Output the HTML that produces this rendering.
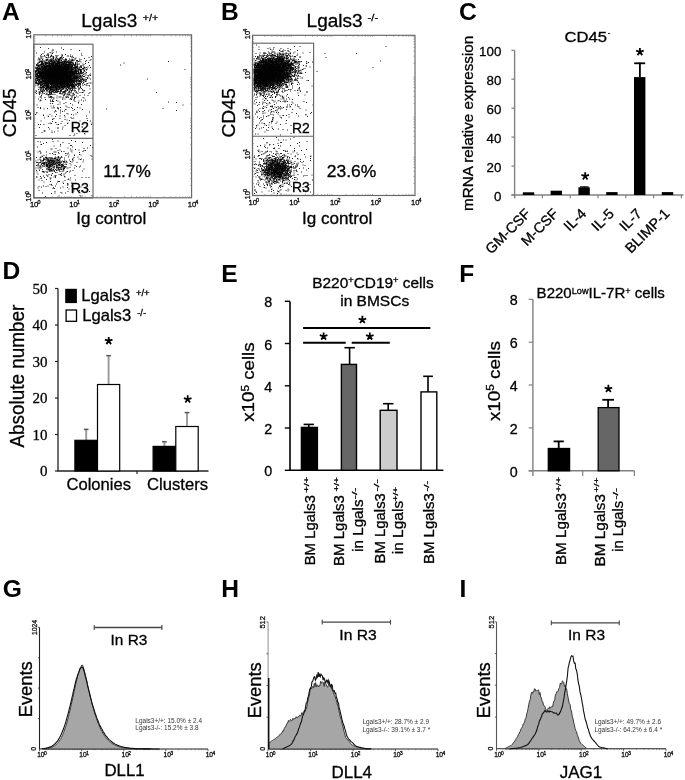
<!DOCTYPE html>
<html><head><meta charset="utf-8"><style>
html,body{margin:0;padding:0;background:#fff;}
body{width:685px;height:780px;overflow:hidden;}
svg{display:block;font-family:"Liberation Sans", sans-serif;filter:grayscale(1);}
svg .r{font-family:"Liberation Serif", serif;}
text{stroke:#000;stroke-width:.3px;}
</style></head><body>
<svg width="685" height="780" viewBox="0 0 685 780">
<text x="1.9" y="19.9" font-size="24.6" font-weight="bold" style="stroke:none">A</text>
<text x="220.9" y="19.9" font-size="24.6" font-weight="bold" style="stroke:none">B</text>
<text x="458.9" y="20.3" font-size="24.6" font-weight="bold" style="stroke:none">C</text>
<text x="2.4" y="279.1" font-size="24.6" font-weight="bold" style="stroke:none">D</text>
<text x="221.2" y="282.0" font-size="24.6" font-weight="bold" style="stroke:none">E</text>
<text x="459.3" y="282.0" font-size="24.6" font-weight="bold" style="stroke:none">F</text>
<text x="2.7" y="596.5" font-size="24.6" font-weight="bold" style="stroke:none">G</text>
<text x="221.2" y="597.0" font-size="24.6" font-weight="bold" style="stroke:none">H</text>
<text x="459.4" y="596.6" font-size="24.6" font-weight="bold" style="stroke:none">I</text>
<path d="M34.5 71h1M34.5 86h1M35 68h1M35 71h1M35 71.5h1M35 72h1M35 72.5h1M35 74h1M35 75h1M35 76h1M35 77h1M35 79h1M35 79.5h1M35 81h1M35 82.5h1M35 83h1M35 92.5h1M35 114.5h1M35.5 67h1M35.5 67.5h1M35.5 68.5h1M35.5 70.5h1M35.5 72h1M35.5 73.5h1M35.5 74.5h1M35.5 75h1M35.5 75.5h1M35.5 76h1M35.5 76.5h1M35.5 78.5h1M35.5 80h1M35.5 80.5h1M35.5 81h1M35.5 81.5h1M35.5 82.5h1M35.5 83.5h1M35.5 85h1M35.5 90.5h1M35.5 135.5h1M35.5 161h1M35.5 168h1M36 53h1M36 64.5h1M36 65.5h1M36 68.5h1M36 70.5h1M36 71.5h1M36 72h1M36 74h1M36 74.5h1M36 76.5h1M36 77h1M36 78.5h1M36 80h1M36 82h1M36 82.5h1M36 83.5h1M36 91.5h1M36 93.5h1M36 113h1M36 157.5h1M36 162.5h1M36 165.5h1M36 170.5h1M36 177h1M36.5 64.5h1M36.5 68h1M36.5 68.5h1M36.5 69h1M36.5 69.5h1M36.5 70h1M36.5 73.5h1M36.5 74.5h1M36.5 75h1M36.5 76.5h1M36.5 77.5h1M36.5 78h1M36.5 78.5h1M36.5 82h1M36.5 83.5h1M36.5 105h1M36.5 112.5h1M36.5 172h1M36.5 177h1M37 64h1M37 65.5h1M37 67.5h1M37 69h1M37 69.5h1M37 70.5h1M37 71h1M37 73h1M37 73.5h1M37 74.5h1M37 75h1M37 75.5h1M37 76h1M37 77h1M37 77.5h1M37 78h1M37 78.5h1M37 79h1M37 80h1M37 80.5h1M37 83h1M37 84h1M37 147h1M37 162.5h1M37 165h1M37.5 60h1M37.5 63h1M37.5 63.5h1M37.5 64h1M37.5 66h1M37.5 66.5h1M37.5 68h1M37.5 68.5h1M37.5 70h1M37.5 71h1M37.5 72h1M37.5 72.5h1M37.5 73h1M37.5 75.5h1M37.5 76h1M37.5 77h1M37.5 77.5h1M37.5 79h1M37.5 79.5h1M37.5 80.5h1M37.5 83.5h1M37.5 85h1M37.5 86h1M37.5 107.5h1M37.5 141.5h1M37.5 152h1M37.5 160h1M37.5 166h1M37.5 168h1M37.5 174h1M37.5 188h1M38 58h1M38 65h1M38 65.5h1M38 66h1M38 68.5h1M38 69.5h1M38 70h1M38 70.5h1M38 71.5h1M38 72h1M38 72.5h1M38 73.5h1M38 75.5h1M38 76h1M38 76.5h1M38 77h1M38 77.5h1M38 79h1M38 79.5h1M38 80h1M38 81.5h1M38 82h1M38 83.5h1M38 84h1M38 84.5h1M38 89.5h1M38 99h1M38 124.5h1M38 164h1M38 165h1M38.5 59h1M38.5 62h1M38.5 62.5h1M38.5 65.5h1M38.5 66.5h1M38.5 67h1M38.5 67.5h1M38.5 68.5h1M38.5 69h1M38.5 70h1M38.5 71.5h1M38.5 72h1M38.5 73h1M38.5 73.5h1M38.5 74.5h1M38.5 76h1M38.5 76.5h1M38.5 77h1M38.5 78h1M38.5 79.5h1M38.5 80.5h1M38.5 82h1M38.5 82.5h1M38.5 87.5h1M38.5 92h1M38.5 93h1M38.5 162.5h1M38.5 163h1M38.5 168h1M38.5 180h1M38.5 186.5h1M38.5 190.5h1M39 59h1M39 60h1M39 62h1M39 62.5h1M39 65h1M39 67h1M39 68h1M39 68.5h1M39 69h1M39 71h1M39 71.5h1M39 72h1M39 72.5h1M39 73h1M39 73.5h1M39 74h1M39 74.5h1M39 75h1M39 76h1M39 76.5h1M39 77h1M39 78h1M39 79.5h1M39 80h1M39 80.5h1M39 81h1M39 82h1M39 83h1M39 83.5h1M39 92h1M39 93h1M39 94.5h1M39 127.5h1M39 167h1M39 170h1M39 170.5h1M39.5 59.5h1M39.5 61.5h1M39.5 65h1M39.5 65.5h1M39.5 67h1M39.5 68.5h1M39.5 69h1M39.5 69.5h1M39.5 70h1M39.5 71h1M39.5 71.5h1M39.5 72h1M39.5 72.5h1M39.5 74h1M39.5 74.5h1M39.5 75h1M39.5 75.5h1M39.5 76h1M39.5 76.5h1M39.5 77h1M39.5 77.5h1M39.5 78.5h1M39.5 79.5h1M39.5 80h1M39.5 81h1M39.5 83h1M39.5 83.5h1M39.5 84h1M39.5 84.5h1M39.5 87h1M39.5 89h1M39.5 92h1M39.5 93.5h1M39.5 97h1M39.5 101h1M39.5 151h1M39.5 151.5h1M39.5 158h1M39.5 159.5h1M39.5 162.5h1M39.5 165.5h1M40 47.5h1M40 56h1M40 58h1M40 61h1M40 61.5h1M40 64.5h1M40 68h1M40 69h1M40 69.5h1M40 71.5h1M40 72h1M40 72.5h1M40 73.5h1M40 74h1M40 74.5h1M40 75h1M40 75.5h1M40 76h1M40 76.5h1M40 77h1M40 78h1M40 79h1M40 81h1M40 81.5h1M40 82.5h1M40 83h1M40 84.5h1M40 85.5h1M40 86h1M40 87.5h1M40 89h1M40 90.5h1M40 92h1M40 97h1M40 100h1M40 107.5h1M40 108.5h1M40 124.5h1M40 142h1M40 153h1M40 157.5h1M40 161h1M40 162.5h1M40 166.5h1M40 168h1M40 176.5h1M40.5 56h1M40.5 63h1M40.5 64.5h1M40.5 65.5h1M40.5 66h1M40.5 66.5h1M40.5 68h1M40.5 68.5h1M40.5 69.5h1M40.5 70h1M40.5 70.5h1M40.5 71h1M40.5 72h1M40.5 72.5h1M40.5 73.5h1M40.5 74h1M40.5 74.5h1M40.5 75h1M40.5 75.5h1M40.5 76h1M40.5 76.5h1M40.5 77h1M40.5 78.5h1M40.5 79.5h1M40.5 82h1M40.5 82.5h1M40.5 83h1M40.5 83.5h1M40.5 84.5h1M40.5 86.5h1M40.5 87.5h1M40.5 88h1M40.5 89.5h1M40.5 100.5h1M40.5 121h1M40.5 144.5h1M40.5 153h1M40.5 157h1M40.5 160h1M40.5 160.5h1M40.5 165h1M40.5 168h1M40.5 178.5h1M41 54.5h1M41 58h1M41 61h1M41 61.5h1M41 62.5h1M41 63.5h1M41 64.5h1M41 66h1M41 67h1M41 67.5h1M41 69h1M41 70.5h1M41 72h1M41 72.5h1M41 73h1M41 73.5h1M41 74h1M41 75h1M41 75.5h1M41 76.5h1M41 77h1M41 77.5h1M41 78h1M41 78.5h1M41 81.5h1M41 82h1M41 82.5h1M41 83h1M41 85.5h1M41 87.5h1M41 88.5h1M41 91h1M41 91.5h1M41 95.5h1M41 96h1M41 98h1M41 144.5h1M41 162h1M41 164h1M41 164.5h1M41 178h1M41 187h1M41.5 56.5h1M41.5 58h1M41.5 61h1M41.5 63h1M41.5 63.5h1M41.5 64h1M41.5 64.5h1M41.5 66h1M41.5 66.5h1M41.5 68.5h1M41.5 69h1M41.5 69.5h1M41.5 70.5h1M41.5 71h1M41.5 71.5h1M41.5 72h1M41.5 72.5h1M41.5 73h1M41.5 73.5h1M41.5 74h1M41.5 74.5h1M41.5 75h1M41.5 75.5h1M41.5 76h1M41.5 76.5h1M41.5 77h1M41.5 77.5h1M41.5 78.5h1M41.5 79h1M41.5 79.5h1M41.5 80h1M41.5 80.5h1M41.5 81h1M41.5 82.5h1M41.5 83h1M41.5 84h1M41.5 84.5h1M41.5 85h1M41.5 86h1M41.5 90h1M41.5 91.5h1M41.5 94h1M41.5 132.5h1M41.5 156h1M41.5 163.5h1M41.5 167h1M41.5 180.5h1M42 59.5h1M42 61.5h1M42 62.5h1M42 63.5h1M42 64.5h1M42 66h1M42 66.5h1M42 67h1M42 67.5h1M42 68.5h1M42 69.5h1M42 70h1M42 70.5h1M42 71h1M42 72h1M42 72.5h1M42 73h1M42 73.5h1M42 74h1M42 74.5h1M42 75h1M42 75.5h1M42 76.5h1M42 77h1M42 77.5h1M42 78h1M42 78.5h1M42 79h1M42 79.5h1M42 80h1M42 80.5h1M42 81h1M42 81.5h1M42 82h1M42 83h1M42 84h1M42 84.5h1M42 86h1M42 87h1M42 87.5h1M42 91h1M42 91.5h1M42 92.5h1M42 156.5h1M42 160.5h1M42 162h1M42 163.5h1M42 166h1M42 169.5h1M42 171.5h1M42 193h1M42.5 53.5h1M42.5 59h1M42.5 60.5h1M42.5 62h1M42.5 65h1M42.5 66h1M42.5 67h1M42.5 67.5h1M42.5 68h1M42.5 69h1M42.5 69.5h1M42.5 70h1M42.5 71.5h1M42.5 72h1M42.5 72.5h1M42.5 73.5h1M42.5 74h1M42.5 75h1M42.5 76h1M42.5 76.5h1M42.5 77h1M42.5 77.5h1M42.5 78h1M42.5 78.5h1M42.5 79.5h1M42.5 80h1M42.5 81.5h1M42.5 83h1M42.5 83.5h1M42.5 84.5h1M42.5 86.5h1M42.5 87h1M42.5 88h1M42.5 89h1M42.5 89.5h1M42.5 90.5h1M42.5 91.5h1M42.5 92h1M42.5 93.5h1M42.5 163h1M42.5 163.5h1M42.5 165.5h1M42.5 172h1M43 63.5h1M43 64.5h1M43 65.5h1M43 67.5h1M43 68.5h1M43 69h1M43 69.5h1M43 70h1M43 71.5h1M43 72h1M43 72.5h1M43 73h1M43 73.5h1M43 74.5h1M43 75h1M43 75.5h1M43 76h1M43 76.5h1M43 77.5h1M43 78h1M43 78.5h1M43 79h1M43 80.5h1M43 81h1M43 81.5h1M43 82h1M43 83h1M43 83.5h1M43 85.5h1M43 86.5h1M43 87.5h1M43 89h1M43 89.5h1M43 115h1M43 115.5h1M43 143.5h1M43 158h1M43 159h1M43 159.5h1M43 160.5h1M43 162h1M43 163h1M43 163.5h1M43 164h1M43 171.5h1M43 176h1M43 186h1M43.5 56.5h1M43.5 61.5h1M43.5 63h1M43.5 65h1M43.5 66h1M43.5 66.5h1M43.5 67h1M43.5 68h1M43.5 68.5h1M43.5 69h1M43.5 69.5h1M43.5 70h1M43.5 70.5h1M43.5 71h1M43.5 72h1M43.5 72.5h1M43.5 73h1M43.5 73.5h1M43.5 74h1M43.5 74.5h1M43.5 75h1M43.5 75.5h1M43.5 76h1M43.5 76.5h1M43.5 77.5h1M43.5 78h1M43.5 78.5h1M43.5 79h1M43.5 80h1M43.5 81h1M43.5 81.5h1M43.5 82h1M43.5 83h1M43.5 83.5h1M43.5 84h1M43.5 85h1M43.5 86h1M43.5 88h1M43.5 89h1M43.5 90.5h1M43.5 109h1M43.5 124.5h1M43.5 131h1M43.5 155.5h1M43.5 159h1M43.5 160h1M43.5 163.5h1M43.5 164h1M43.5 166h1M43.5 166.5h1M43.5 171.5h1M43.5 172.5h1M43.5 182h1M44 52h1M44 55.5h1M44 62h1M44 63h1M44 65h1M44 65.5h1M44 66.5h1M44 67h1M44 67.5h1M44 68h1M44 69h1M44 69.5h1M44 70.5h1M44 71h1M44 71.5h1M44 72h1M44 72.5h1M44 73h1M44 73.5h1M44 74h1M44 75h1M44 75.5h1M44 76h1M44 76.5h1M44 77h1M44 77.5h1M44 78h1M44 78.5h1M44 79h1M44 79.5h1M44 80.5h1M44 81h1M44 81.5h1M44 83h1M44 83.5h1M44 84h1M44 84.5h1M44 85.5h1M44 86h1M44 87.5h1M44 90.5h1M44 91h1M44 93.5h1M44 118h1M44 131h1M44 159.5h1M44 162.5h1M44 163.5h1M44 164.5h1M44 165h1M44 177.5h1M44.5 60.5h1M44.5 64h1M44.5 66h1M44.5 66.5h1M44.5 67h1M44.5 67.5h1M44.5 68h1M44.5 68.5h1M44.5 69.5h1M44.5 70h1M44.5 70.5h1M44.5 71h1M44.5 71.5h1M44.5 72h1M44.5 72.5h1M44.5 73h1M44.5 73.5h1M44.5 74h1M44.5 74.5h1M44.5 75h1M44.5 75.5h1M44.5 76h1M44.5 76.5h1M44.5 77h1M44.5 78h1M44.5 78.5h1M44.5 79h1M44.5 80h1M44.5 80.5h1M44.5 81h1M44.5 81.5h1M44.5 82h1M44.5 82.5h1M44.5 83h1M44.5 83.5h1M44.5 84h1M44.5 84.5h1M44.5 85h1M44.5 85.5h1M44.5 86h1M44.5 97.5h1M44.5 131h1M44.5 158h1M44.5 159h1M45 57h1M45 62h1M45 62.5h1M45 63.5h1M45 64h1M45 64.5h1M45 66h1M45 66.5h1M45 67h1M45 67.5h1M45 68h1M45 68.5h1M45 69h1M45 69.5h1M45 70h1M45 70.5h1M45 71h1M45 71.5h1M45 72h1M45 72.5h1M45 73h1M45 73.5h1M45 74h1M45 74.5h1M45 75h1M45 75.5h1M45 76h1M45 76.5h1M45 77h1M45 77.5h1M45 78h1M45 78.5h1M45 79h1M45 79.5h1M45 80h1M45 80.5h1M45 81h1M45 81.5h1M45 82.5h1M45 83h1M45 83.5h1M45 84h1M45 85.5h1M45 86h1M45 88h1M45 88.5h1M45 89h1M45 89.5h1M45 99.5h1M45 157.5h1M45 162h1M45 163h1M45 165h1M45 196.5h1M45.5 59.5h1M45.5 62h1M45.5 63.5h1M45.5 64h1M45.5 64.5h1M45.5 65.5h1M45.5 66h1M45.5 66.5h1M45.5 67.5h1M45.5 68h1M45.5 69h1M45.5 69.5h1M45.5 70h1M45.5 70.5h1M45.5 71h1M45.5 71.5h1M45.5 72h1M45.5 72.5h1M45.5 73h1M45.5 73.5h1M45.5 74h1M45.5 74.5h1M45.5 75h1M45.5 75.5h1M45.5 76h1M45.5 76.5h1M45.5 77h1M45.5 77.5h1M45.5 78h1M45.5 78.5h1M45.5 79h1M45.5 79.5h1M45.5 80h1M45.5 80.5h1M45.5 81.5h1M45.5 82h1M45.5 82.5h1M45.5 83h1M45.5 83.5h1M45.5 85.5h1M45.5 86h1M45.5 86.5h1M45.5 88h1M45.5 88.5h1M45.5 89h1M45.5 92h1M45.5 94.5h1M45.5 157h1M45.5 157.5h1M45.5 159.5h1M45.5 160h1M45.5 163h1M45.5 167h1M45.5 171.5h1M45.5 186.5h1M46 57.5h1M46 60h1M46 60.5h1M46 62.5h1M46 63.5h1M46 65h1M46 66h1M46 66.5h1M46 67h1M46 67.5h1M46 68h1M46 68.5h1M46 69h1M46 69.5h1M46 70h1M46 70.5h1M46 71h1M46 71.5h1M46 72h1M46 72.5h1M46 73h1M46 73.5h1M46 74h1M46 74.5h1M46 75h1M46 75.5h1M46 76h1M46 76.5h1M46 77h1M46 77.5h1M46 78h1M46 78.5h1M46 79h1M46 79.5h1M46 80h1M46 81h1M46 82h1M46 82.5h1M46 83h1M46 83.5h1M46 84.5h1M46 85.5h1M46 86h1M46 86.5h1M46 87.5h1M46 88.5h1M46 89.5h1M46 90h1M46 91h1M46 94h1M46 142.5h1M46 152h1M46 155h1M46 157.5h1M46 158.5h1M46 162.5h1M46 163h1M46 164h1M46 165h1M46 165.5h1M46 166.5h1M46 169h1M46 175h1M46 179.5h1M46.5 55h1M46.5 55.5h1M46.5 59h1M46.5 60h1M46.5 61h1M46.5 62.5h1M46.5 65.5h1M46.5 66h1M46.5 67h1M46.5 68h1M46.5 68.5h1M46.5 69h1M46.5 69.5h1M46.5 70h1M46.5 70.5h1M46.5 71h1M46.5 71.5h1M46.5 72h1M46.5 73h1M46.5 73.5h1M46.5 74h1M46.5 74.5h1M46.5 75h1M46.5 75.5h1M46.5 76h1M46.5 76.5h1M46.5 77.5h1M46.5 78h1M46.5 78.5h1M46.5 79h1M46.5 79.5h1M46.5 80h1M46.5 80.5h1M46.5 81h1M46.5 81.5h1M46.5 82h1M46.5 82.5h1M46.5 83.5h1M46.5 84.5h1M46.5 85h1M46.5 85.5h1M46.5 87.5h1M46.5 88h1M46.5 90h1M46.5 93.5h1M46.5 158.5h1M46.5 160.5h1M46.5 162h1M46.5 162.5h1M46.5 164h1M46.5 164.5h1M46.5 165h1M46.5 165.5h1M46.5 166.5h1M46.5 169h1M46.5 172.5h1M47 54h1M47 59.5h1M47 63.5h1M47 64h1M47 65.5h1M47 66h1M47 66.5h1M47 67h1M47 68.5h1M47 69h1M47 69.5h1M47 70h1M47 70.5h1M47 71h1M47 71.5h1M47 72h1M47 72.5h1M47 73h1M47 73.5h1M47 74h1M47 74.5h1M47 75h1M47 75.5h1M47 76h1M47 76.5h1M47 77h1M47 77.5h1M47 78h1M47 78.5h1M47 79h1M47 80h1M47 80.5h1M47 81h1M47 81.5h1M47 82.5h1M47 83h1M47 83.5h1M47 84h1M47 84.5h1M47 85.5h1M47 86.5h1M47 87h1M47 87.5h1M47 88h1M47 90h1M47 91h1M47 108.5h1M47 158h1M47 159.5h1M47 161h1M47 164.5h1M47 165h1M47 165.5h1M47 166.5h1M47 172h1M47 176h1M47.5 54.5h1M47.5 57.5h1M47.5 59h1M47.5 60.5h1M47.5 62.5h1M47.5 63h1M47.5 63.5h1M47.5 65h1M47.5 65.5h1M47.5 66h1M47.5 67.5h1M47.5 68h1M47.5 68.5h1M47.5 69h1M47.5 69.5h1M47.5 70h1M47.5 70.5h1M47.5 71h1M47.5 71.5h1M47.5 72h1M47.5 72.5h1M47.5 73h1M47.5 73.5h1M47.5 74h1M47.5 74.5h1M47.5 75h1M47.5 75.5h1M47.5 76h1M47.5 76.5h1M47.5 77h1M47.5 77.5h1M47.5 78h1M47.5 78.5h1M47.5 79.5h1M47.5 80h1M47.5 80.5h1M47.5 81h1M47.5 81.5h1M47.5 82h1M47.5 82.5h1M47.5 83h1M47.5 83.5h1M47.5 84h1M47.5 84.5h1M47.5 85h1M47.5 85.5h1M47.5 86h1M47.5 86.5h1M47.5 87h1M47.5 88h1M47.5 88.5h1M47.5 89h1M47.5 90h1M47.5 92h1M47.5 94.5h1M47.5 95h1M47.5 116h1M47.5 158.5h1M47.5 160.5h1M47.5 161.5h1M47.5 163h1M47.5 164h1M47.5 166.5h1M47.5 167.5h1M47.5 168.5h1M47.5 169h1M47.5 170h1M47.5 176h1M47.5 186h1M48 48.5h1M48 54h1M48 55.5h1M48 56h1M48 57h1M48 62h1M48 65h1M48 65.5h1M48 66.5h1M48 67h1M48 69h1M48 69.5h1M48 70h1M48 70.5h1M48 71h1M48 71.5h1M48 72h1M48 72.5h1M48 73h1M48 73.5h1M48 74h1M48 74.5h1M48 75h1M48 75.5h1M48 76h1M48 76.5h1M48 77h1M48 77.5h1M48 78h1M48 78.5h1M48 79h1M48 79.5h1M48 80h1M48 80.5h1M48 81.5h1M48 82h1M48 83h1M48 83.5h1M48 84h1M48 84.5h1M48 85h1M48 86h1M48 86.5h1M48 87h1M48 87.5h1M48 88h1M48 89.5h1M48 94.5h1M48 96h1M48 116.5h1M48 127.5h1M48 159.5h1M48 160h1M48 161h1M48 163h1M48 163.5h1M48 164h1M48 165h1M48 167.5h1M48 169.5h1M48.5 60h1M48.5 61.5h1M48.5 62h1M48.5 62.5h1M48.5 63h1M48.5 63.5h1M48.5 64.5h1M48.5 65h1M48.5 65.5h1M48.5 66h1M48.5 66.5h1M48.5 67h1M48.5 67.5h1M48.5 68h1M48.5 68.5h1M48.5 69h1M48.5 69.5h1M48.5 70h1M48.5 70.5h1M48.5 71h1M48.5 71.5h1M48.5 72h1M48.5 72.5h1M48.5 73h1M48.5 73.5h1M48.5 74h1M48.5 74.5h1M48.5 75h1M48.5 75.5h1M48.5 76h1M48.5 76.5h1M48.5 77h1M48.5 77.5h1M48.5 78h1M48.5 78.5h1M48.5 79h1M48.5 79.5h1M48.5 80h1M48.5 81h1M48.5 81.5h1M48.5 82h1M48.5 82.5h1M48.5 83.5h1M48.5 84h1M48.5 84.5h1M48.5 85.5h1M48.5 86h1M48.5 87.5h1M48.5 88h1M48.5 91.5h1M48.5 97.5h1M48.5 123.5h1M48.5 157.5h1M48.5 159h1M48.5 160.5h1M48.5 161h1M48.5 161.5h1M48.5 162.5h1M48.5 163.5h1M48.5 165h1M48.5 166h1M48.5 167h1M48.5 167.5h1M48.5 171h1M48.5 174.5h1M49 61h1M49 62.5h1M49 63.5h1M49 64h1M49 64.5h1M49 65h1M49 66h1M49 66.5h1M49 67h1M49 67.5h1M49 68h1M49 68.5h1M49 69h1M49 69.5h1M49 70h1M49 71h1M49 71.5h1M49 72h1M49 72.5h1M49 73h1M49 73.5h1M49 74h1M49 74.5h1M49 75h1M49 75.5h1M49 76h1M49 76.5h1M49 77h1M49 77.5h1M49 78h1M49 78.5h1M49 79.5h1M49 80h1M49 80.5h1M49 81h1M49 81.5h1M49 82h1M49 82.5h1M49 83h1M49 87h1M49 88.5h1M49 90.5h1M49 91.5h1M49 92h1M49 92.5h1M49 93.5h1M49 94.5h1M49 97h1M49 129h1M49 158h1M49 161h1M49 161.5h1M49 162.5h1M49 164h1M49 165.5h1M49 166.5h1M49 167.5h1M49 168h1M49 169.5h1M49 171h1M49.5 52.5h1M49.5 57.5h1M49.5 60h1M49.5 60.5h1M49.5 63h1M49.5 63.5h1M49.5 64h1M49.5 65h1M49.5 65.5h1M49.5 66h1M49.5 66.5h1M49.5 67h1M49.5 67.5h1M49.5 68h1M49.5 68.5h1M49.5 69h1M49.5 69.5h1M49.5 70h1M49.5 70.5h1M49.5 71h1M49.5 71.5h1M49.5 72h1M49.5 72.5h1M49.5 73h1M49.5 73.5h1M49.5 74h1M49.5 74.5h1M49.5 75h1M49.5 75.5h1M49.5 76h1M49.5 76.5h1M49.5 77h1M49.5 77.5h1M49.5 78h1M49.5 78.5h1M49.5 79h1M49.5 79.5h1M49.5 80.5h1M49.5 81h1M49.5 81.5h1M49.5 82h1M49.5 83h1M49.5 84h1M49.5 86h1M49.5 87h1M49.5 87.5h1M49.5 88h1M49.5 88.5h1M49.5 89h1M49.5 89.5h1M49.5 90h1M49.5 92.5h1M49.5 95h1M49.5 114.5h1M49.5 153.5h1M49.5 160h1M49.5 160.5h1M49.5 163.5h1M49.5 164h1M49.5 165h1M49.5 165.5h1M49.5 166h1M49.5 167h1M49.5 168.5h1M49.5 170.5h1M49.5 171h1M49.5 178h1M49.5 184.5h1M50 56.5h1M50 60h1M50 61.5h1M50 63.5h1M50 65h1M50 65.5h1M50 66h1M50 66.5h1M50 67h1M50 67.5h1M50 68h1M50 68.5h1M50 69h1M50 69.5h1M50 70h1M50 70.5h1M50 71h1M50 71.5h1M50 72.5h1M50 73h1M50 73.5h1M50 74h1M50 74.5h1M50 75h1M50 75.5h1M50 76h1M50 76.5h1M50 77h1M50 77.5h1M50 78h1M50 78.5h1M50 79h1M50 79.5h1M50 80h1M50 80.5h1M50 81h1M50 81.5h1M50 82h1M50 82.5h1M50 83h1M50 83.5h1M50 84h1M50 84.5h1M50 86.5h1M50 87h1M50 87.5h1M50 88.5h1M50 89h1M50 89.5h1M50 90h1M50 90.5h1M50 93h1M50 94h1M50 96.5h1M50 97.5h1M50 100h1M50 101h1M50 103.5h1M50 123h1M50 158h1M50 160h1M50 160.5h1M50 161h1M50 162.5h1M50 164h1M50 164.5h1M50 165h1M50 165.5h1M50 166h1M50 169.5h1M50 170h1M50 179h1M50 181.5h1M50.5 53h1M50.5 56h1M50.5 59h1M50.5 59.5h1M50.5 60.5h1M50.5 61h1M50.5 61.5h1M50.5 63h1M50.5 64h1M50.5 65h1M50.5 65.5h1M50.5 66.5h1M50.5 67h1M50.5 67.5h1M50.5 68h1M50.5 68.5h1M50.5 69h1M50.5 69.5h1M50.5 70.5h1M50.5 71h1M50.5 72h1M50.5 72.5h1M50.5 73h1M50.5 73.5h1M50.5 74h1M50.5 74.5h1M50.5 75h1M50.5 75.5h1M50.5 76h1M50.5 76.5h1M50.5 77h1M50.5 77.5h1M50.5 78h1M50.5 78.5h1M50.5 79h1M50.5 79.5h1M50.5 80.5h1M50.5 81h1M50.5 81.5h1M50.5 82h1M50.5 82.5h1M50.5 83h1M50.5 83.5h1M50.5 84h1M50.5 84.5h1M50.5 85h1M50.5 86h1M50.5 86.5h1M50.5 87h1M50.5 88h1M50.5 89h1M50.5 89.5h1M50.5 91h1M50.5 91.5h1M50.5 92.5h1M50.5 94.5h1M50.5 101.5h1M50.5 106h1M50.5 149h1M50.5 158h1M50.5 158.5h1M50.5 159.5h1M50.5 160.5h1M50.5 161.5h1M50.5 164.5h1M50.5 166.5h1M50.5 167h1M50.5 169.5h1M50.5 171.5h1M50.5 178h1M51 55h1M51 55.5h1M51 59h1M51 60.5h1M51 61.5h1M51 62h1M51 63h1M51 63.5h1M51 64h1M51 64.5h1M51 65h1M51 67h1M51 67.5h1M51 68h1M51 68.5h1M51 69h1M51 69.5h1M51 70h1M51 70.5h1M51 71h1M51 71.5h1M51 72h1M51 72.5h1M51 73h1M51 73.5h1M51 74h1M51 74.5h1M51 75h1M51 75.5h1M51 76h1M51 76.5h1M51 77h1M51 77.5h1M51 78h1M51 78.5h1M51 79h1M51 79.5h1M51 80h1M51 80.5h1M51 81.5h1M51 82h1M51 82.5h1M51 83h1M51 83.5h1M51 84h1M51 84.5h1M51 85h1M51 85.5h1M51 86h1M51 86.5h1M51 87h1M51 87.5h1M51 88h1M51 89h1M51 89.5h1M51 91h1M51 92.5h1M51 93h1M51 93.5h1M51 96.5h1M51 98h1M51 123.5h1M51 158h1M51 160h1M51 160.5h1M51 162h1M51 162.5h1M51 164h1M51 164.5h1M51 165h1M51 166h1M51 168.5h1M51 170.5h1M51 175h1M51 175.5h1M51 184.5h1M51 193.5h1M51.5 51h1M51.5 56h1M51.5 56.5h1M51.5 60h1M51.5 61h1M51.5 64h1M51.5 64.5h1M51.5 65h1M51.5 65.5h1M51.5 66h1M51.5 66.5h1M51.5 67h1M51.5 67.5h1M51.5 68h1M51.5 68.5h1M51.5 69h1M51.5 69.5h1M51.5 70h1M51.5 70.5h1M51.5 71h1M51.5 71.5h1M51.5 72h1M51.5 72.5h1M51.5 73h1M51.5 73.5h1M51.5 74h1M51.5 74.5h1M51.5 75h1M51.5 75.5h1M51.5 76h1M51.5 76.5h1M51.5 77h1M51.5 77.5h1M51.5 78h1M51.5 78.5h1M51.5 79h1M51.5 79.5h1M51.5 80h1M51.5 80.5h1M51.5 81h1M51.5 81.5h1M51.5 82h1M51.5 82.5h1M51.5 83.5h1M51.5 84.5h1M51.5 85h1M51.5 86h1M51.5 86.5h1M51.5 87h1M51.5 89h1M51.5 89.5h1M51.5 90h1M51.5 91.5h1M51.5 92h1M51.5 94.5h1M51.5 97h1M51.5 97.5h1M51.5 108h1M51.5 116h1M51.5 131h1M51.5 132.5h1M51.5 149h1M51.5 161.5h1M51.5 163h1M51.5 164h1M51.5 164.5h1M51.5 169h1M51.5 170h1M51.5 171h1M51.5 185.5h1M52 53.5h1M52 58h1M52 61h1M52 61.5h1M52 62.5h1M52 63h1M52 64h1M52 64.5h1M52 65.5h1M52 66h1M52 67h1M52 68h1M52 68.5h1M52 69h1M52 69.5h1M52 70h1M52 70.5h1M52 71h1M52 71.5h1M52 72h1M52 72.5h1M52 73h1M52 73.5h1M52 74h1M52 74.5h1M52 75h1M52 75.5h1M52 76h1M52 76.5h1M52 77h1M52 77.5h1M52 78h1M52 78.5h1M52 79h1M52 79.5h1M52 80h1M52 80.5h1M52 81h1M52 81.5h1M52 82.5h1M52 83h1M52 83.5h1M52 84.5h1M52 86h1M52 87.5h1M52 89h1M52 89.5h1M52 90h1M52 91.5h1M52 100.5h1M52 101.5h1M52 103.5h1M52 119.5h1M52 121.5h1M52 139.5h1M52 153.5h1M52 158h1M52 158.5h1M52 159h1M52 160.5h1M52 161.5h1M52 162h1M52 163.5h1M52 165.5h1M52 166h1M52 173.5h1M52.5 49.5h1M52.5 50.5h1M52.5 52.5h1M52.5 59h1M52.5 59.5h1M52.5 62.5h1M52.5 63h1M52.5 63.5h1M52.5 64h1M52.5 65h1M52.5 65.5h1M52.5 66h1M52.5 66.5h1M52.5 67h1M52.5 67.5h1M52.5 68h1M52.5 68.5h1M52.5 69h1M52.5 69.5h1M52.5 70h1M52.5 70.5h1M52.5 71h1M52.5 71.5h1M52.5 72h1M52.5 72.5h1M52.5 73h1M52.5 73.5h1M52.5 74h1M52.5 74.5h1M52.5 75h1M52.5 75.5h1M52.5 76h1M52.5 76.5h1M52.5 77h1M52.5 77.5h1M52.5 78h1M52.5 78.5h1M52.5 79h1M52.5 79.5h1M52.5 80h1M52.5 80.5h1M52.5 81h1M52.5 81.5h1M52.5 82h1M52.5 82.5h1M52.5 83h1M52.5 83.5h1M52.5 84h1M52.5 84.5h1M52.5 85h1M52.5 85.5h1M52.5 86h1M52.5 86.5h1M52.5 88h1M52.5 88.5h1M52.5 89.5h1M52.5 90.5h1M52.5 91h1M52.5 91.5h1M52.5 92h1M52.5 94.5h1M52.5 99.5h1M52.5 119h1M52.5 141.5h1M52.5 160h1M52.5 160.5h1M52.5 161h1M52.5 163h1M52.5 163.5h1M52.5 164h1M52.5 164.5h1M52.5 166h1M52.5 167.5h1M52.5 170.5h1M52.5 171h1M52.5 188.5h1M53 56.5h1M53 57.5h1M53 58.5h1M53 60.5h1M53 61h1M53 62.5h1M53 63h1M53 64h1M53 64.5h1M53 65h1M53 65.5h1M53 66h1M53 66.5h1M53 67h1M53 67.5h1M53 68h1M53 68.5h1M53 69h1M53 69.5h1M53 70h1M53 70.5h1M53 71h1M53 71.5h1M53 72h1M53 72.5h1M53 73h1M53 73.5h1M53 74h1M53 74.5h1M53 75h1M53 75.5h1M53 76h1M53 76.5h1M53 77h1M53 77.5h1M53 78h1M53 78.5h1M53 79h1M53 79.5h1M53 80h1M53 80.5h1M53 81h1M53 81.5h1M53 82h1M53 82.5h1M53 83.5h1M53 84h1M53 85h1M53 85.5h1M53 86.5h1M53 87h1M53 87.5h1M53 89h1M53 90h1M53 98h1M53 101.5h1M53 106h1M53 159h1M53 161h1M53 162h1M53 162.5h1M53 163.5h1M53 164h1M53 167h1M53 169h1M53 169.5h1M53 187.5h1M53.5 58h1M53.5 60h1M53.5 61.5h1M53.5 62h1M53.5 63h1M53.5 63.5h1M53.5 64h1M53.5 64.5h1M53.5 65h1M53.5 66h1M53.5 66.5h1M53.5 67h1M53.5 67.5h1M53.5 68h1M53.5 68.5h1M53.5 69h1M53.5 69.5h1M53.5 70h1M53.5 70.5h1M53.5 71h1M53.5 71.5h1M53.5 72h1M53.5 72.5h1M53.5 73h1M53.5 73.5h1M53.5 74h1M53.5 74.5h1M53.5 75h1M53.5 75.5h1M53.5 76h1M53.5 76.5h1M53.5 77h1M53.5 77.5h1M53.5 78h1M53.5 78.5h1M53.5 79h1M53.5 79.5h1M53.5 80h1M53.5 80.5h1M53.5 81h1M53.5 81.5h1M53.5 82h1M53.5 82.5h1M53.5 83h1M53.5 83.5h1M53.5 84h1M53.5 84.5h1M53.5 85h1M53.5 85.5h1M53.5 87h1M53.5 87.5h1M53.5 88h1M53.5 90.5h1M53.5 91h1M53.5 92.5h1M53.5 93h1M53.5 98h1M53.5 107.5h1M53.5 108h1M53.5 118.5h1M53.5 146h1M53.5 152h1M53.5 154.5h1M53.5 160h1M53.5 161h1M53.5 161.5h1M53.5 162h1M53.5 162.5h1M53.5 163.5h1M53.5 164.5h1M53.5 165h1M53.5 167.5h1M53.5 177h1M54 61.5h1M54 62h1M54 62.5h1M54 65h1M54 65.5h1M54 66.5h1M54 67h1M54 67.5h1M54 68h1M54 68.5h1M54 69h1M54 69.5h1M54 70h1M54 70.5h1M54 71h1M54 71.5h1M54 72h1M54 72.5h1M54 73h1M54 73.5h1M54 74h1M54 74.5h1M54 75h1M54 75.5h1M54 76h1M54 76.5h1M54 77h1M54 77.5h1M54 78h1M54 78.5h1M54 79h1M54 80h1M54 80.5h1M54 81h1M54 81.5h1M54 82h1M54 82.5h1M54 83h1M54 83.5h1M54 85h1M54 85.5h1M54 86.5h1M54 88h1M54 89h1M54 90h1M54 90.5h1M54 112h1M54 132h1M54 158h1M54 158.5h1M54 160h1M54 161.5h1M54 163h1M54 164.5h1M54 166.5h1M54 168h1M54 170.5h1M54 171.5h1M54 188.5h1M54.5 60.5h1M54.5 61h1M54.5 61.5h1M54.5 63.5h1M54.5 64h1M54.5 65.5h1M54.5 66.5h1M54.5 67h1M54.5 67.5h1M54.5 68h1M54.5 68.5h1M54.5 69h1M54.5 69.5h1M54.5 70h1M54.5 70.5h1M54.5 71h1M54.5 71.5h1M54.5 72h1M54.5 72.5h1M54.5 73h1M54.5 73.5h1M54.5 74h1M54.5 74.5h1M54.5 75h1M54.5 75.5h1M54.5 76h1M54.5 76.5h1M54.5 77h1M54.5 77.5h1M54.5 78h1M54.5 78.5h1M54.5 79.5h1M54.5 80h1M54.5 80.5h1M54.5 81h1M54.5 81.5h1M54.5 82h1M54.5 82.5h1M54.5 83h1M54.5 83.5h1M54.5 84.5h1M54.5 85.5h1M54.5 86h1M54.5 86.5h1M54.5 87.5h1M54.5 88h1M54.5 89.5h1M54.5 90h1M54.5 92h1M54.5 92.5h1M54.5 94.5h1M54.5 152h1M54.5 158.5h1M54.5 161h1M54.5 162h1M54.5 164.5h1M54.5 175.5h1M54.5 191.5h1M54.5 193h1M55 59h1M55 59.5h1M55 62.5h1M55 63.5h1M55 64h1M55 64.5h1M55 65h1M55 65.5h1M55 66h1M55 66.5h1M55 67h1M55 67.5h1M55 68h1M55 68.5h1M55 69h1M55 69.5h1M55 70h1M55 70.5h1M55 71h1M55 71.5h1M55 72h1M55 72.5h1M55 73h1M55 73.5h1M55 74h1M55 74.5h1M55 75h1M55 75.5h1M55 76h1M55 76.5h1M55 77h1M55 77.5h1M55 78h1M55 78.5h1M55 79h1M55 79.5h1M55 80h1M55 80.5h1M55 81h1M55 81.5h1M55 82h1M55 82.5h1M55 83h1M55 83.5h1M55 84h1M55 84.5h1M55 85h1M55 85.5h1M55 86h1M55 86.5h1M55 87h1M55 87.5h1M55 88h1M55 90h1M55 91.5h1M55 92h1M55 110.5h1M55 116.5h1M55 122.5h1M55 154.5h1M55 157h1M55 158.5h1M55 160h1M55 162h1M55 163.5h1M55 169.5h1M55 172.5h1M55 176.5h1M55 177.5h1M55 186h1M55.5 55.5h1M55.5 56h1M55.5 58h1M55.5 60h1M55.5 61h1M55.5 62h1M55.5 63h1M55.5 64h1M55.5 64.5h1M55.5 65h1M55.5 65.5h1M55.5 66h1M55.5 66.5h1M55.5 67h1M55.5 67.5h1M55.5 68h1M55.5 68.5h1M55.5 69h1M55.5 69.5h1M55.5 70h1M55.5 70.5h1M55.5 71h1M55.5 71.5h1M55.5 72h1M55.5 72.5h1M55.5 73h1M55.5 73.5h1M55.5 74h1M55.5 74.5h1M55.5 75h1M55.5 75.5h1M55.5 76h1M55.5 76.5h1M55.5 77h1M55.5 77.5h1M55.5 78h1M55.5 78.5h1M55.5 79h1M55.5 79.5h1M55.5 80h1M55.5 80.5h1M55.5 81h1M55.5 81.5h1M55.5 82.5h1M55.5 83h1M55.5 84h1M55.5 84.5h1M55.5 85h1M55.5 85.5h1M55.5 86h1M55.5 86.5h1M55.5 87h1M55.5 88h1M55.5 88.5h1M55.5 89h1M55.5 89.5h1M55.5 91h1M55.5 91.5h1M55.5 111.5h1M55.5 122.5h1M55.5 148.5h1M55.5 152h1M55.5 157.5h1M55.5 158.5h1M55.5 160h1M55.5 163h1M55.5 163.5h1M55.5 164.5h1M55.5 166h1M55.5 175.5h1M56 52h1M56 57.5h1M56 60h1M56 60.5h1M56 61h1M56 63.5h1M56 64h1M56 64.5h1M56 65h1M56 65.5h1M56 66h1M56 66.5h1M56 67h1M56 68h1M56 68.5h1M56 69h1M56 69.5h1M56 70h1M56 70.5h1M56 71h1M56 71.5h1M56 72h1M56 72.5h1M56 73h1M56 73.5h1M56 74h1M56 74.5h1M56 75h1M56 75.5h1M56 76h1M56 76.5h1M56 77h1M56 77.5h1M56 78h1M56 78.5h1M56 79h1M56 79.5h1M56 80h1M56 80.5h1M56 81h1M56 81.5h1M56 82h1M56 82.5h1M56 83h1M56 83.5h1M56 84h1M56 84.5h1M56 85h1M56 86h1M56 87h1M56 87.5h1M56 88h1M56 88.5h1M56 89.5h1M56 90h1M56 90.5h1M56 91h1M56 92.5h1M56 100.5h1M56 114.5h1M56 160h1M56 162h1M56 162.5h1M56 165h1M56 165.5h1M56 167h1M56 167.5h1M56 168h1M56 170h1M56 170.5h1M56 184h1M56.5 56.5h1M56.5 58.5h1M56.5 61h1M56.5 62.5h1M56.5 63.5h1M56.5 64h1M56.5 64.5h1M56.5 65.5h1M56.5 66h1M56.5 66.5h1M56.5 67h1M56.5 67.5h1M56.5 68.5h1M56.5 69h1M56.5 69.5h1M56.5 70h1M56.5 70.5h1M56.5 71h1M56.5 71.5h1M56.5 72h1M56.5 72.5h1M56.5 73h1M56.5 73.5h1M56.5 74h1M56.5 74.5h1M56.5 75h1M56.5 75.5h1M56.5 76h1M56.5 76.5h1M56.5 77h1M56.5 77.5h1M56.5 78h1M56.5 78.5h1M56.5 79h1M56.5 79.5h1M56.5 80h1M56.5 80.5h1M56.5 81h1M56.5 81.5h1M56.5 82h1M56.5 82.5h1M56.5 83h1M56.5 83.5h1M56.5 84h1M56.5 84.5h1M56.5 85h1M56.5 86h1M56.5 87h1M56.5 88h1M56.5 88.5h1M56.5 90.5h1M56.5 96h1M56.5 98h1M56.5 124.5h1M56.5 159.5h1M56.5 160h1M56.5 161h1M56.5 162h1M56.5 163h1M56.5 165.5h1M56.5 166.5h1M56.5 167h1M56.5 167.5h1M56.5 170.5h1M56.5 172.5h1M57 59h1M57 61.5h1M57 62h1M57 63h1M57 63.5h1M57 64h1M57 64.5h1M57 65h1M57 65.5h1M57 66h1M57 66.5h1M57 67h1M57 67.5h1M57 68h1M57 68.5h1M57 69h1M57 69.5h1M57 70h1M57 70.5h1M57 71h1M57 71.5h1M57 72h1M57 72.5h1M57 73h1M57 73.5h1M57 74h1M57 74.5h1M57 75h1M57 75.5h1M57 76h1M57 76.5h1M57 77h1M57 77.5h1M57 78h1M57 78.5h1M57 79h1M57 79.5h1M57 80h1M57 80.5h1M57 81h1M57 81.5h1M57 82h1M57 82.5h1M57 83h1M57 83.5h1M57 84h1M57 84.5h1M57 85h1M57 85.5h1M57 86h1M57 86.5h1M57 87h1M57 88h1M57 89h1M57 89.5h1M57 91.5h1M57 92h1M57 108h1M57 159h1M57 159.5h1M57 160h1M57 161h1M57 163h1M57 168h1M57 182h1M57.5 55.5h1M57.5 59h1M57.5 60h1M57.5 61h1M57.5 61.5h1M57.5 62h1M57.5 62.5h1M57.5 63h1M57.5 64h1M57.5 64.5h1M57.5 65.5h1M57.5 66h1M57.5 66.5h1M57.5 67h1M57.5 67.5h1M57.5 68h1M57.5 68.5h1M57.5 69h1M57.5 69.5h1M57.5 70h1M57.5 70.5h1M57.5 71h1M57.5 71.5h1M57.5 72h1M57.5 72.5h1M57.5 73h1M57.5 73.5h1M57.5 74h1M57.5 74.5h1M57.5 75h1M57.5 75.5h1M57.5 76h1M57.5 76.5h1M57.5 77h1M57.5 77.5h1M57.5 78h1M57.5 78.5h1M57.5 79h1M57.5 79.5h1M57.5 80h1M57.5 80.5h1M57.5 81h1M57.5 81.5h1M57.5 82h1M57.5 82.5h1M57.5 84h1M57.5 85.5h1M57.5 86h1M57.5 86.5h1M57.5 87h1M57.5 89.5h1M57.5 90h1M57.5 91.5h1M57.5 92h1M57.5 101h1M57.5 104.5h1M57.5 107.5h1M57.5 108.5h1M57.5 127.5h1M57.5 128.5h1M57.5 131h1M57.5 141h1M57.5 150.5h1M57.5 157h1M57.5 157.5h1M57.5 159.5h1M57.5 160.5h1M57.5 162.5h1M57.5 163.5h1M57.5 164h1M57.5 165h1M57.5 165.5h1M57.5 167h1M57.5 169.5h1M58 59.5h1M58 60.5h1M58 61.5h1M58 62h1M58 62.5h1M58 63h1M58 63.5h1M58 64h1M58 65.5h1M58 66h1M58 66.5h1M58 67h1M58 67.5h1M58 68.5h1M58 69h1M58 69.5h1M58 70h1M58 70.5h1M58 71h1M58 71.5h1M58 72h1M58 72.5h1M58 73h1M58 73.5h1M58 74h1M58 74.5h1M58 75h1M58 75.5h1M58 76h1M58 76.5h1M58 77h1M58 77.5h1M58 78h1M58 78.5h1M58 79h1M58 79.5h1M58 80h1M58 80.5h1M58 81h1M58 81.5h1M58 82h1M58 82.5h1M58 83h1M58 83.5h1M58 84.5h1M58 85h1M58 86h1M58 86.5h1M58 87.5h1M58 88h1M58 89.5h1M58 91h1M58 91.5h1M58 109h1M58 124.5h1M58 152.5h1M58 156.5h1M58 157h1M58 158h1M58 160.5h1M58 162.5h1M58 164.5h1M58 167.5h1M58 168.5h1M58 170h1M58 181.5h1M58.5 59h1M58.5 59.5h1M58.5 60h1M58.5 61h1M58.5 61.5h1M58.5 63h1M58.5 63.5h1M58.5 64h1M58.5 65h1M58.5 65.5h1M58.5 66h1M58.5 66.5h1M58.5 67h1M58.5 67.5h1M58.5 68h1M58.5 68.5h1M58.5 69h1M58.5 69.5h1M58.5 70h1M58.5 70.5h1M58.5 71h1M58.5 71.5h1M58.5 72h1M58.5 72.5h1M58.5 73h1M58.5 73.5h1M58.5 74h1M58.5 74.5h1M58.5 75h1M58.5 75.5h1M58.5 76h1M58.5 76.5h1M58.5 77h1M58.5 77.5h1M58.5 78h1M58.5 78.5h1M58.5 79h1M58.5 79.5h1M58.5 80h1M58.5 80.5h1M58.5 81.5h1M58.5 82h1M58.5 83h1M58.5 83.5h1M58.5 84.5h1M58.5 86h1M58.5 86.5h1M58.5 87.5h1M58.5 88h1M58.5 88.5h1M58.5 89.5h1M58.5 97h1M58.5 153.5h1M58.5 157.5h1M58.5 159h1M58.5 160.5h1M58.5 161h1M58.5 161.5h1M58.5 162.5h1M58.5 163h1M58.5 164.5h1M58.5 166h1M58.5 169h1M58.5 174.5h1M58.5 196h1M59 58.5h1M59 59.5h1M59 60h1M59 61h1M59 62h1M59 62.5h1M59 63.5h1M59 64.5h1M59 65h1M59 65.5h1M59 66h1M59 66.5h1M59 67h1M59 67.5h1M59 68h1M59 68.5h1M59 69h1M59 69.5h1M59 70h1M59 70.5h1M59 71h1M59 71.5h1M59 72h1M59 72.5h1M59 73h1M59 73.5h1M59 74h1M59 74.5h1M59 75h1M59 75.5h1M59 76h1M59 76.5h1M59 77h1M59 77.5h1M59 78h1M59 78.5h1M59 79h1M59 79.5h1M59 80h1M59 80.5h1M59 81h1M59 81.5h1M59 82h1M59 82.5h1M59 83.5h1M59 84h1M59 85h1M59 86h1M59 86.5h1M59 87.5h1M59 88.5h1M59 89h1M59 93.5h1M59 159.5h1M59 162h1M59 163h1M59 164.5h1M59 165.5h1M59 167.5h1M59 169.5h1M59 170h1M59 171h1M59 181.5h1M59.5 58h1M59.5 58.5h1M59.5 60.5h1M59.5 62.5h1M59.5 63h1M59.5 64h1M59.5 65.5h1M59.5 66h1M59.5 66.5h1M59.5 67h1M59.5 67.5h1M59.5 68h1M59.5 68.5h1M59.5 69h1M59.5 69.5h1M59.5 70h1M59.5 70.5h1M59.5 71h1M59.5 71.5h1M59.5 72h1M59.5 72.5h1M59.5 73h1M59.5 73.5h1M59.5 74h1M59.5 74.5h1M59.5 75h1M59.5 75.5h1M59.5 76h1M59.5 76.5h1M59.5 77h1M59.5 77.5h1M59.5 78h1M59.5 78.5h1M59.5 79h1M59.5 79.5h1M59.5 80h1M59.5 80.5h1M59.5 81h1M59.5 81.5h1M59.5 82h1M59.5 82.5h1M59.5 83h1M59.5 83.5h1M59.5 84h1M59.5 84.5h1M59.5 85h1M59.5 85.5h1M59.5 86.5h1M59.5 87.5h1M59.5 88h1M59.5 88.5h1M59.5 89h1M59.5 91.5h1M59.5 92h1M59.5 93h1M59.5 97h1M59.5 102h1M59.5 104h1M59.5 116h1M59.5 118.5h1M59.5 150h1M59.5 158.5h1M59.5 160h1M59.5 161h1M59.5 163h1M59.5 164h1M59.5 165h1M59.5 167.5h1M59.5 171.5h1M60 57.5h1M60 58h1M60 59h1M60 62.5h1M60 63h1M60 65h1M60 66h1M60 66.5h1M60 67h1M60 67.5h1M60 68h1M60 68.5h1M60 69.5h1M60 70h1M60 70.5h1M60 71h1M60 71.5h1M60 72h1M60 72.5h1M60 73h1M60 73.5h1M60 74h1M60 74.5h1M60 75h1M60 75.5h1M60 76h1M60 76.5h1M60 77h1M60 77.5h1M60 78h1M60 78.5h1M60 79h1M60 79.5h1M60 80h1M60 80.5h1M60 81h1M60 81.5h1M60 82h1M60 82.5h1M60 83h1M60 83.5h1M60 84h1M60 84.5h1M60 85h1M60 85.5h1M60 86h1M60 87h1M60 90h1M60 90.5h1M60 91h1M60 92h1M60 93.5h1M60 107.5h1M60 110h1M60 111h1M60 113h1M60 144.5h1M60 146h1M60 158h1M60 163h1M60 169h1M60 174.5h1M60 188h1M60.5 60h1M60.5 61.5h1M60.5 62h1M60.5 62.5h1M60.5 64h1M60.5 64.5h1M60.5 65h1M60.5 65.5h1M60.5 66h1M60.5 66.5h1M60.5 67h1M60.5 67.5h1M60.5 68h1M60.5 68.5h1M60.5 69h1M60.5 70h1M60.5 70.5h1M60.5 71h1M60.5 71.5h1M60.5 72h1M60.5 72.5h1M60.5 73h1M60.5 73.5h1M60.5 74h1M60.5 74.5h1M60.5 75h1M60.5 75.5h1M60.5 76h1M60.5 76.5h1M60.5 77h1M60.5 77.5h1M60.5 78h1M60.5 78.5h1M60.5 79h1M60.5 79.5h1M60.5 80h1M60.5 80.5h1M60.5 81h1M60.5 81.5h1M60.5 82h1M60.5 82.5h1M60.5 83.5h1M60.5 84h1M60.5 84.5h1M60.5 85h1M60.5 85.5h1M60.5 87.5h1M60.5 88h1M60.5 88.5h1M60.5 90.5h1M60.5 91.5h1M60.5 94h1M60.5 97h1M60.5 123.5h1M60.5 157.5h1M60.5 161.5h1M60.5 162.5h1M60.5 165h1M60.5 165.5h1M60.5 166h1M60.5 167.5h1M60.5 168h1M60.5 169.5h1M60.5 175h1M60.5 192.5h1M61 48h1M61 56h1M61 57.5h1M61 60h1M61 60.5h1M61 62.5h1M61 63.5h1M61 64.5h1M61 65h1M61 65.5h1M61 66h1M61 66.5h1M61 67h1M61 68h1M61 68.5h1M61 69h1M61 69.5h1M61 70h1M61 70.5h1M61 71h1M61 71.5h1M61 72h1M61 72.5h1M61 73h1M61 73.5h1M61 74h1M61 74.5h1M61 75h1M61 75.5h1M61 76h1M61 76.5h1M61 77h1M61 77.5h1M61 78h1M61 78.5h1M61 79h1M61 79.5h1M61 80h1M61 80.5h1M61 81.5h1M61 82h1M61 82.5h1M61 83h1M61 83.5h1M61 84h1M61 85.5h1M61 86h1M61 86.5h1M61 87h1M61 87.5h1M61 89.5h1M61 90.5h1M61 91h1M61 151.5h1M61 156.5h1M61 162h1M61 165h1M61 166.5h1M61 167h1M61 169h1M61 173.5h1M61 175.5h1M61.5 54.5h1M61.5 56.5h1M61.5 58h1M61.5 58.5h1M61.5 62h1M61.5 62.5h1M61.5 64.5h1M61.5 65.5h1M61.5 66h1M61.5 66.5h1M61.5 67h1M61.5 67.5h1M61.5 68h1M61.5 68.5h1M61.5 69h1M61.5 69.5h1M61.5 70h1M61.5 70.5h1M61.5 71h1M61.5 71.5h1M61.5 72h1M61.5 72.5h1M61.5 73h1M61.5 73.5h1M61.5 74h1M61.5 74.5h1M61.5 75h1M61.5 75.5h1M61.5 76h1M61.5 76.5h1M61.5 77h1M61.5 77.5h1M61.5 78h1M61.5 78.5h1M61.5 79h1M61.5 79.5h1M61.5 80h1M61.5 80.5h1M61.5 81h1M61.5 81.5h1M61.5 82h1M61.5 82.5h1M61.5 83h1M61.5 83.5h1M61.5 84h1M61.5 84.5h1M61.5 85h1M61.5 85.5h1M61.5 86h1M61.5 86.5h1M61.5 87.5h1M61.5 88h1M61.5 93.5h1M61.5 121.5h1M61.5 157.5h1M61.5 164h1M61.5 164.5h1M61.5 165h1M61.5 166.5h1M61.5 169.5h1M61.5 171h1M61.5 193h1M62 55.5h1M62 59h1M62 61.5h1M62 62.5h1M62 63.5h1M62 64.5h1M62 65h1M62 66.5h1M62 67h1M62 67.5h1M62 68h1M62 68.5h1M62 69h1M62 69.5h1M62 70.5h1M62 71h1M62 71.5h1M62 72h1M62 72.5h1M62 73h1M62 73.5h1M62 74h1M62 74.5h1M62 75h1M62 75.5h1M62 76h1M62 76.5h1M62 77h1M62 77.5h1M62 78h1M62 78.5h1M62 79h1M62 79.5h1M62 80h1M62 80.5h1M62 81h1M62 81.5h1M62 82h1M62 82.5h1M62 83.5h1M62 84.5h1M62 85h1M62 86.5h1M62 87h1M62 88h1M62 89.5h1M62 92h1M62 94h1M62 99h1M62 111.5h1M62 129h1M62 161h1M62 164.5h1M62 165.5h1M62.5 63h1M62.5 64h1M62.5 65h1M62.5 66.5h1M62.5 67h1M62.5 67.5h1M62.5 68h1M62.5 68.5h1M62.5 69h1M62.5 69.5h1M62.5 70h1M62.5 70.5h1M62.5 71h1M62.5 71.5h1M62.5 72h1M62.5 72.5h1M62.5 73h1M62.5 73.5h1M62.5 74h1M62.5 74.5h1M62.5 75h1M62.5 75.5h1M62.5 76h1M62.5 76.5h1M62.5 77h1M62.5 77.5h1M62.5 78h1M62.5 78.5h1M62.5 79h1M62.5 79.5h1M62.5 80h1M62.5 80.5h1M62.5 83.5h1M62.5 84h1M62.5 84.5h1M62.5 85h1M62.5 85.5h1M62.5 86.5h1M62.5 87.5h1M62.5 88h1M62.5 88.5h1M62.5 92.5h1M62.5 97.5h1M62.5 99h1M62.5 127h1M62.5 142.5h1M62.5 166.5h1M62.5 167h1M62.5 168h1M62.5 171.5h1M62.5 182h1M62.5 187h1M63 49.5h1M63 57.5h1M63 61.5h1M63 63h1M63 63.5h1M63 64h1M63 64.5h1M63 65.5h1M63 66h1M63 67h1M63 67.5h1M63 68h1M63 69h1M63 69.5h1M63 70h1M63 70.5h1M63 71h1M63 71.5h1M63 72h1M63 72.5h1M63 73h1M63 73.5h1M63 74h1M63 74.5h1M63 75h1M63 75.5h1M63 76h1M63 76.5h1M63 77h1M63 77.5h1M63 78h1M63 78.5h1M63 79h1M63 79.5h1M63 80h1M63 80.5h1M63 81h1M63 81.5h1M63 82h1M63 82.5h1M63 83h1M63 83.5h1M63 84.5h1M63 85h1M63 86h1M63 86.5h1M63 87h1M63 88.5h1M63 89h1M63 91.5h1M63 92.5h1M63 96h1M63 161.5h1M63 163h1M63 165h1M63 165.5h1M63 167h1M63 168.5h1M63 169.5h1M63 170h1M63 183.5h1M63.5 59.5h1M63.5 60.5h1M63.5 62.5h1M63.5 63h1M63.5 63.5h1M63.5 64h1M63.5 64.5h1M63.5 65h1M63.5 65.5h1M63.5 66h1M63.5 66.5h1M63.5 67.5h1M63.5 68h1M63.5 68.5h1M63.5 69.5h1M63.5 70h1M63.5 70.5h1M63.5 71h1M63.5 71.5h1M63.5 72h1M63.5 72.5h1M63.5 73h1M63.5 73.5h1M63.5 74h1M63.5 74.5h1M63.5 75h1M63.5 75.5h1M63.5 76h1M63.5 76.5h1M63.5 77h1M63.5 77.5h1M63.5 78h1M63.5 78.5h1M63.5 79h1M63.5 79.5h1M63.5 80h1M63.5 80.5h1M63.5 81h1M63.5 81.5h1M63.5 82h1M63.5 82.5h1M63.5 83h1M63.5 83.5h1M63.5 84.5h1M63.5 86h1M63.5 87h1M63.5 87.5h1M63.5 89h1M63.5 91.5h1M63.5 94h1M63.5 95h1M63.5 95.5h1M63.5 103.5h1M63.5 151.5h1M63.5 162h1M63.5 168.5h1M63.5 170h1M63.5 174h1M63.5 175h1M64 61h1M64 61.5h1M64 62h1M64 62.5h1M64 63h1M64 64h1M64 65h1M64 65.5h1M64 66h1M64 66.5h1M64 67.5h1M64 68h1M64 68.5h1M64 69h1M64 69.5h1M64 70h1M64 71h1M64 71.5h1M64 72h1M64 72.5h1M64 73h1M64 73.5h1M64 74h1M64 74.5h1M64 75h1M64 75.5h1M64 76h1M64 76.5h1M64 77h1M64 77.5h1M64 78.5h1M64 79h1M64 79.5h1M64 80h1M64 80.5h1M64 81h1M64 81.5h1M64 82.5h1M64 83h1M64 83.5h1M64 84.5h1M64 85h1M64 85.5h1M64 86h1M64 86.5h1M64 87h1M64 91.5h1M64 92.5h1M64 94h1M64 94.5h1M64 111h1M64 115.5h1M64 158h1M64 160h1M64 161.5h1M64 166.5h1M64 167h1M64 168h1M64 168.5h1M64 176.5h1M64.5 61h1M64.5 61.5h1M64.5 62h1M64.5 63.5h1M64.5 64h1M64.5 65h1M64.5 66h1M64.5 66.5h1M64.5 67h1M64.5 67.5h1M64.5 68.5h1M64.5 69h1M64.5 69.5h1M64.5 70h1M64.5 71h1M64.5 71.5h1M64.5 72h1M64.5 72.5h1M64.5 73h1M64.5 73.5h1M64.5 74h1M64.5 74.5h1M64.5 75h1M64.5 75.5h1M64.5 76h1M64.5 76.5h1M64.5 77h1M64.5 77.5h1M64.5 78h1M64.5 79h1M64.5 79.5h1M64.5 80h1M64.5 80.5h1M64.5 81h1M64.5 81.5h1M64.5 82h1M64.5 82.5h1M64.5 83h1M64.5 83.5h1M64.5 84h1M64.5 84.5h1M64.5 85h1M64.5 85.5h1M64.5 86.5h1M64.5 87h1M64.5 87.5h1M64.5 88h1M64.5 90.5h1M64.5 91.5h1M64.5 92h1M64.5 99h1M64.5 117h1M64.5 119.5h1M64.5 125.5h1M64.5 162.5h1M64.5 164.5h1M64.5 166.5h1M64.5 167.5h1M64.5 177h1M64.5 180.5h1M65 54.5h1M65 59h1M65 59.5h1M65 61h1M65 61.5h1M65 62h1M65 64.5h1M65 65h1M65 65.5h1M65 66h1M65 66.5h1M65 67h1M65 67.5h1M65 68h1M65 68.5h1M65 69h1M65 69.5h1M65 70h1M65 70.5h1M65 71h1M65 71.5h1M65 72h1M65 72.5h1M65 73h1M65 73.5h1M65 74h1M65 74.5h1M65 75h1M65 75.5h1M65 76h1M65 76.5h1M65 77h1M65 77.5h1M65 78h1M65 79h1M65 79.5h1M65 80h1M65 81h1M65 81.5h1M65 82h1M65 82.5h1M65 83h1M65 84h1M65 84.5h1M65 85h1M65 86.5h1M65 89h1M65 90.5h1M65 92h1M65 93h1M65 97h1M65 109.5h1M65 153.5h1M65 167h1M65 173h1M65 193h1M65.5 59h1M65.5 60h1M65.5 60.5h1M65.5 61.5h1M65.5 62h1M65.5 62.5h1M65.5 63h1M65.5 63.5h1M65.5 64h1M65.5 65h1M65.5 67h1M65.5 67.5h1M65.5 68h1M65.5 68.5h1M65.5 69.5h1M65.5 70h1M65.5 70.5h1M65.5 71h1M65.5 71.5h1M65.5 72h1M65.5 72.5h1M65.5 73h1M65.5 73.5h1M65.5 74h1M65.5 74.5h1M65.5 75h1M65.5 75.5h1M65.5 76h1M65.5 76.5h1M65.5 77h1M65.5 77.5h1M65.5 78h1M65.5 78.5h1M65.5 79h1M65.5 79.5h1M65.5 80h1M65.5 80.5h1M65.5 81h1M65.5 81.5h1M65.5 82h1M65.5 83h1M65.5 83.5h1M65.5 84h1M65.5 84.5h1M65.5 85h1M65.5 85.5h1M65.5 87h1M65.5 88h1M65.5 94h1M65.5 102.5h1M65.5 106h1M65.5 109.5h1M65.5 153.5h1M65.5 155.5h1M65.5 161h1M65.5 163h1M65.5 166.5h1M66 59.5h1M66 60h1M66 62.5h1M66 64h1M66 64.5h1M66 65h1M66 65.5h1M66 66.5h1M66 67.5h1M66 68.5h1M66 69h1M66 69.5h1M66 70h1M66 70.5h1M66 71h1M66 71.5h1M66 72h1M66 72.5h1M66 73h1M66 73.5h1M66 74h1M66 74.5h1M66 75h1M66 75.5h1M66 76h1M66 76.5h1M66 77h1M66 77.5h1M66 78h1M66 78.5h1M66 79h1M66 79.5h1M66 80h1M66 80.5h1M66 81h1M66 81.5h1M66 82h1M66 82.5h1M66 83h1M66 83.5h1M66 84.5h1M66 85.5h1M66 86h1M66 87h1M66 88.5h1M66 89h1M66 91h1M66 97.5h1M66 161.5h1M66 164.5h1M66 172h1M66.5 61.5h1M66.5 62.5h1M66.5 63h1M66.5 64h1M66.5 64.5h1M66.5 65.5h1M66.5 66.5h1M66.5 67h1M66.5 67.5h1M66.5 68h1M66.5 69h1M66.5 69.5h1M66.5 70h1M66.5 70.5h1M66.5 71h1M66.5 71.5h1M66.5 72h1M66.5 72.5h1M66.5 74h1M66.5 74.5h1M66.5 75h1M66.5 75.5h1M66.5 76h1M66.5 76.5h1M66.5 77h1M66.5 77.5h1M66.5 78h1M66.5 78.5h1M66.5 79h1M66.5 79.5h1M66.5 80h1M66.5 80.5h1M66.5 81h1M66.5 81.5h1M66.5 82h1M66.5 82.5h1M66.5 83.5h1M66.5 84h1M66.5 84.5h1M66.5 85h1M66.5 85.5h1M66.5 86h1M66.5 87h1M66.5 89.5h1M66.5 90.5h1M66.5 95h1M66.5 96.5h1M66.5 97h1M66.5 107h1M66.5 113.5h1M66.5 120h1M66.5 162.5h1M66.5 168h1M67 61.5h1M67 64.5h1M67 65h1M67 65.5h1M67 66.5h1M67 67h1M67 67.5h1M67 68.5h1M67 69h1M67 69.5h1M67 70h1M67 70.5h1M67 71.5h1M67 72h1M67 72.5h1M67 73h1M67 73.5h1M67 74h1M67 74.5h1M67 75h1M67 75.5h1M67 76h1M67 76.5h1M67 77h1M67 77.5h1M67 78h1M67 78.5h1M67 79h1M67 79.5h1M67 80h1M67 80.5h1M67 81h1M67 81.5h1M67 82h1M67 82.5h1M67 83h1M67 83.5h1M67 84h1M67 84.5h1M67 85h1M67 85.5h1M67 86h1M67 86.5h1M67 87h1M67 87.5h1M67 89.5h1M67 90.5h1M67 94h1M67 123.5h1M67 154h1M67 171.5h1M67 183.5h1M67 185h1M67 187.5h1M67.5 55.5h1M67.5 56.5h1M67.5 61h1M67.5 62h1M67.5 62.5h1M67.5 63h1M67.5 64.5h1M67.5 65h1M67.5 66h1M67.5 66.5h1M67.5 67h1M67.5 67.5h1M67.5 68h1M67.5 68.5h1M67.5 69h1M67.5 69.5h1M67.5 70h1M67.5 70.5h1M67.5 71h1M67.5 71.5h1M67.5 72h1M67.5 72.5h1M67.5 73h1M67.5 73.5h1M67.5 74h1M67.5 74.5h1M67.5 75h1M67.5 75.5h1M67.5 76h1M67.5 76.5h1M67.5 77h1M67.5 77.5h1M67.5 78h1M67.5 78.5h1M67.5 79h1M67.5 79.5h1M67.5 80h1M67.5 80.5h1M67.5 81.5h1M67.5 82h1M67.5 82.5h1M67.5 83h1M67.5 83.5h1M67.5 84h1M67.5 84.5h1M67.5 85h1M67.5 85.5h1M67.5 87.5h1M67.5 88h1M67.5 93h1M67.5 94.5h1M67.5 97.5h1M67.5 114h1M67.5 123h1M67.5 148h1M67.5 168h1M67.5 179.5h1M67.5 184h1M67.5 185h1M67.5 191.5h1M68 61h1M68 62.5h1M68 63h1M68 64h1M68 64.5h1M68 65.5h1M68 66h1M68 66.5h1M68 67h1M68 67.5h1M68 68h1M68 68.5h1M68 69h1M68 70h1M68 71h1M68 72h1M68 72.5h1M68 74h1M68 75h1M68 75.5h1M68 76h1M68 76.5h1M68 77h1M68 77.5h1M68 78h1M68 78.5h1M68 79h1M68 79.5h1M68 80h1M68 80.5h1M68 81.5h1M68 82.5h1M68 83h1M68 83.5h1M68 84h1M68 84.5h1M68 85.5h1M68 86.5h1M68 87h1M68 88h1M68 88.5h1M68 92h1M68 95h1M68 97h1M68 153h1M68 157h1M68 179h1M68.5 60.5h1M68.5 61.5h1M68.5 64h1M68.5 65.5h1M68.5 66.5h1M68.5 67h1M68.5 67.5h1M68.5 68h1M68.5 69h1M68.5 69.5h1M68.5 70h1M68.5 70.5h1M68.5 71.5h1M68.5 72h1M68.5 72.5h1M68.5 73h1M68.5 73.5h1M68.5 74h1M68.5 74.5h1M68.5 75h1M68.5 75.5h1M68.5 76h1M68.5 76.5h1M68.5 77h1M68.5 77.5h1M68.5 78h1M68.5 79.5h1M68.5 81h1M68.5 81.5h1M68.5 82h1M68.5 82.5h1M68.5 83.5h1M68.5 85h1M68.5 87h1M68.5 87.5h1M68.5 88.5h1M68.5 89h1M68.5 90h1M68.5 93h1M68.5 107.5h1M68.5 143.5h1M68.5 155h1M68.5 189h1M69 59h1M69 62h1M69 62.5h1M69 63.5h1M69 64h1M69 64.5h1M69 65h1M69 65.5h1M69 66h1M69 66.5h1M69 67h1M69 68.5h1M69 69.5h1M69 71h1M69 71.5h1M69 72h1M69 72.5h1M69 73h1M69 73.5h1M69 74h1M69 74.5h1M69 75h1M69 75.5h1M69 76h1M69 76.5h1M69 77h1M69 77.5h1M69 78h1M69 78.5h1M69 79h1M69 79.5h1M69 80.5h1M69 81.5h1M69 82h1M69 82.5h1M69 83h1M69 84h1M69 84.5h1M69 85.5h1M69 86h1M69 86.5h1M69 87h1M69 91h1M69 91.5h1M69 93h1M69 94.5h1M69 120.5h1M69 160h1M69 172h1M69.5 60h1M69.5 61.5h1M69.5 63h1M69.5 65h1M69.5 65.5h1M69.5 66.5h1M69.5 67h1M69.5 67.5h1M69.5 69.5h1M69.5 70h1M69.5 71h1M69.5 71.5h1M69.5 72.5h1M69.5 73h1M69.5 73.5h1M69.5 74h1M69.5 74.5h1M69.5 75h1M69.5 76h1M69.5 76.5h1M69.5 77h1M69.5 77.5h1M69.5 78h1M69.5 78.5h1M69.5 79h1M69.5 79.5h1M69.5 80h1M69.5 80.5h1M69.5 81h1M69.5 81.5h1M69.5 82h1M69.5 82.5h1M69.5 83h1M69.5 84.5h1M69.5 85h1M69.5 86.5h1M69.5 88h1M69.5 88.5h1M69.5 89.5h1M69.5 92.5h1M69.5 95h1M69.5 99.5h1M69.5 135.5h1M69.5 163.5h1M69.5 167.5h1M69.5 180h1M70 55h1M70 56.5h1M70 62.5h1M70 63.5h1M70 64.5h1M70 67h1M70 67.5h1M70 68.5h1M70 70h1M70 70.5h1M70 71.5h1M70 72h1M70 72.5h1M70 73.5h1M70 74h1M70 75h1M70 75.5h1M70 76h1M70 76.5h1M70 77h1M70 77.5h1M70 78h1M70 78.5h1M70 79h1M70 79.5h1M70 80h1M70 80.5h1M70 81h1M70 81.5h1M70 82.5h1M70 83h1M70 83.5h1M70 84h1M70 84.5h1M70 85h1M70 85.5h1M70 88h1M70 90h1M70 98.5h1M70 103.5h1M70 145.5h1M70 149h1M70 161.5h1M70 171h1M70 178h1M70.5 49.5h1M70.5 60h1M70.5 61h1M70.5 61.5h1M70.5 62.5h1M70.5 64.5h1M70.5 65h1M70.5 65.5h1M70.5 66h1M70.5 66.5h1M70.5 68h1M70.5 69.5h1M70.5 70h1M70.5 70.5h1M70.5 71h1M70.5 71.5h1M70.5 72h1M70.5 72.5h1M70.5 73h1M70.5 74h1M70.5 74.5h1M70.5 75h1M70.5 75.5h1M70.5 76h1M70.5 76.5h1M70.5 77h1M70.5 77.5h1M70.5 78h1M70.5 78.5h1M70.5 79h1M70.5 79.5h1M70.5 80h1M70.5 80.5h1M70.5 81h1M70.5 81.5h1M70.5 83h1M70.5 83.5h1M70.5 85h1M70.5 85.5h1M70.5 86h1M70.5 88.5h1M70.5 89h1M70.5 91h1M70.5 93h1M70.5 95.5h1M70.5 117.5h1M70.5 151h1M70.5 165h1M71 61h1M71 62.5h1M71 64.5h1M71 66h1M71 66.5h1M71 67h1M71 67.5h1M71 68h1M71 68.5h1M71 69.5h1M71 70h1M71 70.5h1M71 71h1M71 71.5h1M71 72h1M71 72.5h1M71 73h1M71 73.5h1M71 74h1M71 75h1M71 75.5h1M71 76h1M71 76.5h1M71 77h1M71 78.5h1M71 79.5h1M71 80h1M71 80.5h1M71 81h1M71 81.5h1M71 82h1M71 82.5h1M71 83h1M71 84h1M71 84.5h1M71 85h1M71 85.5h1M71 86h1M71 86.5h1M71 87h1M71 88h1M71 90.5h1M71 91h1M71 92h1M71 99h1M71 99.5h1M71 107.5h1M71 114.5h1M71 140.5h1M71 145.5h1M71 183h1M71 186h1M71.5 56.5h1M71.5 57.5h1M71.5 59h1M71.5 60h1M71.5 61h1M71.5 62.5h1M71.5 63h1M71.5 63.5h1M71.5 64h1M71.5 64.5h1M71.5 65.5h1M71.5 66h1M71.5 67.5h1M71.5 68.5h1M71.5 69.5h1M71.5 70h1M71.5 70.5h1M71.5 71h1M71.5 71.5h1M71.5 72.5h1M71.5 73h1M71.5 74h1M71.5 74.5h1M71.5 75h1M71.5 75.5h1M71.5 76.5h1M71.5 77.5h1M71.5 78h1M71.5 78.5h1M71.5 79h1M71.5 79.5h1M71.5 80.5h1M71.5 81.5h1M71.5 82h1M71.5 83h1M71.5 84.5h1M71.5 85h1M71.5 85.5h1M71.5 86h1M71.5 86.5h1M71.5 88.5h1M71.5 96.5h1M71.5 97h1M71.5 98h1M71.5 118.5h1M71.5 150h1M71.5 152h1M71.5 162h1M72 56h1M72 59.5h1M72 60.5h1M72 64h1M72 65.5h1M72 66h1M72 66.5h1M72 68h1M72 69h1M72 69.5h1M72 71h1M72 71.5h1M72 72h1M72 72.5h1M72 73h1M72 73.5h1M72 74h1M72 74.5h1M72 75h1M72 75.5h1M72 77h1M72 78.5h1M72 79.5h1M72 80h1M72 80.5h1M72 81h1M72 81.5h1M72 82h1M72 83.5h1M72 84h1M72 84.5h1M72 85h1M72 86.5h1M72 87h1M72 87.5h1M72 88h1M72 89.5h1M72 90h1M72 105h1M72 108.5h1M72 147h1M72 159.5h1M72 187h1M72.5 62h1M72.5 62.5h1M72.5 65h1M72.5 66h1M72.5 67.5h1M72.5 68h1M72.5 68.5h1M72.5 69.5h1M72.5 70h1M72.5 71h1M72.5 71.5h1M72.5 72h1M72.5 73h1M72.5 73.5h1M72.5 74h1M72.5 75h1M72.5 75.5h1M72.5 76.5h1M72.5 77h1M72.5 78h1M72.5 78.5h1M72.5 79h1M72.5 79.5h1M72.5 80h1M72.5 80.5h1M72.5 81h1M72.5 81.5h1M72.5 82h1M72.5 82.5h1M72.5 83.5h1M72.5 84h1M72.5 84.5h1M72.5 85h1M72.5 85.5h1M72.5 86.5h1M72.5 88.5h1M72.5 90.5h1M72.5 93.5h1M72.5 94h1M72.5 95h1M72.5 95.5h1M72.5 110.5h1M72.5 158.5h1M72.5 160h1M72.5 161h1M72.5 170.5h1M73 57.5h1M73 60h1M73 63.5h1M73 64.5h1M73 68h1M73 69.5h1M73 71h1M73 72.5h1M73 73.5h1M73 74h1M73 74.5h1M73 75h1M73 76h1M73 76.5h1M73 77h1M73 77.5h1M73 78h1M73 78.5h1M73 80h1M73 81h1M73 81.5h1M73 82.5h1M73 84.5h1M73 85.5h1M73 86.5h1M73 87h1M73 88h1M73 93h1M73 100h1M73 115h1M73 118h1M73.5 60.5h1M73.5 64.5h1M73.5 65h1M73.5 67.5h1M73.5 71h1M73.5 71.5h1M73.5 72h1M73.5 72.5h1M73.5 74h1M73.5 74.5h1M73.5 75h1M73.5 77.5h1M73.5 78h1M73.5 78.5h1M73.5 80h1M73.5 80.5h1M73.5 84h1M73.5 85.5h1M73.5 87h1M73.5 87.5h1M73.5 95h1M73.5 135.5h1M73.5 157.5h1M73.5 189.5h1M73.5 191h1M74 65h1M74 65.5h1M74 66h1M74 67.5h1M74 68h1M74 69h1M74 71h1M74 72h1M74 72.5h1M74 73.5h1M74 74h1M74 74.5h1M74 75h1M74 75.5h1M74 76h1M74 77h1M74 77.5h1M74 78h1M74 78.5h1M74 79.5h1M74 80.5h1M74 81h1M74 82h1M74 82.5h1M74 83h1M74 84h1M74 85.5h1M74 86.5h1M74 88h1M74 90h1M74 91h1M74 94.5h1M74 97h1M74 98h1M74 98.5h1M74 100h1M74 109.5h1M74 122.5h1M74 134h1M74 155h1M74 155.5h1M74 168h1M74.5 58.5h1M74.5 59.5h1M74.5 65.5h1M74.5 66h1M74.5 66.5h1M74.5 67.5h1M74.5 68h1M74.5 69h1M74.5 70h1M74.5 70.5h1M74.5 71h1M74.5 71.5h1M74.5 72.5h1M74.5 73h1M74.5 73.5h1M74.5 75.5h1M74.5 76h1M74.5 76.5h1M74.5 77.5h1M74.5 78.5h1M74.5 79h1M74.5 79.5h1M74.5 80.5h1M74.5 81h1M74.5 81.5h1M74.5 82h1M74.5 84h1M74.5 86.5h1M74.5 87.5h1M74.5 88.5h1M74.5 97.5h1M74.5 101.5h1M74.5 165.5h1M74.5 175.5h1M75 62.5h1M75 63.5h1M75 64h1M75 64.5h1M75 65h1M75 66h1M75 67.5h1M75 68.5h1M75 69.5h1M75 70h1M75 71h1M75 71.5h1M75 73h1M75 73.5h1M75 74h1M75 75h1M75 76h1M75 76.5h1M75 77h1M75 77.5h1M75 78h1M75 78.5h1M75 79h1M75 81.5h1M75 84.5h1M75 85h1M75 90.5h1M75 97.5h1M75 141.5h1M75 149.5h1M75 180h1M75.5 58h1M75.5 63.5h1M75.5 66.5h1M75.5 67h1M75.5 67.5h1M75.5 68.5h1M75.5 69h1M75.5 69.5h1M75.5 70h1M75.5 70.5h1M75.5 71h1M75.5 71.5h1M75.5 72.5h1M75.5 73h1M75.5 73.5h1M75.5 74h1M75.5 76h1M75.5 76.5h1M75.5 77h1M75.5 77.5h1M75.5 80.5h1M75.5 81h1M75.5 84h1M75.5 84.5h1M75.5 85.5h1M75.5 88.5h1M75.5 92h1M75.5 92.5h1M75.5 114h1M76 60.5h1M76 61h1M76 67h1M76 67.5h1M76 70.5h1M76 71.5h1M76 72.5h1M76 73h1M76 73.5h1M76 74h1M76 75h1M76 76h1M76 76.5h1M76 77.5h1M76 78h1M76 78.5h1M76 79.5h1M76 80.5h1M76 81h1M76 81.5h1M76 82h1M76 83h1M76 85.5h1M76 92h1M76 96h1M76 166.5h1M76 183.5h1M76.5 62h1M76.5 64.5h1M76.5 65.5h1M76.5 66.5h1M76.5 69h1M76.5 70.5h1M76.5 73h1M76.5 73.5h1M76.5 74h1M76.5 76.5h1M76.5 77.5h1M76.5 78.5h1M76.5 80h1M76.5 82.5h1M76.5 84h1M76.5 84.5h1M76.5 85h1M76.5 93h1M76.5 133.5h1M76.5 162.5h1M77 60.5h1M77 62h1M77 64h1M77 66h1M77 66.5h1M77 67.5h1M77 68.5h1M77 71.5h1M77 73.5h1M77 75h1M77 76h1M77 77h1M77 77.5h1M77 78h1M77 79h1M77 80.5h1M77 83.5h1M77 86.5h1M77 107.5h1M77 112.5h1M77.5 64h1M77.5 64.5h1M77.5 68.5h1M77.5 69h1M77.5 70h1M77.5 70.5h1M77.5 73h1M77.5 73.5h1M77.5 74.5h1M77.5 75.5h1M77.5 76h1M77.5 76.5h1M77.5 77h1M77.5 78.5h1M77.5 79.5h1M77.5 81h1M77.5 81.5h1M77.5 83.5h1M77.5 84h1M77.5 87h1M77.5 93.5h1M77.5 97h1M77.5 157h1M78 61.5h1M78 69.5h1M78 70h1M78 71h1M78 71.5h1M78 72h1M78 72.5h1M78 73.5h1M78 76h1M78 77.5h1M78 79h1M78 81h1M78 83h1M78 84h1M78 85.5h1M78 87h1M78 89h1M78 91h1M78 102.5h1M78 103h1M78.5 67h1M78.5 68h1M78.5 69h1M78.5 69.5h1M78.5 73h1M78.5 73.5h1M78.5 74.5h1M78.5 78h1M78.5 80h1M78.5 80.5h1M78.5 81h1M78.5 81.5h1M78.5 83h1M78.5 84.5h1M78.5 85h1M78.5 89h1M78.5 101h1M78.5 150h1M78.5 159h1M79 50.5h1M79 59h1M79 61h1M79 64h1M79 68h1M79 70h1M79 73h1M79 74h1M79 75h1M79 76h1M79 76.5h1M79 78h1M79 78.5h1M79 80.5h1M79 81h1M79 81.5h1M79 83h1M79 83.5h1M79 85h1M79 89h1M79 152.5h1M79 154.5h1M79 167h1M79 190.5h1M79.5 61h1M79.5 67h1M79.5 69h1M79.5 69.5h1M79.5 71h1M79.5 73h1M79.5 76.5h1M79.5 78h1M79.5 81h1M79.5 82h1M79.5 84.5h1M79.5 85h1M79.5 88h1M79.5 92.5h1M79.5 95.5h1M79.5 108h1M79.5 121h1M79.5 195.5h1M80 67h1M80 69.5h1M80 70h1M80 70.5h1M80 71h1M80 71.5h1M80 72.5h1M80 73h1M80 74h1M80 75.5h1M80 76h1M80 76.5h1M80 77h1M80 79.5h1M80 81h1M80 81.5h1M80 83h1M80 83.5h1M80 84h1M80 85h1M80 86.5h1M80 87h1M80 87.5h1M80 159.5h1M80 166h1M80 197h1M80.5 59.5h1M80.5 62h1M80.5 65.5h1M80.5 66h1M80.5 66.5h1M80.5 67h1M80.5 70.5h1M80.5 71h1M80.5 71.5h1M80.5 72.5h1M80.5 73.5h1M80.5 76h1M80.5 78h1M80.5 78.5h1M80.5 80.5h1M80.5 155h1M80.5 187h1M81 54h1M81 67h1M81 67.5h1M81 69.5h1M81 71h1M81 71.5h1M81 73h1M81 73.5h1M81 77h1M81 79.5h1M81 80.5h1M81 82h1M81 82.5h1M81 88.5h1M81 100h1M81 104.5h1M81 159h1M81 191h1M81.5 55.5h1M81.5 72.5h1M81.5 73.5h1M81.5 75h1M81.5 76.5h1M81.5 77.5h1M81.5 81.5h1M81.5 92.5h1M81.5 127h1M81.5 177.5h1M81.5 196h1M82 68.5h1M82 73h1M82 75.5h1M82 78.5h1M82 79.5h1M82 84h1M82 89.5h1M82 92.5h1M82 109.5h1M82 127h1M82 142.5h1M82 171h1M82.5 64h1M82.5 65.5h1M82.5 69.5h1M82.5 73h1M82.5 79.5h1M82.5 81h1M82.5 83.5h1M82.5 85.5h1M82.5 90.5h1M82.5 92.5h1M82.5 97.5h1M82.5 151.5h1M82.5 162h1M83 68h1M83 68.5h1M83 69h1M83 71h1M83 72.5h1M83 74.5h1M83 76.5h1M83 79h1M83 80h1M83 80.5h1M83 82.5h1M83 101h1M83 160h1M83.5 64.5h1M83.5 66.5h1M83.5 82h1M83.5 91h1M83.5 98h1M83.5 148.5h1M83.5 150.5h1M83.5 169h1M84 58.5h1M84 67.5h1M84 70.5h1M84 71h1M84 76.5h1M84 80h1M84 84.5h1M84 90.5h1M84 95h1M84 133.5h1M84.5 67.5h1M84.5 68.5h1M84.5 69.5h1M84.5 71.5h1M84.5 73.5h1M84.5 75h1M84.5 79h1M84.5 80h1M84.5 81h1M84.5 134h1M85 61.5h1M85 63.5h1M85 80h1M85 81.5h1M85 100h1M85 150.5h1M85.5 73h1M85.5 75h1M85.5 77.5h1M85.5 85h1M85.5 177.5h1M86 60.5h1M86 67.5h1M86 69.5h1M86 70h1M86 72.5h1M86 79.5h1M86 81h1M86 84h1M86 116h1M86.5 85.5h1M86.5 118.5h1M86.5 123.5h1M86.5 188.5h1M87 69h1M87 77.5h1M87 78.5h1M87 83.5h1M87 120.5h1M87 148h1M87.5 67h1M87.5 75.5h1M87.5 95.5h1M88 62.5h1M88 76h1M88.5 57.5h1M88.5 78h1M88.5 83h1M88.5 85.5h1M88.5 93.5h1M88.5 177.5h1M89 65.5h1M89 75h1M89 86h1M89 112h1M89 191.5h1M89.5 60.5h1M89.5 89h1M89.5 92.5h1M90 67.5h1M90 74h1M90 75.5h1M90 79h1M90 83h1M90 121h1M90 145.5h1M90.5 59.5h1M90.5 155.5h1M91 56.5h1M91 124.5h1M91.5 83h1M91.5 123h1M91.5 156.5h1M91.5 159h1M91.5 195.5h1M92 147.5h1M106 109h1M120 65h1M123.5 63h1M147 79h1M156 92.5h1M162.5 108.5h1M168 61.5h1M168 102h1M176 102.5h1M176 110.5h1M182.5 105h1M184.5 69.5h1" stroke="#000" stroke-width="1" fill="none" opacity=".85"/>
<rect x="33.8" y="34.8" width="157.8" height="163.0" fill="none" stroke="#666" stroke-width="1.15"/>
<rect x="33.8" y="44.2" width="59.2" height="153.60000000000002" fill="none" stroke="#666" stroke-width="1.15"/>
<line x1="33.8" y1="138.3" x2="93.0" y2="138.3" stroke="#666" stroke-width="1.15"/>
<text x="29.9" y="206.8" font-size="7.6" fill="#222">10</text>
<text x="37.4" y="204.4" font-size="5.4" fill="#222">0</text>
<text x="31.2" y="201.8" font-size="7.6" transform="rotate(-90 31.2 201.8)" fill="#222">10</text>
<text x="28.8" y="194.2" font-size="5.4" transform="rotate(-90 28.8 194.2)" fill="#222">0</text>
<text x="69.3" y="206.8" font-size="7.6" fill="#222">10</text>
<text x="76.8" y="204.4" font-size="5.4" fill="#222">1</text>
<text x="31.2" y="161.1" font-size="7.6" transform="rotate(-90 31.2 161.1)" fill="#222">10</text>
<text x="28.8" y="153.5" font-size="5.4" transform="rotate(-90 28.8 153.5)" fill="#222">1</text>
<text x="108.8" y="206.8" font-size="7.6" fill="#222">10</text>
<text x="116.3" y="204.4" font-size="5.4" fill="#222">2</text>
<text x="31.2" y="120.3" font-size="7.6" transform="rotate(-90 31.2 120.3)" fill="#222">10</text>
<text x="28.8" y="112.7" font-size="5.4" transform="rotate(-90 28.8 112.7)" fill="#222">2</text>
<text x="148.2" y="206.8" font-size="7.6" fill="#222">10</text>
<text x="155.8" y="204.4" font-size="5.4" fill="#222">3</text>
<text x="31.2" y="79.6" font-size="7.6" transform="rotate(-90 31.2 79.6)" fill="#222">10</text>
<text x="28.8" y="72.0" font-size="5.4" transform="rotate(-90 28.8 72.0)" fill="#222">3</text>
<text x="187.7" y="206.8" font-size="7.6" fill="#222">10</text>
<text x="195.2" y="204.4" font-size="5.4" fill="#222">4</text>
<text x="31.2" y="38.8" font-size="7.6" transform="rotate(-90 31.2 38.8)" fill="#222">10</text>
<text x="28.8" y="31.2" font-size="5.4" transform="rotate(-90 28.8 31.2)" fill="#222">4</text>
<line x1="45.7" y1="197.8" x2="45.7" y2="196.2" stroke="#777" stroke-width="0.6"/>
<line x1="45.7" y1="34.8" x2="45.7" y2="36.4" stroke="#777" stroke-width="0.6"/>
<line x1="33.8" y1="185.5" x2="35.4" y2="185.5" stroke="#777" stroke-width="0.6"/>
<line x1="191.6" y1="185.5" x2="190.0" y2="185.5" stroke="#777" stroke-width="0.6"/>
<line x1="52.6" y1="197.8" x2="52.6" y2="196.2" stroke="#777" stroke-width="0.6"/>
<line x1="52.6" y1="34.8" x2="52.6" y2="36.4" stroke="#777" stroke-width="0.6"/>
<line x1="33.8" y1="178.4" x2="35.4" y2="178.4" stroke="#777" stroke-width="0.6"/>
<line x1="191.6" y1="178.4" x2="190.0" y2="178.4" stroke="#777" stroke-width="0.6"/>
<line x1="57.6" y1="197.8" x2="57.6" y2="196.2" stroke="#777" stroke-width="0.6"/>
<line x1="57.6" y1="34.8" x2="57.6" y2="36.4" stroke="#777" stroke-width="0.6"/>
<line x1="33.8" y1="173.3" x2="35.4" y2="173.3" stroke="#777" stroke-width="0.6"/>
<line x1="191.6" y1="173.3" x2="190.0" y2="173.3" stroke="#777" stroke-width="0.6"/>
<line x1="61.4" y1="197.8" x2="61.4" y2="196.2" stroke="#777" stroke-width="0.6"/>
<line x1="61.4" y1="34.8" x2="61.4" y2="36.4" stroke="#777" stroke-width="0.6"/>
<line x1="33.8" y1="169.3" x2="35.4" y2="169.3" stroke="#777" stroke-width="0.6"/>
<line x1="191.6" y1="169.3" x2="190.0" y2="169.3" stroke="#777" stroke-width="0.6"/>
<line x1="64.5" y1="197.8" x2="64.5" y2="196.2" stroke="#777" stroke-width="0.6"/>
<line x1="64.5" y1="34.8" x2="64.5" y2="36.4" stroke="#777" stroke-width="0.6"/>
<line x1="33.8" y1="166.1" x2="35.4" y2="166.1" stroke="#777" stroke-width="0.6"/>
<line x1="191.6" y1="166.1" x2="190.0" y2="166.1" stroke="#777" stroke-width="0.6"/>
<line x1="67.1" y1="197.8" x2="67.1" y2="196.2" stroke="#777" stroke-width="0.6"/>
<line x1="67.1" y1="34.8" x2="67.1" y2="36.4" stroke="#777" stroke-width="0.6"/>
<line x1="33.8" y1="163.4" x2="35.4" y2="163.4" stroke="#777" stroke-width="0.6"/>
<line x1="191.6" y1="163.4" x2="190.0" y2="163.4" stroke="#777" stroke-width="0.6"/>
<line x1="69.4" y1="197.8" x2="69.4" y2="196.2" stroke="#777" stroke-width="0.6"/>
<line x1="69.4" y1="34.8" x2="69.4" y2="36.4" stroke="#777" stroke-width="0.6"/>
<line x1="33.8" y1="161.0" x2="35.4" y2="161.0" stroke="#777" stroke-width="0.6"/>
<line x1="191.6" y1="161.0" x2="190.0" y2="161.0" stroke="#777" stroke-width="0.6"/>
<line x1="71.4" y1="197.8" x2="71.4" y2="196.2" stroke="#777" stroke-width="0.6"/>
<line x1="71.4" y1="34.8" x2="71.4" y2="36.4" stroke="#777" stroke-width="0.6"/>
<line x1="33.8" y1="158.9" x2="35.4" y2="158.9" stroke="#777" stroke-width="0.6"/>
<line x1="191.6" y1="158.9" x2="190.0" y2="158.9" stroke="#777" stroke-width="0.6"/>
<line x1="85.1" y1="197.8" x2="85.1" y2="196.2" stroke="#777" stroke-width="0.6"/>
<line x1="85.1" y1="34.8" x2="85.1" y2="36.4" stroke="#777" stroke-width="0.6"/>
<line x1="33.8" y1="144.8" x2="35.4" y2="144.8" stroke="#777" stroke-width="0.6"/>
<line x1="191.6" y1="144.8" x2="190.0" y2="144.8" stroke="#777" stroke-width="0.6"/>
<line x1="92.1" y1="197.8" x2="92.1" y2="196.2" stroke="#777" stroke-width="0.6"/>
<line x1="92.1" y1="34.8" x2="92.1" y2="36.4" stroke="#777" stroke-width="0.6"/>
<line x1="33.8" y1="137.6" x2="35.4" y2="137.6" stroke="#777" stroke-width="0.6"/>
<line x1="191.6" y1="137.6" x2="190.0" y2="137.6" stroke="#777" stroke-width="0.6"/>
<line x1="97.0" y1="197.8" x2="97.0" y2="196.2" stroke="#777" stroke-width="0.6"/>
<line x1="97.0" y1="34.8" x2="97.0" y2="36.4" stroke="#777" stroke-width="0.6"/>
<line x1="33.8" y1="132.5" x2="35.4" y2="132.5" stroke="#777" stroke-width="0.6"/>
<line x1="191.6" y1="132.5" x2="190.0" y2="132.5" stroke="#777" stroke-width="0.6"/>
<line x1="100.8" y1="197.8" x2="100.8" y2="196.2" stroke="#777" stroke-width="0.6"/>
<line x1="100.8" y1="34.8" x2="100.8" y2="36.4" stroke="#777" stroke-width="0.6"/>
<line x1="33.8" y1="128.6" x2="35.4" y2="128.6" stroke="#777" stroke-width="0.6"/>
<line x1="191.6" y1="128.6" x2="190.0" y2="128.6" stroke="#777" stroke-width="0.6"/>
<line x1="103.9" y1="197.8" x2="103.9" y2="196.2" stroke="#777" stroke-width="0.6"/>
<line x1="103.9" y1="34.8" x2="103.9" y2="36.4" stroke="#777" stroke-width="0.6"/>
<line x1="33.8" y1="125.3" x2="35.4" y2="125.3" stroke="#777" stroke-width="0.6"/>
<line x1="191.6" y1="125.3" x2="190.0" y2="125.3" stroke="#777" stroke-width="0.6"/>
<line x1="106.6" y1="197.8" x2="106.6" y2="196.2" stroke="#777" stroke-width="0.6"/>
<line x1="106.6" y1="34.8" x2="106.6" y2="36.4" stroke="#777" stroke-width="0.6"/>
<line x1="33.8" y1="122.6" x2="35.4" y2="122.6" stroke="#777" stroke-width="0.6"/>
<line x1="191.6" y1="122.6" x2="190.0" y2="122.6" stroke="#777" stroke-width="0.6"/>
<line x1="108.9" y1="197.8" x2="108.9" y2="196.2" stroke="#777" stroke-width="0.6"/>
<line x1="108.9" y1="34.8" x2="108.9" y2="36.4" stroke="#777" stroke-width="0.6"/>
<line x1="33.8" y1="120.2" x2="35.4" y2="120.2" stroke="#777" stroke-width="0.6"/>
<line x1="191.6" y1="120.2" x2="190.0" y2="120.2" stroke="#777" stroke-width="0.6"/>
<line x1="110.9" y1="197.8" x2="110.9" y2="196.2" stroke="#777" stroke-width="0.6"/>
<line x1="110.9" y1="34.8" x2="110.9" y2="36.4" stroke="#777" stroke-width="0.6"/>
<line x1="33.8" y1="118.2" x2="35.4" y2="118.2" stroke="#777" stroke-width="0.6"/>
<line x1="191.6" y1="118.2" x2="190.0" y2="118.2" stroke="#777" stroke-width="0.6"/>
<line x1="124.6" y1="197.8" x2="124.6" y2="196.2" stroke="#777" stroke-width="0.6"/>
<line x1="124.6" y1="34.8" x2="124.6" y2="36.4" stroke="#777" stroke-width="0.6"/>
<line x1="33.8" y1="104.0" x2="35.4" y2="104.0" stroke="#777" stroke-width="0.6"/>
<line x1="191.6" y1="104.0" x2="190.0" y2="104.0" stroke="#777" stroke-width="0.6"/>
<line x1="131.5" y1="197.8" x2="131.5" y2="196.2" stroke="#777" stroke-width="0.6"/>
<line x1="131.5" y1="34.8" x2="131.5" y2="36.4" stroke="#777" stroke-width="0.6"/>
<line x1="33.8" y1="96.9" x2="35.4" y2="96.9" stroke="#777" stroke-width="0.6"/>
<line x1="191.6" y1="96.9" x2="190.0" y2="96.9" stroke="#777" stroke-width="0.6"/>
<line x1="136.5" y1="197.8" x2="136.5" y2="196.2" stroke="#777" stroke-width="0.6"/>
<line x1="136.5" y1="34.8" x2="136.5" y2="36.4" stroke="#777" stroke-width="0.6"/>
<line x1="33.8" y1="91.8" x2="35.4" y2="91.8" stroke="#777" stroke-width="0.6"/>
<line x1="191.6" y1="91.8" x2="190.0" y2="91.8" stroke="#777" stroke-width="0.6"/>
<line x1="140.3" y1="197.8" x2="140.3" y2="196.2" stroke="#777" stroke-width="0.6"/>
<line x1="140.3" y1="34.8" x2="140.3" y2="36.4" stroke="#777" stroke-width="0.6"/>
<line x1="33.8" y1="87.8" x2="35.4" y2="87.8" stroke="#777" stroke-width="0.6"/>
<line x1="191.6" y1="87.8" x2="190.0" y2="87.8" stroke="#777" stroke-width="0.6"/>
<line x1="143.4" y1="197.8" x2="143.4" y2="196.2" stroke="#777" stroke-width="0.6"/>
<line x1="143.4" y1="34.8" x2="143.4" y2="36.4" stroke="#777" stroke-width="0.6"/>
<line x1="33.8" y1="84.6" x2="35.4" y2="84.6" stroke="#777" stroke-width="0.6"/>
<line x1="191.6" y1="84.6" x2="190.0" y2="84.6" stroke="#777" stroke-width="0.6"/>
<line x1="146.0" y1="197.8" x2="146.0" y2="196.2" stroke="#777" stroke-width="0.6"/>
<line x1="146.0" y1="34.8" x2="146.0" y2="36.4" stroke="#777" stroke-width="0.6"/>
<line x1="33.8" y1="81.9" x2="35.4" y2="81.9" stroke="#777" stroke-width="0.6"/>
<line x1="191.6" y1="81.9" x2="190.0" y2="81.9" stroke="#777" stroke-width="0.6"/>
<line x1="148.3" y1="197.8" x2="148.3" y2="196.2" stroke="#777" stroke-width="0.6"/>
<line x1="148.3" y1="34.8" x2="148.3" y2="36.4" stroke="#777" stroke-width="0.6"/>
<line x1="33.8" y1="79.5" x2="35.4" y2="79.5" stroke="#777" stroke-width="0.6"/>
<line x1="191.6" y1="79.5" x2="190.0" y2="79.5" stroke="#777" stroke-width="0.6"/>
<line x1="150.3" y1="197.8" x2="150.3" y2="196.2" stroke="#777" stroke-width="0.6"/>
<line x1="150.3" y1="34.8" x2="150.3" y2="36.4" stroke="#777" stroke-width="0.6"/>
<line x1="33.8" y1="77.4" x2="35.4" y2="77.4" stroke="#777" stroke-width="0.6"/>
<line x1="191.6" y1="77.4" x2="190.0" y2="77.4" stroke="#777" stroke-width="0.6"/>
<line x1="164.0" y1="197.8" x2="164.0" y2="196.2" stroke="#777" stroke-width="0.6"/>
<line x1="164.0" y1="34.8" x2="164.0" y2="36.4" stroke="#777" stroke-width="0.6"/>
<line x1="33.8" y1="63.3" x2="35.4" y2="63.3" stroke="#777" stroke-width="0.6"/>
<line x1="191.6" y1="63.3" x2="190.0" y2="63.3" stroke="#777" stroke-width="0.6"/>
<line x1="171.0" y1="197.8" x2="171.0" y2="196.2" stroke="#777" stroke-width="0.6"/>
<line x1="171.0" y1="34.8" x2="171.0" y2="36.4" stroke="#777" stroke-width="0.6"/>
<line x1="33.8" y1="56.1" x2="35.4" y2="56.1" stroke="#777" stroke-width="0.6"/>
<line x1="191.6" y1="56.1" x2="190.0" y2="56.1" stroke="#777" stroke-width="0.6"/>
<line x1="175.9" y1="197.8" x2="175.9" y2="196.2" stroke="#777" stroke-width="0.6"/>
<line x1="175.9" y1="34.8" x2="175.9" y2="36.4" stroke="#777" stroke-width="0.6"/>
<line x1="33.8" y1="51.0" x2="35.4" y2="51.0" stroke="#777" stroke-width="0.6"/>
<line x1="191.6" y1="51.0" x2="190.0" y2="51.0" stroke="#777" stroke-width="0.6"/>
<line x1="179.7" y1="197.8" x2="179.7" y2="196.2" stroke="#777" stroke-width="0.6"/>
<line x1="179.7" y1="34.8" x2="179.7" y2="36.4" stroke="#777" stroke-width="0.6"/>
<line x1="33.8" y1="47.1" x2="35.4" y2="47.1" stroke="#777" stroke-width="0.6"/>
<line x1="191.6" y1="47.1" x2="190.0" y2="47.1" stroke="#777" stroke-width="0.6"/>
<line x1="182.8" y1="197.8" x2="182.8" y2="196.2" stroke="#777" stroke-width="0.6"/>
<line x1="182.8" y1="34.8" x2="182.8" y2="36.4" stroke="#777" stroke-width="0.6"/>
<line x1="33.8" y1="43.8" x2="35.4" y2="43.8" stroke="#777" stroke-width="0.6"/>
<line x1="191.6" y1="43.8" x2="190.0" y2="43.8" stroke="#777" stroke-width="0.6"/>
<line x1="185.5" y1="197.8" x2="185.5" y2="196.2" stroke="#777" stroke-width="0.6"/>
<line x1="185.5" y1="34.8" x2="185.5" y2="36.4" stroke="#777" stroke-width="0.6"/>
<line x1="33.8" y1="41.1" x2="35.4" y2="41.1" stroke="#777" stroke-width="0.6"/>
<line x1="191.6" y1="41.1" x2="190.0" y2="41.1" stroke="#777" stroke-width="0.6"/>
<line x1="187.8" y1="197.8" x2="187.8" y2="196.2" stroke="#777" stroke-width="0.6"/>
<line x1="187.8" y1="34.8" x2="187.8" y2="36.4" stroke="#777" stroke-width="0.6"/>
<line x1="33.8" y1="38.7" x2="35.4" y2="38.7" stroke="#777" stroke-width="0.6"/>
<line x1="191.6" y1="38.7" x2="190.0" y2="38.7" stroke="#777" stroke-width="0.6"/>
<line x1="189.8" y1="197.8" x2="189.8" y2="196.2" stroke="#777" stroke-width="0.6"/>
<line x1="189.8" y1="34.8" x2="189.8" y2="36.4" stroke="#777" stroke-width="0.6"/>
<line x1="33.8" y1="36.7" x2="35.4" y2="36.7" stroke="#777" stroke-width="0.6"/>
<line x1="191.6" y1="36.7" x2="190.0" y2="36.7" stroke="#777" stroke-width="0.6"/>
<path d="M253.5 58.5h1M253.5 60h1M253.5 64.5h1M253.5 65.5h1M253.5 69h1M253.5 69.5h1M253.5 70h1M253.5 70.5h1M253.5 71h1M253.5 71.5h1M253.5 72.5h1M253.5 73h1M253.5 73.5h1M253.5 75h1M253.5 77h1M253.5 78.5h1M253.5 79h1M253.5 79.5h1M253.5 80h1M253.5 80.5h1M253.5 81h1M253.5 82h1M253.5 83h1M253.5 83.5h1M253.5 84.5h1M253.5 85.5h1M253.5 87.5h1M253.5 88h1M253.5 90h1M254 63h1M254 64.5h1M254 65h1M254 66.5h1M254 67h1M254 67.5h1M254 69h1M254 69.5h1M254 70h1M254 71.5h1M254 72h1M254 72.5h1M254 73.5h1M254 74h1M254 74.5h1M254 75h1M254 75.5h1M254 76h1M254 76.5h1M254 77h1M254 77.5h1M254 78h1M254 78.5h1M254 79h1M254 79.5h1M254 80h1M254 80.5h1M254 81h1M254 81.5h1M254 82.5h1M254 83h1M254 83.5h1M254 84h1M254 84.5h1M254 85.5h1M254 86.5h1M254 88.5h1M254 89.5h1M254 90h1M254 94h1M254 95h1M254 101h1M254 156h1M254 157.5h1M254 164.5h1M254 168.5h1M254 174h1M254 187h1M254 193.5h1M254.5 62h1M254.5 65.5h1M254.5 67h1M254.5 68h1M254.5 69h1M254.5 69.5h1M254.5 70h1M254.5 70.5h1M254.5 71.5h1M254.5 72h1M254.5 72.5h1M254.5 73h1M254.5 74h1M254.5 75h1M254.5 75.5h1M254.5 76h1M254.5 76.5h1M254.5 77h1M254.5 77.5h1M254.5 78h1M254.5 78.5h1M254.5 79h1M254.5 79.5h1M254.5 80h1M254.5 80.5h1M254.5 81h1M254.5 82h1M254.5 83h1M254.5 84.5h1M254.5 85.5h1M254.5 86.5h1M254.5 87h1M254.5 87.5h1M254.5 88.5h1M254.5 91h1M254.5 104h1M254.5 161.5h1M254.5 168h1M254.5 189.5h1M254.5 190.5h1M255 56.5h1M255 60.5h1M255 63h1M255 63.5h1M255 64.5h1M255 65.5h1M255 66h1M255 67.5h1M255 68h1M255 69h1M255 69.5h1M255 70h1M255 70.5h1M255 71h1M255 71.5h1M255 72h1M255 72.5h1M255 73h1M255 73.5h1M255 74h1M255 74.5h1M255 75.5h1M255 76h1M255 77h1M255 77.5h1M255 78h1M255 78.5h1M255 79h1M255 79.5h1M255 80h1M255 80.5h1M255 81h1M255 81.5h1M255 82.5h1M255 83h1M255 83.5h1M255 84h1M255 87.5h1M255 91.5h1M255 114h1M255 128.5h1M255 134h1M255 164h1M255 173.5h1M255.5 53.5h1M255.5 62.5h1M255.5 64.5h1M255.5 66h1M255.5 67h1M255.5 68.5h1M255.5 69h1M255.5 69.5h1M255.5 70h1M255.5 70.5h1M255.5 71h1M255.5 71.5h1M255.5 72h1M255.5 74.5h1M255.5 75h1M255.5 75.5h1M255.5 76h1M255.5 76.5h1M255.5 77h1M255.5 77.5h1M255.5 78h1M255.5 78.5h1M255.5 79h1M255.5 79.5h1M255.5 80h1M255.5 80.5h1M255.5 81.5h1M255.5 82h1M255.5 82.5h1M255.5 83.5h1M255.5 84h1M255.5 85h1M255.5 86h1M255.5 87h1M255.5 89h1M255.5 90h1M255.5 90.5h1M255.5 91.5h1M255.5 97.5h1M255.5 99.5h1M255.5 159h1M255.5 171h1M255.5 177h1M255.5 191.5h1M256 45h1M256 58.5h1M256 60h1M256 63h1M256 65.5h1M256 66h1M256 66.5h1M256 67.5h1M256 69h1M256 69.5h1M256 70h1M256 70.5h1M256 71h1M256 71.5h1M256 72h1M256 72.5h1M256 73h1M256 74h1M256 74.5h1M256 75h1M256 75.5h1M256 76h1M256 76.5h1M256 77h1M256 77.5h1M256 78h1M256 78.5h1M256 79h1M256 79.5h1M256 80h1M256 80.5h1M256 81h1M256 81.5h1M256 82.5h1M256 83.5h1M256 85.5h1M256 86h1M256 87h1M256 88h1M256 89h1M256 92h1M256 94.5h1M256 95h1M256 102.5h1M256 112h1M256 125.5h1M256 127h1M256 164.5h1M256 170h1M256 184h1M256 192.5h1M256.5 58.5h1M256.5 63.5h1M256.5 65h1M256.5 65.5h1M256.5 66.5h1M256.5 67h1M256.5 67.5h1M256.5 68h1M256.5 69h1M256.5 70h1M256.5 71h1M256.5 71.5h1M256.5 72h1M256.5 72.5h1M256.5 73h1M256.5 74h1M256.5 74.5h1M256.5 75h1M256.5 75.5h1M256.5 76h1M256.5 76.5h1M256.5 77h1M256.5 77.5h1M256.5 78h1M256.5 78.5h1M256.5 79h1M256.5 79.5h1M256.5 81h1M256.5 81.5h1M256.5 82h1M256.5 82.5h1M256.5 83h1M256.5 83.5h1M256.5 84.5h1M256.5 86h1M256.5 90.5h1M256.5 91.5h1M256.5 92.5h1M256.5 93.5h1M256.5 111h1M256.5 112.5h1M256.5 172.5h1M257 56.5h1M257 57.5h1M257 59h1M257 63h1M257 63.5h1M257 64h1M257 64.5h1M257 65h1M257 66h1M257 67h1M257 68h1M257 69h1M257 69.5h1M257 70h1M257 70.5h1M257 71h1M257 71.5h1M257 72.5h1M257 73h1M257 73.5h1M257 74h1M257 74.5h1M257 75h1M257 75.5h1M257 76h1M257 76.5h1M257 77h1M257 77.5h1M257 78h1M257 78.5h1M257 79h1M257 79.5h1M257 80h1M257 80.5h1M257 82h1M257 82.5h1M257 83h1M257 83.5h1M257 84h1M257 84.5h1M257 85.5h1M257 86h1M257 86.5h1M257 87h1M257 89h1M257 91h1M257 91.5h1M257 97h1M257 105.5h1M257 117h1M257 146.5h1M257 170.5h1M257 175.5h1M257.5 61.5h1M257.5 63h1M257.5 63.5h1M257.5 64h1M257.5 64.5h1M257.5 65h1M257.5 65.5h1M257.5 66h1M257.5 66.5h1M257.5 67h1M257.5 67.5h1M257.5 68.5h1M257.5 69h1M257.5 69.5h1M257.5 70h1M257.5 70.5h1M257.5 71h1M257.5 71.5h1M257.5 72h1M257.5 72.5h1M257.5 73h1M257.5 73.5h1M257.5 74h1M257.5 74.5h1M257.5 75h1M257.5 75.5h1M257.5 76h1M257.5 76.5h1M257.5 77h1M257.5 77.5h1M257.5 78.5h1M257.5 79.5h1M257.5 80.5h1M257.5 81h1M257.5 82.5h1M257.5 83h1M257.5 83.5h1M257.5 85h1M257.5 85.5h1M257.5 87h1M257.5 91.5h1M257.5 125h1M257.5 134h1M257.5 150.5h1M257.5 156.5h1M257.5 168.5h1M257.5 172.5h1M257.5 180.5h1M257.5 182h1M258 58h1M258 63h1M258 63.5h1M258 64h1M258 64.5h1M258 65h1M258 65.5h1M258 66h1M258 66.5h1M258 67h1M258 67.5h1M258 68h1M258 69.5h1M258 70h1M258 70.5h1M258 71h1M258 71.5h1M258 72h1M258 72.5h1M258 73h1M258 73.5h1M258 74h1M258 74.5h1M258 75h1M258 75.5h1M258 76h1M258 76.5h1M258 77h1M258 77.5h1M258 78h1M258 78.5h1M258 79h1M258 80h1M258 80.5h1M258 81h1M258 81.5h1M258 82h1M258 82.5h1M258 83h1M258 83.5h1M258 84h1M258 84.5h1M258 85h1M258 86.5h1M258 87h1M258 87.5h1M258 88.5h1M258 89h1M258 90h1M258 90.5h1M258 110h1M258 151.5h1M258 155.5h1M258 165.5h1M258 184.5h1M258 185h1M258.5 47h1M258.5 49.5h1M258.5 56.5h1M258.5 57h1M258.5 57.5h1M258.5 59h1M258.5 59.5h1M258.5 61.5h1M258.5 63h1M258.5 63.5h1M258.5 64h1M258.5 64.5h1M258.5 65.5h1M258.5 66h1M258.5 67.5h1M258.5 68h1M258.5 68.5h1M258.5 69h1M258.5 69.5h1M258.5 70h1M258.5 70.5h1M258.5 71h1M258.5 71.5h1M258.5 72h1M258.5 72.5h1M258.5 73h1M258.5 73.5h1M258.5 74h1M258.5 74.5h1M258.5 75h1M258.5 75.5h1M258.5 76h1M258.5 76.5h1M258.5 77h1M258.5 78h1M258.5 78.5h1M258.5 79h1M258.5 80h1M258.5 80.5h1M258.5 81h1M258.5 81.5h1M258.5 82h1M258.5 82.5h1M258.5 83h1M258.5 83.5h1M258.5 84.5h1M258.5 85.5h1M258.5 86h1M258.5 86.5h1M258.5 88.5h1M258.5 90.5h1M258.5 93h1M258.5 104.5h1M258.5 150h1M258.5 164.5h1M258.5 169h1M258.5 176.5h1M258.5 177.5h1M258.5 183h1M259 55h1M259 61.5h1M259 62h1M259 62.5h1M259 64h1M259 64.5h1M259 65.5h1M259 66.5h1M259 67h1M259 67.5h1M259 68h1M259 68.5h1M259 69h1M259 69.5h1M259 70h1M259 70.5h1M259 71.5h1M259 72h1M259 72.5h1M259 73h1M259 73.5h1M259 74h1M259 74.5h1M259 75h1M259 75.5h1M259 76h1M259 76.5h1M259 77h1M259 77.5h1M259 78h1M259 78.5h1M259 79h1M259 79.5h1M259 80h1M259 80.5h1M259 81h1M259 81.5h1M259 82h1M259 82.5h1M259 83h1M259 83.5h1M259 84h1M259 84.5h1M259 85.5h1M259 86h1M259 86.5h1M259 87h1M259 88h1M259 90.5h1M259 93h1M259 102.5h1M259 111.5h1M259 118.5h1M259 123h1M259 129h1M259 155.5h1M259 158.5h1M259 162h1M259 164h1M259 170h1M259.5 53h1M259.5 55.5h1M259.5 58.5h1M259.5 60h1M259.5 62h1M259.5 62.5h1M259.5 64h1M259.5 64.5h1M259.5 65h1M259.5 65.5h1M259.5 66.5h1M259.5 67h1M259.5 67.5h1M259.5 68.5h1M259.5 69.5h1M259.5 70h1M259.5 70.5h1M259.5 71h1M259.5 71.5h1M259.5 72h1M259.5 72.5h1M259.5 73.5h1M259.5 74h1M259.5 74.5h1M259.5 75h1M259.5 75.5h1M259.5 76h1M259.5 76.5h1M259.5 77h1M259.5 77.5h1M259.5 78h1M259.5 78.5h1M259.5 79h1M259.5 79.5h1M259.5 80h1M259.5 80.5h1M259.5 81h1M259.5 81.5h1M259.5 82h1M259.5 82.5h1M259.5 83h1M259.5 83.5h1M259.5 84.5h1M259.5 85h1M259.5 85.5h1M259.5 86h1M259.5 86.5h1M259.5 89h1M259.5 94h1M259.5 96h1M259.5 108.5h1M259.5 152h1M259.5 166h1M259.5 177h1M259.5 178.5h1M259.5 179h1M259.5 186.5h1M260 60h1M260 61h1M260 62h1M260 62.5h1M260 63h1M260 64h1M260 65h1M260 65.5h1M260 66h1M260 66.5h1M260 67h1M260 67.5h1M260 68h1M260 68.5h1M260 69h1M260 69.5h1M260 70h1M260 70.5h1M260 71h1M260 71.5h1M260 72h1M260 72.5h1M260 73h1M260 73.5h1M260 74h1M260 74.5h1M260 75h1M260 75.5h1M260 76h1M260 76.5h1M260 77h1M260 77.5h1M260 78h1M260 78.5h1M260 79.5h1M260 80h1M260 80.5h1M260 81h1M260 81.5h1M260 82h1M260 82.5h1M260 83h1M260 83.5h1M260 84h1M260 84.5h1M260 85.5h1M260 86h1M260 86.5h1M260 87h1M260 87.5h1M260 88h1M260 89h1M260 90h1M260 90.5h1M260 93h1M260 95h1M260 121h1M260 145.5h1M260 158.5h1M260 164.5h1M260 166.5h1M260 171.5h1M260 180h1M260.5 55.5h1M260.5 57h1M260.5 60.5h1M260.5 61h1M260.5 62h1M260.5 62.5h1M260.5 63.5h1M260.5 64h1M260.5 65h1M260.5 65.5h1M260.5 66h1M260.5 66.5h1M260.5 67h1M260.5 67.5h1M260.5 68h1M260.5 68.5h1M260.5 69.5h1M260.5 70h1M260.5 70.5h1M260.5 71h1M260.5 71.5h1M260.5 72h1M260.5 72.5h1M260.5 73h1M260.5 73.5h1M260.5 74h1M260.5 74.5h1M260.5 75h1M260.5 75.5h1M260.5 76h1M260.5 76.5h1M260.5 77h1M260.5 77.5h1M260.5 78h1M260.5 78.5h1M260.5 79h1M260.5 79.5h1M260.5 80h1M260.5 80.5h1M260.5 81h1M260.5 82h1M260.5 82.5h1M260.5 84h1M260.5 84.5h1M260.5 85.5h1M260.5 86h1M260.5 86.5h1M260.5 87h1M260.5 87.5h1M260.5 88.5h1M260.5 89h1M260.5 89.5h1M260.5 90.5h1M260.5 92h1M260.5 93.5h1M260.5 94h1M260.5 94.5h1M260.5 95h1M260.5 117.5h1M260.5 165.5h1M260.5 166h1M260.5 179h1M261 57h1M261 58h1M261 61h1M261 61.5h1M261 62h1M261 63h1M261 64.5h1M261 65h1M261 66h1M261 66.5h1M261 67h1M261 67.5h1M261 68h1M261 68.5h1M261 69h1M261 69.5h1M261 70.5h1M261 71h1M261 71.5h1M261 72h1M261 72.5h1M261 73h1M261 73.5h1M261 74h1M261 74.5h1M261 75h1M261 75.5h1M261 76h1M261 76.5h1M261 77h1M261 77.5h1M261 78h1M261 78.5h1M261 79h1M261 79.5h1M261 80h1M261 80.5h1M261 81.5h1M261 82.5h1M261 83h1M261 83.5h1M261 84h1M261 84.5h1M261 85h1M261 86.5h1M261 87h1M261 89h1M261 89.5h1M261 91h1M261 120h1M261 128h1M261 154.5h1M261 159.5h1M261 168h1M261 168.5h1M261 171h1M261 174h1M261 175h1M261 179.5h1M261.5 58h1M261.5 60h1M261.5 60.5h1M261.5 61.5h1M261.5 62h1M261.5 62.5h1M261.5 63h1M261.5 63.5h1M261.5 64.5h1M261.5 65h1M261.5 65.5h1M261.5 66h1M261.5 66.5h1M261.5 67h1M261.5 67.5h1M261.5 68h1M261.5 68.5h1M261.5 69h1M261.5 69.5h1M261.5 70.5h1M261.5 71h1M261.5 71.5h1M261.5 72h1M261.5 72.5h1M261.5 73h1M261.5 73.5h1M261.5 74h1M261.5 74.5h1M261.5 75h1M261.5 75.5h1M261.5 76h1M261.5 77h1M261.5 77.5h1M261.5 78h1M261.5 78.5h1M261.5 79h1M261.5 79.5h1M261.5 80h1M261.5 80.5h1M261.5 81h1M261.5 81.5h1M261.5 82h1M261.5 82.5h1M261.5 83.5h1M261.5 84.5h1M261.5 85.5h1M261.5 88.5h1M261.5 89h1M261.5 90h1M261.5 91h1M261.5 123h1M261.5 151.5h1M261.5 158.5h1M261.5 169h1M261.5 169.5h1M261.5 172.5h1M261.5 174.5h1M261.5 179h1M261.5 192h1M262 58.5h1M262 59h1M262 59.5h1M262 60.5h1M262 61h1M262 62.5h1M262 65h1M262 65.5h1M262 66h1M262 66.5h1M262 67.5h1M262 68h1M262 68.5h1M262 69h1M262 69.5h1M262 70h1M262 70.5h1M262 71h1M262 71.5h1M262 72h1M262 72.5h1M262 73h1M262 73.5h1M262 74h1M262 74.5h1M262 75h1M262 75.5h1M262 76h1M262 76.5h1M262 77h1M262 77.5h1M262 78h1M262 78.5h1M262 79h1M262 79.5h1M262 80h1M262 80.5h1M262 81.5h1M262 82.5h1M262 83h1M262 83.5h1M262 84h1M262 85h1M262 86h1M262 87h1M262 87.5h1M262 88h1M262 88.5h1M262 89h1M262 90h1M262 95.5h1M262 104h1M262 108h1M262 119.5h1M262 165.5h1M262 166.5h1M262 170h1M262 170.5h1M262 174h1M262.5 55h1M262.5 55.5h1M262.5 56.5h1M262.5 57h1M262.5 60.5h1M262.5 61.5h1M262.5 62h1M262.5 62.5h1M262.5 63h1M262.5 64h1M262.5 64.5h1M262.5 65h1M262.5 65.5h1M262.5 66h1M262.5 66.5h1M262.5 67h1M262.5 67.5h1M262.5 68h1M262.5 68.5h1M262.5 69h1M262.5 69.5h1M262.5 70h1M262.5 70.5h1M262.5 71h1M262.5 71.5h1M262.5 72h1M262.5 72.5h1M262.5 73h1M262.5 73.5h1M262.5 74h1M262.5 74.5h1M262.5 75h1M262.5 75.5h1M262.5 76h1M262.5 76.5h1M262.5 77h1M262.5 78h1M262.5 78.5h1M262.5 79h1M262.5 79.5h1M262.5 80h1M262.5 80.5h1M262.5 81h1M262.5 81.5h1M262.5 82h1M262.5 82.5h1M262.5 83.5h1M262.5 84h1M262.5 84.5h1M262.5 85h1M262.5 86.5h1M262.5 87h1M262.5 87.5h1M262.5 88h1M262.5 88.5h1M262.5 89.5h1M262.5 90.5h1M262.5 92h1M262.5 93h1M262.5 99h1M262.5 102h1M262.5 103h1M262.5 108.5h1M262.5 111.5h1M262.5 112h1M262.5 113.5h1M262.5 154h1M262.5 170h1M262.5 170.5h1M262.5 171.5h1M262.5 176h1M262.5 179.5h1M263 56h1M263 56.5h1M263 58.5h1M263 59.5h1M263 60h1M263 61h1M263 61.5h1M263 62h1M263 62.5h1M263 63h1M263 64h1M263 64.5h1M263 65h1M263 65.5h1M263 66h1M263 66.5h1M263 67h1M263 67.5h1M263 68h1M263 68.5h1M263 69h1M263 69.5h1M263 70h1M263 70.5h1M263 71h1M263 71.5h1M263 72h1M263 72.5h1M263 73h1M263 73.5h1M263 74h1M263 74.5h1M263 75h1M263 75.5h1M263 76h1M263 76.5h1M263 77h1M263 77.5h1M263 78h1M263 78.5h1M263 79h1M263 79.5h1M263 80h1M263 80.5h1M263 81h1M263 81.5h1M263 82h1M263 82.5h1M263 83h1M263 83.5h1M263 84h1M263 84.5h1M263 85h1M263 85.5h1M263 87h1M263 89h1M263 90h1M263 91h1M263 92h1M263 94h1M263 95.5h1M263 96.5h1M263 106.5h1M263 108.5h1M263 116h1M263 118h1M263 127.5h1M263 138.5h1M263 159.5h1M263 160.5h1M263 161.5h1M263 163.5h1M263 167h1M263 169.5h1M263 170.5h1M263 173h1M263 174h1M263 184h1M263.5 52.5h1M263.5 53h1M263.5 53.5h1M263.5 58.5h1M263.5 59.5h1M263.5 60h1M263.5 60.5h1M263.5 61h1M263.5 62h1M263.5 63h1M263.5 63.5h1M263.5 64h1M263.5 65h1M263.5 65.5h1M263.5 66h1M263.5 66.5h1M263.5 67h1M263.5 67.5h1M263.5 68h1M263.5 68.5h1M263.5 69h1M263.5 69.5h1M263.5 70h1M263.5 70.5h1M263.5 71h1M263.5 72h1M263.5 72.5h1M263.5 73h1M263.5 73.5h1M263.5 74.5h1M263.5 75h1M263.5 75.5h1M263.5 76h1M263.5 76.5h1M263.5 77h1M263.5 77.5h1M263.5 78h1M263.5 78.5h1M263.5 79.5h1M263.5 80h1M263.5 80.5h1M263.5 81h1M263.5 81.5h1M263.5 82h1M263.5 82.5h1M263.5 83.5h1M263.5 84.5h1M263.5 85h1M263.5 85.5h1M263.5 86.5h1M263.5 87h1M263.5 87.5h1M263.5 88h1M263.5 88.5h1M263.5 89.5h1M263.5 123.5h1M263.5 153.5h1M263.5 164.5h1M263.5 172.5h1M263.5 187.5h1M264 54h1M264 55.5h1M264 61h1M264 61.5h1M264 62.5h1M264 63h1M264 64h1M264 64.5h1M264 65h1M264 65.5h1M264 66h1M264 66.5h1M264 67h1M264 67.5h1M264 68h1M264 68.5h1M264 69h1M264 69.5h1M264 70h1M264 70.5h1M264 71h1M264 71.5h1M264 72h1M264 72.5h1M264 73h1M264 73.5h1M264 74h1M264 74.5h1M264 75h1M264 75.5h1M264 76h1M264 76.5h1M264 77h1M264 77.5h1M264 78h1M264 78.5h1M264 79h1M264 79.5h1M264 80h1M264 80.5h1M264 81h1M264 81.5h1M264 82h1M264 82.5h1M264 83.5h1M264 84h1M264 85h1M264 85.5h1M264 86.5h1M264 88.5h1M264 89h1M264 91.5h1M264 93h1M264 94h1M264 97.5h1M264 100.5h1M264 110.5h1M264 123.5h1M264 146.5h1M264 163h1M264 163.5h1M264 167.5h1M264 168h1M264 171.5h1M264 172h1M264 172.5h1M264 174.5h1M264 176h1M264 185.5h1M264 187.5h1M264.5 57.5h1M264.5 58h1M264.5 59.5h1M264.5 61h1M264.5 61.5h1M264.5 63h1M264.5 64h1M264.5 64.5h1M264.5 65.5h1M264.5 66h1M264.5 66.5h1M264.5 67h1M264.5 67.5h1M264.5 68h1M264.5 68.5h1M264.5 69h1M264.5 69.5h1M264.5 70h1M264.5 70.5h1M264.5 71h1M264.5 71.5h1M264.5 72h1M264.5 72.5h1M264.5 73h1M264.5 73.5h1M264.5 74h1M264.5 74.5h1M264.5 75h1M264.5 75.5h1M264.5 76h1M264.5 76.5h1M264.5 77h1M264.5 78h1M264.5 78.5h1M264.5 79h1M264.5 79.5h1M264.5 80h1M264.5 81h1M264.5 81.5h1M264.5 82h1M264.5 82.5h1M264.5 83h1M264.5 83.5h1M264.5 84h1M264.5 84.5h1M264.5 85h1M264.5 86h1M264.5 87.5h1M264.5 90h1M264.5 92.5h1M264.5 95h1M264.5 102.5h1M264.5 107h1M264.5 113h1M264.5 125h1M264.5 132h1M264.5 145h1M264.5 153h1M264.5 158.5h1M264.5 160h1M264.5 161h1M264.5 162h1M264.5 166.5h1M264.5 168.5h1M264.5 169.5h1M264.5 170h1M264.5 170.5h1M264.5 171h1M264.5 171.5h1M264.5 174h1M264.5 177h1M264.5 180h1M265 53h1M265 58h1M265 59.5h1M265 60h1M265 60.5h1M265 61.5h1M265 62h1M265 62.5h1M265 63.5h1M265 64h1M265 64.5h1M265 65.5h1M265 66h1M265 66.5h1M265 67h1M265 67.5h1M265 68h1M265 68.5h1M265 69h1M265 69.5h1M265 70h1M265 70.5h1M265 71h1M265 71.5h1M265 72h1M265 72.5h1M265 73h1M265 73.5h1M265 74h1M265 74.5h1M265 75h1M265 75.5h1M265 76h1M265 76.5h1M265 77h1M265 77.5h1M265 78h1M265 78.5h1M265 79h1M265 79.5h1M265 80h1M265 80.5h1M265 81h1M265 81.5h1M265 82h1M265 82.5h1M265 83h1M265 83.5h1M265 84h1M265 84.5h1M265 85h1M265 85.5h1M265 86h1M265 86.5h1M265 87h1M265 88h1M265 89h1M265 89.5h1M265 90h1M265 90.5h1M265 96.5h1M265 98.5h1M265 147.5h1M265 163.5h1M265 169.5h1M265 170h1M265 171h1M265 172h1M265 172.5h1M265 174.5h1M265 175.5h1M265 179h1M265 182h1M265.5 53.5h1M265.5 55.5h1M265.5 58h1M265.5 60h1M265.5 60.5h1M265.5 61h1M265.5 61.5h1M265.5 62.5h1M265.5 63h1M265.5 63.5h1M265.5 64.5h1M265.5 65h1M265.5 65.5h1M265.5 66h1M265.5 66.5h1M265.5 67h1M265.5 67.5h1M265.5 68h1M265.5 68.5h1M265.5 69h1M265.5 69.5h1M265.5 70h1M265.5 70.5h1M265.5 71h1M265.5 71.5h1M265.5 72h1M265.5 72.5h1M265.5 73h1M265.5 73.5h1M265.5 74h1M265.5 74.5h1M265.5 75h1M265.5 75.5h1M265.5 76h1M265.5 76.5h1M265.5 77h1M265.5 77.5h1M265.5 78h1M265.5 78.5h1M265.5 79h1M265.5 80h1M265.5 80.5h1M265.5 81h1M265.5 81.5h1M265.5 82h1M265.5 82.5h1M265.5 83h1M265.5 83.5h1M265.5 84h1M265.5 84.5h1M265.5 85h1M265.5 88.5h1M265.5 89h1M265.5 91h1M265.5 91.5h1M265.5 98.5h1M265.5 99h1M265.5 151.5h1M265.5 152.5h1M265.5 157.5h1M265.5 158.5h1M265.5 164h1M265.5 164.5h1M265.5 166.5h1M265.5 169h1M265.5 170.5h1M265.5 173.5h1M265.5 174h1M265.5 188h1M266 56h1M266 57.5h1M266 59.5h1M266 60h1M266 61h1M266 61.5h1M266 62h1M266 63h1M266 63.5h1M266 64h1M266 64.5h1M266 65h1M266 65.5h1M266 66h1M266 67h1M266 67.5h1M266 68h1M266 68.5h1M266 69h1M266 70h1M266 70.5h1M266 71h1M266 71.5h1M266 72h1M266 72.5h1M266 73h1M266 73.5h1M266 74h1M266 74.5h1M266 75h1M266 75.5h1M266 76h1M266 76.5h1M266 77h1M266 77.5h1M266 78h1M266 78.5h1M266 79h1M266 79.5h1M266 80h1M266 80.5h1M266 81h1M266 81.5h1M266 82.5h1M266 83h1M266 83.5h1M266 84h1M266 84.5h1M266 85h1M266 85.5h1M266 86h1M266 86.5h1M266 87h1M266 90.5h1M266 94.5h1M266 103.5h1M266 107.5h1M266 116.5h1M266 125.5h1M266 130h1M266 160h1M266 160.5h1M266 162.5h1M266 163.5h1M266 165.5h1M266 167h1M266 167.5h1M266 168h1M266 169h1M266 169.5h1M266 170.5h1M266 172h1M266 172.5h1M266 173h1M266 174h1M266 176h1M266 177.5h1M266 178.5h1M266 182h1M266 183h1M266.5 56h1M266.5 57h1M266.5 59.5h1M266.5 60h1M266.5 62h1M266.5 62.5h1M266.5 63.5h1M266.5 64h1M266.5 64.5h1M266.5 65h1M266.5 65.5h1M266.5 66h1M266.5 66.5h1M266.5 67h1M266.5 67.5h1M266.5 68h1M266.5 68.5h1M266.5 69h1M266.5 69.5h1M266.5 70h1M266.5 70.5h1M266.5 71h1M266.5 71.5h1M266.5 72h1M266.5 72.5h1M266.5 73h1M266.5 73.5h1M266.5 74h1M266.5 74.5h1M266.5 75h1M266.5 75.5h1M266.5 76h1M266.5 76.5h1M266.5 77h1M266.5 77.5h1M266.5 78h1M266.5 78.5h1M266.5 79h1M266.5 79.5h1M266.5 80.5h1M266.5 81h1M266.5 81.5h1M266.5 82h1M266.5 82.5h1M266.5 83h1M266.5 83.5h1M266.5 84h1M266.5 84.5h1M266.5 85h1M266.5 85.5h1M266.5 86h1M266.5 88h1M266.5 94h1M266.5 105.5h1M266.5 142.5h1M266.5 143h1M266.5 155.5h1M266.5 156.5h1M266.5 161h1M266.5 161.5h1M266.5 162.5h1M266.5 163.5h1M266.5 165h1M266.5 166.5h1M266.5 168h1M266.5 168.5h1M266.5 170.5h1M266.5 174h1M266.5 174.5h1M266.5 177.5h1M266.5 179.5h1M266.5 184.5h1M267 54.5h1M267 55h1M267 56.5h1M267 58.5h1M267 61h1M267 62h1M267 62.5h1M267 63h1M267 64h1M267 64.5h1M267 65h1M267 65.5h1M267 66h1M267 67h1M267 67.5h1M267 68h1M267 68.5h1M267 69.5h1M267 70h1M267 70.5h1M267 71h1M267 71.5h1M267 72h1M267 72.5h1M267 73h1M267 73.5h1M267 74h1M267 74.5h1M267 75h1M267 75.5h1M267 76h1M267 76.5h1M267 77h1M267 77.5h1M267 78h1M267 78.5h1M267 79h1M267 79.5h1M267 80.5h1M267 81h1M267 81.5h1M267 82h1M267 82.5h1M267 83h1M267 83.5h1M267 84h1M267 85h1M267 85.5h1M267 86h1M267 86.5h1M267 88.5h1M267 89.5h1M267 90.5h1M267 96.5h1M267 100.5h1M267 148h1M267 151h1M267 151.5h1M267 159.5h1M267 161h1M267 166.5h1M267 167h1M267 169h1M267 170h1M267 170.5h1M267 172h1M267 172.5h1M267 173h1M267 173.5h1M267 174.5h1M267 175.5h1M267 177h1M267 178.5h1M267 184.5h1M267 185.5h1M267.5 48.5h1M267.5 56.5h1M267.5 58.5h1M267.5 59.5h1M267.5 60h1M267.5 60.5h1M267.5 61h1M267.5 62h1M267.5 63h1M267.5 63.5h1M267.5 64h1M267.5 64.5h1M267.5 65h1M267.5 65.5h1M267.5 66h1M267.5 66.5h1M267.5 67h1M267.5 67.5h1M267.5 68h1M267.5 68.5h1M267.5 69h1M267.5 69.5h1M267.5 70h1M267.5 70.5h1M267.5 71h1M267.5 71.5h1M267.5 72h1M267.5 72.5h1M267.5 73h1M267.5 73.5h1M267.5 74h1M267.5 74.5h1M267.5 75h1M267.5 75.5h1M267.5 76.5h1M267.5 77h1M267.5 77.5h1M267.5 78h1M267.5 78.5h1M267.5 79h1M267.5 79.5h1M267.5 80h1M267.5 80.5h1M267.5 81h1M267.5 81.5h1M267.5 82h1M267.5 82.5h1M267.5 83.5h1M267.5 84h1M267.5 84.5h1M267.5 85h1M267.5 85.5h1M267.5 86.5h1M267.5 87.5h1M267.5 88.5h1M267.5 92h1M267.5 104h1M267.5 116h1M267.5 130.5h1M267.5 155.5h1M267.5 158h1M267.5 159h1M267.5 160.5h1M267.5 163h1M267.5 164h1M267.5 164.5h1M267.5 166h1M267.5 167.5h1M267.5 169h1M267.5 169.5h1M267.5 171h1M267.5 171.5h1M267.5 172h1M267.5 172.5h1M267.5 173h1M267.5 174h1M267.5 175.5h1M267.5 176h1M267.5 178h1M267.5 180h1M267.5 181h1M267.5 182.5h1M267.5 183h1M268 52h1M268 55.5h1M268 58h1M268 59h1M268 59.5h1M268 60h1M268 60.5h1M268 61h1M268 61.5h1M268 62h1M268 62.5h1M268 63h1M268 63.5h1M268 64.5h1M268 65h1M268 65.5h1M268 66h1M268 66.5h1M268 67h1M268 67.5h1M268 68h1M268 68.5h1M268 69h1M268 69.5h1M268 70h1M268 71h1M268 71.5h1M268 72h1M268 72.5h1M268 73h1M268 73.5h1M268 74h1M268 74.5h1M268 75h1M268 75.5h1M268 76h1M268 76.5h1M268 77h1M268 77.5h1M268 78h1M268 78.5h1M268 79h1M268 79.5h1M268 80h1M268 80.5h1M268 81h1M268 81.5h1M268 82h1M268 83h1M268 84h1M268 84.5h1M268 85h1M268 86h1M268 88h1M268 91h1M268 94h1M268 111h1M268 127.5h1M268 158h1M268 161h1M268 164.5h1M268 165h1M268 165.5h1M268 166h1M268 167h1M268 168h1M268 168.5h1M268 169h1M268 169.5h1M268 170.5h1M268 171h1M268 172.5h1M268 173h1M268 173.5h1M268 175h1M268 175.5h1M268 181.5h1M268.5 53.5h1M268.5 58.5h1M268.5 59h1M268.5 59.5h1M268.5 60h1M268.5 60.5h1M268.5 61h1M268.5 61.5h1M268.5 63h1M268.5 63.5h1M268.5 64h1M268.5 64.5h1M268.5 65h1M268.5 65.5h1M268.5 66h1M268.5 66.5h1M268.5 67h1M268.5 67.5h1M268.5 68h1M268.5 68.5h1M268.5 69h1M268.5 69.5h1M268.5 70h1M268.5 70.5h1M268.5 71h1M268.5 71.5h1M268.5 72h1M268.5 72.5h1M268.5 73h1M268.5 73.5h1M268.5 74h1M268.5 74.5h1M268.5 75h1M268.5 75.5h1M268.5 76h1M268.5 76.5h1M268.5 77h1M268.5 77.5h1M268.5 78h1M268.5 78.5h1M268.5 79h1M268.5 79.5h1M268.5 80h1M268.5 80.5h1M268.5 81h1M268.5 81.5h1M268.5 82h1M268.5 82.5h1M268.5 83h1M268.5 83.5h1M268.5 84h1M268.5 84.5h1M268.5 86.5h1M268.5 88.5h1M268.5 89.5h1M268.5 91.5h1M268.5 95.5h1M268.5 115.5h1M268.5 125h1M268.5 155.5h1M268.5 158.5h1M268.5 160.5h1M268.5 161.5h1M268.5 162.5h1M268.5 164h1M268.5 165.5h1M268.5 166h1M268.5 167h1M268.5 168h1M268.5 168.5h1M268.5 169.5h1M268.5 171.5h1M268.5 173h1M268.5 173.5h1M268.5 174h1M268.5 175.5h1M268.5 177h1M268.5 178h1M268.5 180.5h1M268.5 191h1M269 53h1M269 55h1M269 58h1M269 58.5h1M269 60h1M269 60.5h1M269 61h1M269 61.5h1M269 62h1M269 63h1M269 63.5h1M269 64h1M269 65h1M269 65.5h1M269 66h1M269 66.5h1M269 67h1M269 67.5h1M269 68h1M269 68.5h1M269 69h1M269 69.5h1M269 70h1M269 70.5h1M269 71h1M269 71.5h1M269 72h1M269 72.5h1M269 73h1M269 73.5h1M269 74h1M269 74.5h1M269 75h1M269 75.5h1M269 76h1M269 76.5h1M269 77h1M269 77.5h1M269 78h1M269 78.5h1M269 79h1M269 79.5h1M269 80h1M269 80.5h1M269 81h1M269 81.5h1M269 82h1M269 82.5h1M269 83h1M269 83.5h1M269 85.5h1M269 86.5h1M269 87h1M269 87.5h1M269 88h1M269 89h1M269 94h1M269 102.5h1M269 122.5h1M269 145h1M269 154.5h1M269 157.5h1M269 158h1M269 160.5h1M269 164h1M269 165.5h1M269 166h1M269 167.5h1M269 168h1M269 168.5h1M269 169h1M269 169.5h1M269 170.5h1M269 171.5h1M269 173h1M269 174.5h1M269 175h1M269 179h1M269 180h1M269 181.5h1M269 183h1M269.5 48h1M269.5 55.5h1M269.5 58h1M269.5 59h1M269.5 59.5h1M269.5 60.5h1M269.5 61h1M269.5 61.5h1M269.5 62h1M269.5 62.5h1M269.5 63h1M269.5 63.5h1M269.5 64h1M269.5 64.5h1M269.5 65h1M269.5 65.5h1M269.5 66h1M269.5 66.5h1M269.5 67h1M269.5 67.5h1M269.5 68h1M269.5 68.5h1M269.5 69h1M269.5 69.5h1M269.5 70h1M269.5 70.5h1M269.5 71h1M269.5 71.5h1M269.5 72h1M269.5 72.5h1M269.5 73h1M269.5 73.5h1M269.5 74h1M269.5 74.5h1M269.5 75h1M269.5 75.5h1M269.5 76h1M269.5 76.5h1M269.5 77h1M269.5 77.5h1M269.5 78h1M269.5 78.5h1M269.5 79h1M269.5 79.5h1M269.5 80h1M269.5 80.5h1M269.5 81h1M269.5 81.5h1M269.5 82h1M269.5 83h1M269.5 83.5h1M269.5 84h1M269.5 84.5h1M269.5 85.5h1M269.5 88.5h1M269.5 90h1M269.5 91.5h1M269.5 97.5h1M269.5 103.5h1M269.5 110h1M269.5 144.5h1M269.5 151.5h1M269.5 159.5h1M269.5 160.5h1M269.5 162.5h1M269.5 163h1M269.5 164h1M269.5 164.5h1M269.5 166h1M269.5 168.5h1M269.5 169h1M269.5 170h1M269.5 171h1M269.5 172h1M269.5 172.5h1M269.5 174h1M269.5 174.5h1M269.5 175h1M269.5 176h1M269.5 178.5h1M269.5 184h1M269.5 185h1M269.5 185.5h1M270 49.5h1M270 55h1M270 56h1M270 58.5h1M270 59.5h1M270 60.5h1M270 61h1M270 61.5h1M270 62.5h1M270 63h1M270 64h1M270 64.5h1M270 65h1M270 65.5h1M270 66h1M270 66.5h1M270 67h1M270 67.5h1M270 68h1M270 68.5h1M270 69h1M270 69.5h1M270 70h1M270 70.5h1M270 71h1M270 71.5h1M270 72h1M270 72.5h1M270 73h1M270 73.5h1M270 74h1M270 74.5h1M270 75h1M270 75.5h1M270 76h1M270 76.5h1M270 77h1M270 77.5h1M270 78h1M270 78.5h1M270 79h1M270 79.5h1M270 80h1M270 80.5h1M270 81h1M270 81.5h1M270 82h1M270 82.5h1M270 83h1M270 83.5h1M270 84h1M270 84.5h1M270 85h1M270 85.5h1M270 86h1M270 86.5h1M270 87.5h1M270 97.5h1M270 106.5h1M270 114h1M270 157.5h1M270 161h1M270 162h1M270 163.5h1M270 164h1M270 164.5h1M270 165.5h1M270 166h1M270 167h1M270 167.5h1M270 168h1M270 169.5h1M270 170h1M270 172h1M270 174h1M270 179h1M270 179.5h1M270 187h1M270.5 53.5h1M270.5 56h1M270.5 58h1M270.5 59h1M270.5 60h1M270.5 60.5h1M270.5 61h1M270.5 62h1M270.5 62.5h1M270.5 63h1M270.5 64h1M270.5 64.5h1M270.5 65h1M270.5 65.5h1M270.5 66h1M270.5 66.5h1M270.5 67h1M270.5 67.5h1M270.5 68h1M270.5 68.5h1M270.5 69h1M270.5 69.5h1M270.5 70h1M270.5 70.5h1M270.5 71h1M270.5 71.5h1M270.5 72h1M270.5 72.5h1M270.5 73h1M270.5 73.5h1M270.5 74h1M270.5 74.5h1M270.5 75h1M270.5 75.5h1M270.5 76h1M270.5 76.5h1M270.5 77h1M270.5 77.5h1M270.5 78h1M270.5 78.5h1M270.5 79h1M270.5 79.5h1M270.5 80h1M270.5 80.5h1M270.5 81h1M270.5 81.5h1M270.5 82h1M270.5 83h1M270.5 83.5h1M270.5 84h1M270.5 84.5h1M270.5 85h1M270.5 85.5h1M270.5 91h1M270.5 92h1M270.5 96h1M270.5 106h1M270.5 112.5h1M270.5 158h1M270.5 160h1M270.5 163h1M270.5 164h1M270.5 166h1M270.5 166.5h1M270.5 167h1M270.5 167.5h1M270.5 168h1M270.5 169h1M270.5 170h1M270.5 172.5h1M270.5 173.5h1M270.5 174h1M270.5 175h1M270.5 177h1M270.5 177.5h1M270.5 178h1M270.5 180h1M270.5 180.5h1M271 53h1M271 55.5h1M271 57h1M271 58.5h1M271 60.5h1M271 61h1M271 61.5h1M271 62h1M271 62.5h1M271 63h1M271 64h1M271 64.5h1M271 65h1M271 65.5h1M271 66h1M271 66.5h1M271 67h1M271 67.5h1M271 68h1M271 68.5h1M271 69h1M271 69.5h1M271 70h1M271 70.5h1M271 71h1M271 71.5h1M271 72h1M271 72.5h1M271 73h1M271 73.5h1M271 74h1M271 74.5h1M271 75h1M271 75.5h1M271 76h1M271 76.5h1M271 77h1M271 77.5h1M271 78h1M271 78.5h1M271 79h1M271 79.5h1M271 80h1M271 80.5h1M271 81h1M271 81.5h1M271 82h1M271 83h1M271 83.5h1M271 84h1M271 84.5h1M271 85h1M271 85.5h1M271 87.5h1M271 88h1M271 89.5h1M271 91.5h1M271 95.5h1M271 109.5h1M271 111.5h1M271 121.5h1M271 123h1M271 152h1M271 159.5h1M271 160.5h1M271 162h1M271 163h1M271 163.5h1M271 164.5h1M271 165.5h1M271 166h1M271 166.5h1M271 167.5h1M271 168h1M271 169h1M271 169.5h1M271 170.5h1M271 171.5h1M271 172h1M271 172.5h1M271 173h1M271 173.5h1M271 174.5h1M271 175.5h1M271 176.5h1M271 182h1M271 183.5h1M271 186.5h1M271 189.5h1M271 191.5h1M271.5 50h1M271.5 52h1M271.5 54.5h1M271.5 56.5h1M271.5 58h1M271.5 59h1M271.5 59.5h1M271.5 60.5h1M271.5 61h1M271.5 61.5h1M271.5 62h1M271.5 62.5h1M271.5 63h1M271.5 63.5h1M271.5 64h1M271.5 64.5h1M271.5 65h1M271.5 66h1M271.5 66.5h1M271.5 67.5h1M271.5 68h1M271.5 68.5h1M271.5 69h1M271.5 69.5h1M271.5 70h1M271.5 70.5h1M271.5 71h1M271.5 71.5h1M271.5 72h1M271.5 72.5h1M271.5 73h1M271.5 73.5h1M271.5 74h1M271.5 74.5h1M271.5 75h1M271.5 75.5h1M271.5 76h1M271.5 76.5h1M271.5 77h1M271.5 77.5h1M271.5 78h1M271.5 79h1M271.5 79.5h1M271.5 80h1M271.5 80.5h1M271.5 81h1M271.5 81.5h1M271.5 83h1M271.5 83.5h1M271.5 84h1M271.5 84.5h1M271.5 85h1M271.5 87.5h1M271.5 89h1M271.5 89.5h1M271.5 92.5h1M271.5 97h1M271.5 100h1M271.5 106.5h1M271.5 107h1M271.5 114.5h1M271.5 121h1M271.5 127h1M271.5 155.5h1M271.5 159h1M271.5 161h1M271.5 162h1M271.5 164h1M271.5 164.5h1M271.5 165h1M271.5 166h1M271.5 167.5h1M271.5 168h1M271.5 168.5h1M271.5 169h1M271.5 170h1M271.5 170.5h1M271.5 171h1M271.5 172h1M271.5 173.5h1M271.5 176h1M271.5 177h1M271.5 178h1M271.5 184.5h1M271.5 189h1M272 52h1M272 54.5h1M272 55h1M272 56h1M272 59h1M272 59.5h1M272 60.5h1M272 61h1M272 61.5h1M272 62h1M272 62.5h1M272 63h1M272 63.5h1M272 64h1M272 64.5h1M272 65h1M272 65.5h1M272 66h1M272 66.5h1M272 67h1M272 67.5h1M272 68h1M272 68.5h1M272 69h1M272 69.5h1M272 70h1M272 70.5h1M272 71h1M272 71.5h1M272 72h1M272 72.5h1M272 73h1M272 73.5h1M272 74h1M272 74.5h1M272 75h1M272 75.5h1M272 76h1M272 76.5h1M272 77h1M272 77.5h1M272 78h1M272 78.5h1M272 79h1M272 79.5h1M272 80h1M272 80.5h1M272 81h1M272 81.5h1M272 82.5h1M272 83h1M272 84h1M272 84.5h1M272 85h1M272 86h1M272 86.5h1M272 87h1M272 87.5h1M272 88.5h1M272 90h1M272 92h1M272 94.5h1M272 97.5h1M272 106h1M272 107h1M272 118h1M272 119.5h1M272 121.5h1M272 128.5h1M272 156.5h1M272 159.5h1M272 160.5h1M272 161h1M272 161.5h1M272 162.5h1M272 163.5h1M272 164h1M272 166h1M272 166.5h1M272 167h1M272 167.5h1M272 168.5h1M272 169.5h1M272 172.5h1M272 173h1M272 173.5h1M272 174h1M272 175h1M272 176h1M272 177h1M272 177.5h1M272 178h1M272 183h1M272.5 54.5h1M272.5 55.5h1M272.5 57.5h1M272.5 58h1M272.5 58.5h1M272.5 59h1M272.5 60h1M272.5 60.5h1M272.5 61h1M272.5 61.5h1M272.5 62h1M272.5 62.5h1M272.5 63h1M272.5 63.5h1M272.5 64h1M272.5 64.5h1M272.5 65h1M272.5 65.5h1M272.5 66h1M272.5 66.5h1M272.5 67h1M272.5 67.5h1M272.5 68h1M272.5 68.5h1M272.5 69h1M272.5 69.5h1M272.5 70h1M272.5 70.5h1M272.5 71h1M272.5 71.5h1M272.5 72h1M272.5 72.5h1M272.5 73h1M272.5 73.5h1M272.5 74h1M272.5 74.5h1M272.5 75h1M272.5 75.5h1M272.5 76h1M272.5 76.5h1M272.5 77h1M272.5 77.5h1M272.5 78h1M272.5 78.5h1M272.5 79h1M272.5 79.5h1M272.5 80h1M272.5 81h1M272.5 81.5h1M272.5 82h1M272.5 82.5h1M272.5 83h1M272.5 84h1M272.5 84.5h1M272.5 85.5h1M272.5 86h1M272.5 87h1M272.5 100.5h1M272.5 111.5h1M272.5 117.5h1M272.5 120h1M272.5 161.5h1M272.5 162.5h1M272.5 163.5h1M272.5 164h1M272.5 164.5h1M272.5 165h1M272.5 165.5h1M272.5 167h1M272.5 167.5h1M272.5 168h1M272.5 168.5h1M272.5 170h1M272.5 170.5h1M272.5 171h1M272.5 171.5h1M272.5 172h1M272.5 172.5h1M272.5 174h1M272.5 180h1M272.5 181h1M272.5 181.5h1M273 49h1M273 56h1M273 57.5h1M273 58h1M273 58.5h1M273 59h1M273 61h1M273 62h1M273 62.5h1M273 63h1M273 63.5h1M273 64.5h1M273 65h1M273 66h1M273 66.5h1M273 67h1M273 67.5h1M273 68h1M273 68.5h1M273 69h1M273 69.5h1M273 70h1M273 70.5h1M273 71h1M273 71.5h1M273 72h1M273 72.5h1M273 73h1M273 73.5h1M273 74h1M273 74.5h1M273 75h1M273 75.5h1M273 76h1M273 76.5h1M273 77h1M273 77.5h1M273 78h1M273 78.5h1M273 79h1M273 79.5h1M273 80.5h1M273 81h1M273 81.5h1M273 82h1M273 83.5h1M273 84.5h1M273 85.5h1M273 86h1M273 86.5h1M273 88h1M273 88.5h1M273 91h1M273 91.5h1M273 108.5h1M273 115h1M273 118h1M273 129.5h1M273 144.5h1M273 148.5h1M273 153.5h1M273 156.5h1M273 159h1M273 160.5h1M273 161h1M273 162.5h1M273 163h1M273 164h1M273 169.5h1M273 170h1M273 170.5h1M273 171h1M273 171.5h1M273 172h1M273 173.5h1M273 174h1M273 175h1M273 175.5h1M273 176.5h1M273 178.5h1M273 179h1M273 180h1M273 182.5h1M273 190.5h1M273.5 47.5h1M273.5 51.5h1M273.5 52.5h1M273.5 55h1M273.5 56h1M273.5 57.5h1M273.5 58.5h1M273.5 59.5h1M273.5 61h1M273.5 62.5h1M273.5 63h1M273.5 63.5h1M273.5 64h1M273.5 64.5h1M273.5 65h1M273.5 65.5h1M273.5 66h1M273.5 66.5h1M273.5 67h1M273.5 67.5h1M273.5 68h1M273.5 68.5h1M273.5 69h1M273.5 69.5h1M273.5 70h1M273.5 70.5h1M273.5 71h1M273.5 71.5h1M273.5 72h1M273.5 72.5h1M273.5 73h1M273.5 73.5h1M273.5 74h1M273.5 74.5h1M273.5 75h1M273.5 75.5h1M273.5 76h1M273.5 76.5h1M273.5 77h1M273.5 77.5h1M273.5 78h1M273.5 78.5h1M273.5 79h1M273.5 79.5h1M273.5 80h1M273.5 80.5h1M273.5 81h1M273.5 81.5h1M273.5 82h1M273.5 83h1M273.5 83.5h1M273.5 84h1M273.5 85.5h1M273.5 87.5h1M273.5 88h1M273.5 88.5h1M273.5 89h1M273.5 91h1M273.5 92h1M273.5 102h1M273.5 112h1M273.5 160.5h1M273.5 162h1M273.5 162.5h1M273.5 163h1M273.5 165h1M273.5 165.5h1M273.5 166h1M273.5 167h1M273.5 168h1M273.5 168.5h1M273.5 169h1M273.5 169.5h1M273.5 170.5h1M273.5 171.5h1M273.5 172h1M273.5 172.5h1M273.5 173h1M273.5 173.5h1M273.5 174h1M273.5 174.5h1M273.5 175h1M273.5 175.5h1M273.5 176h1M273.5 178.5h1M273.5 179h1M273.5 180h1M273.5 182.5h1M273.5 193h1M274 55.5h1M274 58h1M274 59.5h1M274 60h1M274 61.5h1M274 62.5h1M274 63h1M274 64h1M274 64.5h1M274 65h1M274 65.5h1M274 66h1M274 66.5h1M274 67h1M274 67.5h1M274 68h1M274 68.5h1M274 69h1M274 69.5h1M274 70h1M274 70.5h1M274 71h1M274 71.5h1M274 72h1M274 72.5h1M274 73h1M274 73.5h1M274 74h1M274 74.5h1M274 75h1M274 75.5h1M274 76h1M274 76.5h1M274 77h1M274 77.5h1M274 78h1M274 78.5h1M274 79h1M274 79.5h1M274 80h1M274 80.5h1M274 81h1M274 81.5h1M274 82h1M274 83h1M274 85h1M274 87.5h1M274 88.5h1M274 92.5h1M274 93.5h1M274 104.5h1M274 148h1M274 148.5h1M274 156.5h1M274 158.5h1M274 160h1M274 161h1M274 161.5h1M274 162h1M274 163h1M274 164h1M274 165h1M274 166h1M274 166.5h1M274 168h1M274 168.5h1M274 169h1M274 170h1M274 170.5h1M274 171h1M274 171.5h1M274 172h1M274 172.5h1M274 173h1M274 173.5h1M274 174h1M274 174.5h1M274 175.5h1M274 176h1M274 177.5h1M274 179h1M274 181h1M274 181.5h1M274 183.5h1M274.5 53h1M274.5 53.5h1M274.5 55h1M274.5 56.5h1M274.5 58.5h1M274.5 60h1M274.5 60.5h1M274.5 61h1M274.5 61.5h1M274.5 62h1M274.5 64h1M274.5 65h1M274.5 65.5h1M274.5 66h1M274.5 66.5h1M274.5 67h1M274.5 67.5h1M274.5 68h1M274.5 68.5h1M274.5 69h1M274.5 69.5h1M274.5 70h1M274.5 70.5h1M274.5 71h1M274.5 71.5h1M274.5 72h1M274.5 72.5h1M274.5 73h1M274.5 73.5h1M274.5 74h1M274.5 74.5h1M274.5 75h1M274.5 75.5h1M274.5 76h1M274.5 76.5h1M274.5 77h1M274.5 77.5h1M274.5 78h1M274.5 78.5h1M274.5 79h1M274.5 79.5h1M274.5 80h1M274.5 81h1M274.5 81.5h1M274.5 82h1M274.5 82.5h1M274.5 83h1M274.5 83.5h1M274.5 84.5h1M274.5 85h1M274.5 86h1M274.5 87h1M274.5 87.5h1M274.5 88h1M274.5 92.5h1M274.5 101h1M274.5 107h1M274.5 161h1M274.5 161.5h1M274.5 163.5h1M274.5 164h1M274.5 164.5h1M274.5 165h1M274.5 165.5h1M274.5 166h1M274.5 166.5h1M274.5 167h1M274.5 168h1M274.5 168.5h1M274.5 169.5h1M274.5 170h1M274.5 171h1M274.5 171.5h1M274.5 172h1M274.5 172.5h1M274.5 173h1M274.5 173.5h1M274.5 175h1M274.5 175.5h1M274.5 176.5h1M274.5 177.5h1M274.5 178.5h1M274.5 179h1M274.5 181.5h1M275 55.5h1M275 56h1M275 59h1M275 59.5h1M275 60h1M275 61h1M275 61.5h1M275 62h1M275 62.5h1M275 63.5h1M275 64h1M275 64.5h1M275 65h1M275 65.5h1M275 66.5h1M275 67h1M275 67.5h1M275 68h1M275 68.5h1M275 69h1M275 69.5h1M275 70h1M275 70.5h1M275 71h1M275 71.5h1M275 72h1M275 72.5h1M275 73h1M275 73.5h1M275 74h1M275 74.5h1M275 75h1M275 75.5h1M275 76h1M275 76.5h1M275 77h1M275 77.5h1M275 78h1M275 79h1M275 80h1M275 80.5h1M275 81h1M275 81.5h1M275 84h1M275 86.5h1M275 89h1M275 90h1M275 96.5h1M275 97.5h1M275 110.5h1M275 154.5h1M275 158h1M275 158.5h1M275 159.5h1M275 160h1M275 160.5h1M275 161.5h1M275 162h1M275 165h1M275 165.5h1M275 166h1M275 166.5h1M275 167h1M275 167.5h1M275 168h1M275 169h1M275 169.5h1M275 170h1M275 170.5h1M275 171h1M275 172h1M275 172.5h1M275 173h1M275 174.5h1M275 176.5h1M275 177.5h1M275 178.5h1M275 181.5h1M275.5 58h1M275.5 59h1M275.5 61h1M275.5 62h1M275.5 62.5h1M275.5 63.5h1M275.5 64h1M275.5 64.5h1M275.5 65h1M275.5 66h1M275.5 66.5h1M275.5 67h1M275.5 67.5h1M275.5 68h1M275.5 68.5h1M275.5 69h1M275.5 69.5h1M275.5 70h1M275.5 70.5h1M275.5 71h1M275.5 71.5h1M275.5 72h1M275.5 72.5h1M275.5 73h1M275.5 73.5h1M275.5 74h1M275.5 74.5h1M275.5 75h1M275.5 75.5h1M275.5 76h1M275.5 76.5h1M275.5 77h1M275.5 77.5h1M275.5 78h1M275.5 78.5h1M275.5 79h1M275.5 79.5h1M275.5 80h1M275.5 80.5h1M275.5 82h1M275.5 82.5h1M275.5 83h1M275.5 84h1M275.5 86.5h1M275.5 88.5h1M275.5 89.5h1M275.5 96.5h1M275.5 123.5h1M275.5 151h1M275.5 154h1M275.5 157.5h1M275.5 159h1M275.5 160h1M275.5 161h1M275.5 161.5h1M275.5 162.5h1M275.5 163.5h1M275.5 164h1M275.5 164.5h1M275.5 165h1M275.5 165.5h1M275.5 166h1M275.5 166.5h1M275.5 167h1M275.5 167.5h1M275.5 168.5h1M275.5 169h1M275.5 169.5h1M275.5 170h1M275.5 170.5h1M275.5 171h1M275.5 171.5h1M275.5 172.5h1M275.5 173h1M275.5 174h1M275.5 174.5h1M275.5 175.5h1M275.5 176h1M275.5 176.5h1M275.5 181h1M275.5 182.5h1M275.5 183.5h1M276 56.5h1M276 58.5h1M276 59h1M276 59.5h1M276 60h1M276 60.5h1M276 61h1M276 61.5h1M276 62h1M276 63h1M276 63.5h1M276 64h1M276 64.5h1M276 65h1M276 66h1M276 66.5h1M276 67h1M276 67.5h1M276 68h1M276 68.5h1M276 69h1M276 69.5h1M276 70h1M276 70.5h1M276 71h1M276 72h1M276 72.5h1M276 73h1M276 73.5h1M276 74h1M276 74.5h1M276 75h1M276 75.5h1M276 76h1M276 76.5h1M276 77h1M276 78h1M276 78.5h1M276 79.5h1M276 80.5h1M276 81.5h1M276 82h1M276 82.5h1M276 83h1M276 84h1M276 84.5h1M276 88.5h1M276 92.5h1M276 93h1M276 94.5h1M276 103h1M276 107.5h1M276 112.5h1M276 137.5h1M276 155h1M276 158h1M276 160h1M276 162h1M276 163h1M276 164.5h1M276 165.5h1M276 166h1M276 166.5h1M276 167h1M276 167.5h1M276 168h1M276 168.5h1M276 170h1M276 170.5h1M276 171h1M276 172h1M276 172.5h1M276 173.5h1M276 177h1M276 177.5h1M276 179.5h1M276 180.5h1M276.5 54h1M276.5 58.5h1M276.5 59h1M276.5 59.5h1M276.5 60h1M276.5 61h1M276.5 61.5h1M276.5 62h1M276.5 62.5h1M276.5 63h1M276.5 63.5h1M276.5 64.5h1M276.5 65h1M276.5 65.5h1M276.5 66h1M276.5 66.5h1M276.5 67h1M276.5 67.5h1M276.5 68h1M276.5 68.5h1M276.5 69h1M276.5 69.5h1M276.5 70h1M276.5 70.5h1M276.5 71h1M276.5 71.5h1M276.5 72h1M276.5 72.5h1M276.5 73h1M276.5 73.5h1M276.5 74h1M276.5 74.5h1M276.5 75h1M276.5 76h1M276.5 76.5h1M276.5 77h1M276.5 77.5h1M276.5 78h1M276.5 78.5h1M276.5 79h1M276.5 79.5h1M276.5 80h1M276.5 80.5h1M276.5 81h1M276.5 81.5h1M276.5 83h1M276.5 85.5h1M276.5 86.5h1M276.5 88h1M276.5 91h1M276.5 91.5h1M276.5 95.5h1M276.5 110h1M276.5 111h1M276.5 122h1M276.5 151.5h1M276.5 153h1M276.5 161h1M276.5 162.5h1M276.5 163h1M276.5 164.5h1M276.5 165h1M276.5 166h1M276.5 167h1M276.5 168h1M276.5 168.5h1M276.5 169h1M276.5 169.5h1M276.5 170h1M276.5 170.5h1M276.5 171h1M276.5 171.5h1M276.5 172h1M276.5 172.5h1M276.5 173h1M276.5 173.5h1M276.5 174h1M276.5 174.5h1M276.5 175.5h1M276.5 176h1M276.5 176.5h1M276.5 177h1M276.5 178.5h1M276.5 179.5h1M276.5 181.5h1M276.5 182h1M276.5 182.5h1M277 54.5h1M277 55.5h1M277 56.5h1M277 57.5h1M277 58h1M277 58.5h1M277 61h1M277 61.5h1M277 62h1M277 63h1M277 63.5h1M277 64h1M277 64.5h1M277 65h1M277 65.5h1M277 66h1M277 66.5h1M277 67h1M277 67.5h1M277 68h1M277 68.5h1M277 69h1M277 69.5h1M277 70h1M277 70.5h1M277 71h1M277 71.5h1M277 72h1M277 72.5h1M277 73h1M277 73.5h1M277 74h1M277 74.5h1M277 75h1M277 75.5h1M277 76h1M277 76.5h1M277 77h1M277 77.5h1M277 78h1M277 78.5h1M277 79h1M277 79.5h1M277 80h1M277 80.5h1M277 81h1M277 81.5h1M277 82h1M277 82.5h1M277 83h1M277 84h1M277 84.5h1M277 85h1M277 85.5h1M277 87.5h1M277 92.5h1M277 94h1M277 157h1M277 159.5h1M277 160h1M277 160.5h1M277 161.5h1M277 162h1M277 162.5h1M277 163h1M277 163.5h1M277 164.5h1M277 165h1M277 165.5h1M277 166h1M277 167.5h1M277 168h1M277 168.5h1M277 169h1M277 169.5h1M277 170h1M277 171h1M277 172h1M277 172.5h1M277 173h1M277 173.5h1M277 174h1M277 174.5h1M277 175h1M277 176.5h1M277 191h1M277 193.5h1M277.5 53h1M277.5 54.5h1M277.5 56.5h1M277.5 57h1M277.5 57.5h1M277.5 58h1M277.5 59.5h1M277.5 60h1M277.5 60.5h1M277.5 61h1M277.5 62h1M277.5 63h1M277.5 64h1M277.5 64.5h1M277.5 65h1M277.5 66h1M277.5 66.5h1M277.5 67h1M277.5 67.5h1M277.5 68h1M277.5 69h1M277.5 69.5h1M277.5 70h1M277.5 70.5h1M277.5 71h1M277.5 71.5h1M277.5 72h1M277.5 72.5h1M277.5 73h1M277.5 73.5h1M277.5 74h1M277.5 74.5h1M277.5 75h1M277.5 75.5h1M277.5 76h1M277.5 76.5h1M277.5 77h1M277.5 78h1M277.5 78.5h1M277.5 79h1M277.5 79.5h1M277.5 80h1M277.5 80.5h1M277.5 81h1M277.5 81.5h1M277.5 82h1M277.5 82.5h1M277.5 83h1M277.5 83.5h1M277.5 84h1M277.5 86h1M277.5 94.5h1M277.5 101h1M277.5 106.5h1M277.5 109h1M277.5 114h1M277.5 143.5h1M277.5 153.5h1M277.5 157.5h1M277.5 161h1M277.5 162.5h1M277.5 163h1M277.5 163.5h1M277.5 164h1M277.5 165h1M277.5 165.5h1M277.5 166h1M277.5 166.5h1M277.5 167h1M277.5 167.5h1M277.5 168h1M277.5 169h1M277.5 169.5h1M277.5 170h1M277.5 170.5h1M277.5 171h1M277.5 171.5h1M277.5 172.5h1M277.5 173h1M277.5 173.5h1M277.5 174h1M277.5 174.5h1M277.5 175h1M277.5 176h1M277.5 177.5h1M277.5 178h1M277.5 180.5h1M277.5 182h1M277.5 182.5h1M278 56h1M278 58h1M278 59h1M278 59.5h1M278 60h1M278 60.5h1M278 61h1M278 61.5h1M278 62h1M278 62.5h1M278 64h1M278 64.5h1M278 65h1M278 65.5h1M278 66h1M278 66.5h1M278 67h1M278 67.5h1M278 68h1M278 68.5h1M278 69h1M278 69.5h1M278 70h1M278 70.5h1M278 71h1M278 71.5h1M278 72h1M278 73h1M278 73.5h1M278 74h1M278 74.5h1M278 75h1M278 75.5h1M278 76h1M278 76.5h1M278 77h1M278 77.5h1M278 78h1M278 78.5h1M278 79h1M278 79.5h1M278 80.5h1M278 81h1M278 81.5h1M278 82h1M278 82.5h1M278 83h1M278 84h1M278 86h1M278 88h1M278 90h1M278 90.5h1M278 91h1M278 92h1M278 112.5h1M278 129h1M278 140h1M278 145.5h1M278 158.5h1M278 159h1M278 163.5h1M278 164h1M278 164.5h1M278 165h1M278 166h1M278 167h1M278 167.5h1M278 168h1M278 168.5h1M278 170.5h1M278 171h1M278 172.5h1M278 173h1M278 173.5h1M278 174h1M278 175h1M278 176h1M278 176.5h1M278 177h1M278 179.5h1M278 188h1M278 191.5h1M278.5 56.5h1M278.5 57.5h1M278.5 58h1M278.5 58.5h1M278.5 59.5h1M278.5 60h1M278.5 60.5h1M278.5 61h1M278.5 62.5h1M278.5 63h1M278.5 63.5h1M278.5 64h1M278.5 64.5h1M278.5 65h1M278.5 65.5h1M278.5 66h1M278.5 66.5h1M278.5 67h1M278.5 67.5h1M278.5 68h1M278.5 68.5h1M278.5 69h1M278.5 69.5h1M278.5 70h1M278.5 70.5h1M278.5 71h1M278.5 71.5h1M278.5 72h1M278.5 72.5h1M278.5 73h1M278.5 73.5h1M278.5 74h1M278.5 74.5h1M278.5 75h1M278.5 75.5h1M278.5 76h1M278.5 77h1M278.5 77.5h1M278.5 78h1M278.5 78.5h1M278.5 79h1M278.5 80h1M278.5 80.5h1M278.5 81h1M278.5 81.5h1M278.5 82h1M278.5 85h1M278.5 85.5h1M278.5 86.5h1M278.5 100.5h1M278.5 107.5h1M278.5 108.5h1M278.5 148.5h1M278.5 155h1M278.5 159h1M278.5 160h1M278.5 161h1M278.5 163h1M278.5 163.5h1M278.5 164.5h1M278.5 165h1M278.5 165.5h1M278.5 166h1M278.5 166.5h1M278.5 167h1M278.5 167.5h1M278.5 169.5h1M278.5 170h1M278.5 170.5h1M278.5 171h1M278.5 172h1M278.5 173h1M278.5 173.5h1M278.5 174h1M278.5 174.5h1M278.5 176.5h1M278.5 177.5h1M278.5 178h1M278.5 183h1M278.5 192h1M279 50.5h1M279 53h1M279 54h1M279 55h1M279 56h1M279 57.5h1M279 58h1M279 58.5h1M279 59.5h1M279 60h1M279 60.5h1M279 61h1M279 61.5h1M279 63h1M279 63.5h1M279 64h1M279 65h1M279 65.5h1M279 66h1M279 66.5h1M279 67h1M279 67.5h1M279 68h1M279 68.5h1M279 69h1M279 69.5h1M279 70h1M279 70.5h1M279 71h1M279 71.5h1M279 72h1M279 72.5h1M279 73h1M279 73.5h1M279 74h1M279 74.5h1M279 75h1M279 75.5h1M279 76h1M279 76.5h1M279 77h1M279 77.5h1M279 78h1M279 78.5h1M279 79h1M279 79.5h1M279 80h1M279 80.5h1M279 81.5h1M279 82h1M279 83.5h1M279 84.5h1M279 85.5h1M279 86h1M279 87.5h1M279 89.5h1M279 95h1M279 157h1M279 160h1M279 162h1M279 162.5h1M279 163.5h1M279 164h1M279 165h1M279 165.5h1M279 166h1M279 167h1M279 168.5h1M279 169h1M279 169.5h1M279 170h1M279 171h1M279 171.5h1M279 172h1M279 172.5h1M279 173h1M279 174h1M279 174.5h1M279 175h1M279 175.5h1M279 176h1M279 176.5h1M279 177h1M279 178h1M279 179.5h1M279 180h1M279 186h1M279 186.5h1M279.5 50h1M279.5 53h1M279.5 53.5h1M279.5 56h1M279.5 58h1M279.5 59h1M279.5 59.5h1M279.5 60h1M279.5 61h1M279.5 62h1M279.5 63h1M279.5 63.5h1M279.5 64h1M279.5 64.5h1M279.5 65h1M279.5 65.5h1M279.5 66h1M279.5 66.5h1M279.5 67h1M279.5 67.5h1M279.5 68h1M279.5 68.5h1M279.5 69h1M279.5 69.5h1M279.5 70h1M279.5 70.5h1M279.5 71h1M279.5 71.5h1M279.5 72h1M279.5 72.5h1M279.5 73h1M279.5 73.5h1M279.5 74h1M279.5 74.5h1M279.5 75h1M279.5 75.5h1M279.5 76h1M279.5 76.5h1M279.5 77h1M279.5 77.5h1M279.5 78h1M279.5 78.5h1M279.5 79h1M279.5 79.5h1M279.5 80h1M279.5 80.5h1M279.5 81h1M279.5 81.5h1M279.5 82h1M279.5 83h1M279.5 83.5h1M279.5 84h1M279.5 84.5h1M279.5 85h1M279.5 88.5h1M279.5 116h1M279.5 159.5h1M279.5 161h1M279.5 161.5h1M279.5 163.5h1M279.5 165.5h1M279.5 166h1M279.5 166.5h1M279.5 167h1M279.5 167.5h1M279.5 168h1M279.5 168.5h1M279.5 169h1M279.5 170h1M279.5 171h1M279.5 171.5h1M279.5 172h1M279.5 172.5h1M279.5 174h1M279.5 174.5h1M279.5 175h1M279.5 175.5h1M279.5 176h1M279.5 176.5h1M279.5 178h1M279.5 190.5h1M280 54.5h1M280 56.5h1M280 58h1M280 58.5h1M280 59.5h1M280 60.5h1M280 61.5h1M280 62h1M280 62.5h1M280 63h1M280 63.5h1M280 64h1M280 64.5h1M280 65h1M280 66h1M280 66.5h1M280 67h1M280 67.5h1M280 68h1M280 69.5h1M280 70h1M280 70.5h1M280 71.5h1M280 72h1M280 72.5h1M280 73h1M280 73.5h1M280 74h1M280 74.5h1M280 75h1M280 75.5h1M280 76h1M280 76.5h1M280 77h1M280 78h1M280 78.5h1M280 79h1M280 79.5h1M280 80h1M280 80.5h1M280 81h1M280 81.5h1M280 82h1M280 82.5h1M280 83h1M280 84h1M280 86.5h1M280 96h1M280 101.5h1M280 106.5h1M280 109h1M280 124.5h1M280 135h1M280 142.5h1M280 146h1M280 153.5h1M280 157h1M280 159.5h1M280 160h1M280 161h1M280 162h1M280 164h1M280 165h1M280 165.5h1M280 166.5h1M280 167h1M280 167.5h1M280 168h1M280 168.5h1M280 169h1M280 170h1M280 172.5h1M280 173h1M280 173.5h1M280 174.5h1M280 175h1M280 176h1M280 176.5h1M280 177.5h1M280 178h1M280 181h1M280 185.5h1M280 187.5h1M280.5 48.5h1M280.5 51.5h1M280.5 54h1M280.5 55h1M280.5 57.5h1M280.5 58h1M280.5 58.5h1M280.5 59h1M280.5 60h1M280.5 62h1M280.5 62.5h1M280.5 63h1M280.5 63.5h1M280.5 64h1M280.5 65h1M280.5 65.5h1M280.5 66h1M280.5 67.5h1M280.5 68h1M280.5 68.5h1M280.5 69h1M280.5 69.5h1M280.5 70h1M280.5 70.5h1M280.5 71h1M280.5 71.5h1M280.5 72h1M280.5 72.5h1M280.5 73.5h1M280.5 74h1M280.5 74.5h1M280.5 75h1M280.5 75.5h1M280.5 76h1M280.5 77h1M280.5 77.5h1M280.5 78h1M280.5 79h1M280.5 79.5h1M280.5 80h1M280.5 81.5h1M280.5 82h1M280.5 83h1M280.5 84.5h1M280.5 85h1M280.5 85.5h1M280.5 86h1M280.5 87.5h1M280.5 99h1M280.5 108h1M280.5 117.5h1M280.5 157h1M280.5 158.5h1M280.5 159.5h1M280.5 160.5h1M280.5 161.5h1M280.5 165h1M280.5 166h1M280.5 167.5h1M280.5 168.5h1M280.5 169h1M280.5 170h1M280.5 170.5h1M280.5 171h1M280.5 171.5h1M280.5 172h1M280.5 172.5h1M280.5 173h1M280.5 173.5h1M280.5 174h1M280.5 174.5h1M280.5 175h1M280.5 178h1M280.5 178.5h1M280.5 179.5h1M280.5 185h1M280.5 186.5h1M280.5 189.5h1M280.5 194h1M281 55h1M281 56.5h1M281 57h1M281 58h1M281 59h1M281 59.5h1M281 60.5h1M281 61h1M281 61.5h1M281 62h1M281 62.5h1M281 63h1M281 63.5h1M281 64h1M281 64.5h1M281 65h1M281 66h1M281 67h1M281 67.5h1M281 68.5h1M281 69h1M281 69.5h1M281 70h1M281 70.5h1M281 71h1M281 71.5h1M281 72h1M281 72.5h1M281 73h1M281 74h1M281 74.5h1M281 75.5h1M281 76.5h1M281 77h1M281 77.5h1M281 78h1M281 78.5h1M281 79h1M281 80h1M281 80.5h1M281 81h1M281 82h1M281 82.5h1M281 83h1M281 85.5h1M281 118h1M281 142.5h1M281 153.5h1M281 156.5h1M281 159.5h1M281 160h1M281 163.5h1M281 164.5h1M281 165h1M281 166.5h1M281 168h1M281 168.5h1M281 169h1M281 169.5h1M281 170h1M281 172h1M281 172.5h1M281 173h1M281 174.5h1M281 175.5h1M281 176h1M281 176.5h1M281.5 51.5h1M281.5 55h1M281.5 57.5h1M281.5 59h1M281.5 59.5h1M281.5 60h1M281.5 60.5h1M281.5 61h1M281.5 61.5h1M281.5 62h1M281.5 63h1M281.5 64h1M281.5 64.5h1M281.5 65h1M281.5 65.5h1M281.5 66.5h1M281.5 67.5h1M281.5 68h1M281.5 68.5h1M281.5 69h1M281.5 69.5h1M281.5 70h1M281.5 70.5h1M281.5 71h1M281.5 72h1M281.5 72.5h1M281.5 73h1M281.5 73.5h1M281.5 74h1M281.5 74.5h1M281.5 75h1M281.5 75.5h1M281.5 76h1M281.5 76.5h1M281.5 77h1M281.5 77.5h1M281.5 78h1M281.5 79h1M281.5 79.5h1M281.5 80.5h1M281.5 81h1M281.5 81.5h1M281.5 82h1M281.5 84.5h1M281.5 86h1M281.5 88h1M281.5 91.5h1M281.5 96h1M281.5 108h1M281.5 159.5h1M281.5 162h1M281.5 163h1M281.5 163.5h1M281.5 164h1M281.5 164.5h1M281.5 165h1M281.5 166h1M281.5 166.5h1M281.5 167h1M281.5 167.5h1M281.5 168.5h1M281.5 169h1M281.5 169.5h1M281.5 170h1M281.5 170.5h1M281.5 171h1M281.5 171.5h1M281.5 172h1M281.5 172.5h1M281.5 173h1M281.5 174.5h1M281.5 175h1M281.5 176.5h1M281.5 177.5h1M282 51h1M282 54h1M282 56.5h1M282 58h1M282 58.5h1M282 59h1M282 59.5h1M282 60h1M282 60.5h1M282 61.5h1M282 62h1M282 62.5h1M282 63h1M282 63.5h1M282 64.5h1M282 65h1M282 65.5h1M282 66h1M282 66.5h1M282 67h1M282 67.5h1M282 68h1M282 68.5h1M282 69h1M282 69.5h1M282 70h1M282 70.5h1M282 71h1M282 71.5h1M282 72.5h1M282 73h1M282 74h1M282 74.5h1M282 75h1M282 75.5h1M282 76h1M282 76.5h1M282 77h1M282 77.5h1M282 78h1M282 78.5h1M282 79h1M282 79.5h1M282 80h1M282 80.5h1M282 81h1M282 83.5h1M282 84h1M282 86h1M282 91h1M282 96.5h1M282 155.5h1M282 157.5h1M282 158h1M282 159h1M282 161.5h1M282 163h1M282 164h1M282 165h1M282 166h1M282 167h1M282 167.5h1M282 168.5h1M282 169h1M282 169.5h1M282 170h1M282 171.5h1M282 172h1M282 172.5h1M282 173h1M282 173.5h1M282 176h1M282 177.5h1M282 178h1M282 178.5h1M282 180h1M282 181.5h1M282 182h1M282 182.5h1M282 186.5h1M282.5 51.5h1M282.5 53h1M282.5 54.5h1M282.5 55.5h1M282.5 56h1M282.5 57.5h1M282.5 58h1M282.5 58.5h1M282.5 59h1M282.5 61.5h1M282.5 63h1M282.5 63.5h1M282.5 65h1M282.5 65.5h1M282.5 66h1M282.5 66.5h1M282.5 67.5h1M282.5 68h1M282.5 68.5h1M282.5 69h1M282.5 69.5h1M282.5 70h1M282.5 70.5h1M282.5 71h1M282.5 71.5h1M282.5 72h1M282.5 72.5h1M282.5 73h1M282.5 74h1M282.5 74.5h1M282.5 75h1M282.5 75.5h1M282.5 76h1M282.5 76.5h1M282.5 77.5h1M282.5 78h1M282.5 79h1M282.5 81.5h1M282.5 83h1M282.5 83.5h1M282.5 88.5h1M282.5 89h1M282.5 92.5h1M282.5 97h1M282.5 97.5h1M282.5 98h1M282.5 99h1M282.5 101.5h1M282.5 115.5h1M282.5 129.5h1M282.5 157.5h1M282.5 158.5h1M282.5 159h1M282.5 161.5h1M282.5 164h1M282.5 164.5h1M282.5 165h1M282.5 165.5h1M282.5 166h1M282.5 166.5h1M282.5 167h1M282.5 167.5h1M282.5 168h1M282.5 169h1M282.5 169.5h1M282.5 170h1M282.5 170.5h1M282.5 171h1M282.5 171.5h1M282.5 172.5h1M282.5 173.5h1M282.5 174h1M282.5 177h1M282.5 177.5h1M282.5 178h1M282.5 178.5h1M282.5 179h1M282.5 180.5h1M282.5 184h1M282.5 186h1M283 50h1M283 54.5h1M283 58.5h1M283 59.5h1M283 60h1M283 60.5h1M283 61h1M283 62h1M283 63h1M283 63.5h1M283 64h1M283 64.5h1M283 65h1M283 65.5h1M283 66h1M283 66.5h1M283 67h1M283 67.5h1M283 68h1M283 68.5h1M283 69.5h1M283 70h1M283 70.5h1M283 71.5h1M283 72h1M283 73h1M283 73.5h1M283 74h1M283 74.5h1M283 75h1M283 75.5h1M283 76h1M283 76.5h1M283 77h1M283 77.5h1M283 78h1M283 78.5h1M283 79h1M283 79.5h1M283 80.5h1M283 81.5h1M283 84h1M283 85.5h1M283 107.5h1M283 115.5h1M283 140h1M283 150.5h1M283 157.5h1M283 161h1M283 162.5h1M283 163h1M283 163.5h1M283 164h1M283 166h1M283 168.5h1M283 170h1M283 171h1M283 171.5h1M283 174h1M283 175h1M283 176h1M283 180h1M283 180.5h1M283.5 53.5h1M283.5 56h1M283.5 57h1M283.5 59h1M283.5 60h1M283.5 60.5h1M283.5 61.5h1M283.5 62h1M283.5 62.5h1M283.5 63h1M283.5 63.5h1M283.5 64h1M283.5 64.5h1M283.5 65h1M283.5 65.5h1M283.5 66h1M283.5 66.5h1M283.5 67h1M283.5 67.5h1M283.5 68h1M283.5 69.5h1M283.5 70h1M283.5 71h1M283.5 71.5h1M283.5 72h1M283.5 72.5h1M283.5 73.5h1M283.5 74h1M283.5 74.5h1M283.5 75.5h1M283.5 76h1M283.5 77h1M283.5 77.5h1M283.5 78h1M283.5 78.5h1M283.5 79h1M283.5 80h1M283.5 80.5h1M283.5 83.5h1M283.5 84h1M283.5 98h1M283.5 100h1M283.5 154.5h1M283.5 156h1M283.5 159.5h1M283.5 160.5h1M283.5 162h1M283.5 162.5h1M283.5 163.5h1M283.5 165h1M283.5 165.5h1M283.5 166h1M283.5 167h1M283.5 167.5h1M283.5 169h1M283.5 169.5h1M283.5 170.5h1M283.5 173.5h1M283.5 174h1M283.5 176h1M283.5 178h1M283.5 178.5h1M283.5 179h1M283.5 181h1M284 57h1M284 57.5h1M284 58h1M284 62h1M284 62.5h1M284 63h1M284 63.5h1M284 64h1M284 64.5h1M284 65h1M284 66h1M284 66.5h1M284 67h1M284 68h1M284 68.5h1M284 69h1M284 69.5h1M284 70h1M284 70.5h1M284 71h1M284 72h1M284 72.5h1M284 73h1M284 73.5h1M284 74h1M284 74.5h1M284 75h1M284 75.5h1M284 76h1M284 77.5h1M284 78h1M284 78.5h1M284 79h1M284 80.5h1M284 81.5h1M284 82h1M284 82.5h1M284 89h1M284 91h1M284 155h1M284 157h1M284 160.5h1M284 161h1M284 162h1M284 163h1M284 165h1M284 166h1M284 166.5h1M284 167.5h1M284 168h1M284 168.5h1M284 169.5h1M284 170.5h1M284 171h1M284 174h1M284 175.5h1M284 176h1M284 178.5h1M284 183.5h1M284.5 50.5h1M284.5 54.5h1M284.5 58h1M284.5 58.5h1M284.5 60h1M284.5 60.5h1M284.5 62h1M284.5 62.5h1M284.5 63h1M284.5 63.5h1M284.5 64h1M284.5 64.5h1M284.5 65.5h1M284.5 66h1M284.5 66.5h1M284.5 67h1M284.5 68h1M284.5 68.5h1M284.5 69.5h1M284.5 70h1M284.5 70.5h1M284.5 71h1M284.5 72h1M284.5 72.5h1M284.5 73h1M284.5 73.5h1M284.5 74h1M284.5 74.5h1M284.5 75.5h1M284.5 76h1M284.5 76.5h1M284.5 77h1M284.5 78h1M284.5 78.5h1M284.5 80h1M284.5 82h1M284.5 84.5h1M284.5 91h1M284.5 101h1M284.5 101.5h1M284.5 102h1M284.5 150.5h1M284.5 155.5h1M284.5 161.5h1M284.5 162.5h1M284.5 163.5h1M284.5 165h1M284.5 165.5h1M284.5 166h1M284.5 166.5h1M284.5 167h1M284.5 167.5h1M284.5 168h1M284.5 170.5h1M284.5 171h1M284.5 171.5h1M284.5 172.5h1M284.5 174h1M284.5 174.5h1M284.5 175h1M284.5 176h1M284.5 178h1M284.5 180.5h1M284.5 183h1M285 62h1M285 62.5h1M285 63h1M285 63.5h1M285 64h1M285 64.5h1M285 65.5h1M285 66h1M285 66.5h1M285 67h1M285 68h1M285 68.5h1M285 69h1M285 69.5h1M285 70h1M285 70.5h1M285 73h1M285 74h1M285 74.5h1M285 75h1M285 75.5h1M285 76.5h1M285 77.5h1M285 78h1M285 78.5h1M285 82.5h1M285 84h1M285 84.5h1M285 151.5h1M285 161h1M285 162.5h1M285 164.5h1M285 165h1M285 166h1M285 166.5h1M285 167h1M285 167.5h1M285 168.5h1M285 169.5h1M285 170.5h1M285 172h1M285 172.5h1M285 174h1M285 175h1M285 175.5h1M285 176h1M285 177.5h1M285 179h1M285.5 53h1M285.5 53.5h1M285.5 55h1M285.5 55.5h1M285.5 57h1M285.5 60.5h1M285.5 61h1M285.5 62h1M285.5 63.5h1M285.5 64h1M285.5 64.5h1M285.5 65.5h1M285.5 66h1M285.5 66.5h1M285.5 67.5h1M285.5 68h1M285.5 68.5h1M285.5 69h1M285.5 69.5h1M285.5 70h1M285.5 70.5h1M285.5 71h1M285.5 71.5h1M285.5 72h1M285.5 73h1M285.5 74h1M285.5 75h1M285.5 75.5h1M285.5 76h1M285.5 77h1M285.5 79h1M285.5 79.5h1M285.5 81h1M285.5 81.5h1M285.5 85.5h1M285.5 86.5h1M285.5 87.5h1M285.5 90.5h1M285.5 101h1M285.5 123.5h1M285.5 140h1M285.5 156h1M285.5 163.5h1M285.5 165.5h1M285.5 166h1M285.5 168.5h1M285.5 170h1M285.5 172h1M285.5 174h1M285.5 179h1M285.5 190.5h1M286 53h1M286 55.5h1M286 57h1M286 58h1M286 58.5h1M286 60h1M286 61.5h1M286 63h1M286 63.5h1M286 64h1M286 65h1M286 66h1M286 66.5h1M286 67h1M286 67.5h1M286 68h1M286 68.5h1M286 69h1M286 70h1M286 71h1M286 71.5h1M286 72h1M286 72.5h1M286 73h1M286 73.5h1M286 74h1M286 74.5h1M286 75.5h1M286 76h1M286 76.5h1M286 77.5h1M286 78h1M286 79.5h1M286 80h1M286 82.5h1M286 84h1M286 84.5h1M286 87h1M286 96h1M286 99h1M286 107h1M286 109.5h1M286 115.5h1M286 120.5h1M286 160.5h1M286 163.5h1M286 165h1M286 167.5h1M286 168h1M286 170h1M286 170.5h1M286 172h1M286 173h1M286 173.5h1M286 174.5h1M286 175.5h1M286 177h1M286 178h1M286 180h1M286 183h1M286.5 56.5h1M286.5 57h1M286.5 58.5h1M286.5 59.5h1M286.5 61h1M286.5 62h1M286.5 62.5h1M286.5 63h1M286.5 64h1M286.5 65h1M286.5 66h1M286.5 67h1M286.5 68h1M286.5 69h1M286.5 69.5h1M286.5 70h1M286.5 70.5h1M286.5 72h1M286.5 73h1M286.5 73.5h1M286.5 75h1M286.5 76.5h1M286.5 78h1M286.5 79h1M286.5 80h1M286.5 85.5h1M286.5 87h1M286.5 87.5h1M286.5 90.5h1M286.5 151.5h1M286.5 159h1M286.5 160h1M286.5 160.5h1M286.5 163h1M286.5 163.5h1M286.5 165.5h1M286.5 166h1M286.5 167h1M286.5 171h1M286.5 172h1M286.5 174h1M286.5 176h1M286.5 178.5h1M286.5 179h1M286.5 183.5h1M287 55.5h1M287 56h1M287 58h1M287 58.5h1M287 61h1M287 62.5h1M287 63h1M287 63.5h1M287 64.5h1M287 65.5h1M287 66h1M287 67.5h1M287 68h1M287 68.5h1M287 69h1M287 70h1M287 70.5h1M287 72h1M287 72.5h1M287 73h1M287 74h1M287 74.5h1M287 75h1M287 75.5h1M287 76h1M287 76.5h1M287 77h1M287 77.5h1M287 78h1M287 79h1M287 80h1M287 82.5h1M287 86.5h1M287 87h1M287 94.5h1M287 101.5h1M287 105h1M287 107h1M287 130h1M287 151h1M287 157h1M287 157.5h1M287 161.5h1M287 162h1M287 162.5h1M287 166.5h1M287 168h1M287 168.5h1M287 169.5h1M287 170h1M287 170.5h1M287 171h1M287 171.5h1M287 172.5h1M287 173h1M287 173.5h1M287 179h1M287 183h1M287.5 48.5h1M287.5 50.5h1M287.5 51h1M287.5 53.5h1M287.5 58.5h1M287.5 60.5h1M287.5 61h1M287.5 61.5h1M287.5 62h1M287.5 62.5h1M287.5 63h1M287.5 64.5h1M287.5 65h1M287.5 66.5h1M287.5 67.5h1M287.5 68h1M287.5 68.5h1M287.5 70h1M287.5 70.5h1M287.5 71h1M287.5 72h1M287.5 72.5h1M287.5 73h1M287.5 73.5h1M287.5 74h1M287.5 74.5h1M287.5 75h1M287.5 75.5h1M287.5 78h1M287.5 78.5h1M287.5 81h1M287.5 81.5h1M287.5 82.5h1M287.5 87h1M287.5 153.5h1M287.5 156.5h1M287.5 160h1M287.5 162h1M287.5 162.5h1M287.5 166.5h1M287.5 167h1M287.5 169h1M287.5 169.5h1M287.5 170.5h1M287.5 171h1M287.5 174h1M287.5 174.5h1M287.5 175h1M287.5 175.5h1M287.5 177.5h1M287.5 178h1M287.5 178.5h1M287.5 181h1M287.5 189h1M287.5 191h1M288 54.5h1M288 57.5h1M288 60h1M288 62h1M288 62.5h1M288 63.5h1M288 64.5h1M288 65h1M288 65.5h1M288 66h1M288 66.5h1M288 67.5h1M288 68.5h1M288 69h1M288 70h1M288 73.5h1M288 75h1M288 76h1M288 76.5h1M288 77h1M288 77.5h1M288 79h1M288 79.5h1M288 80.5h1M288 81h1M288 89.5h1M288 97.5h1M288 161h1M288 163h1M288 163.5h1M288 165h1M288 166h1M288 168.5h1M288 169.5h1M288 171h1M288 173.5h1M288 175h1M288 177.5h1M288 179.5h1M288 184.5h1M288.5 51.5h1M288.5 55.5h1M288.5 60h1M288.5 60.5h1M288.5 61h1M288.5 61.5h1M288.5 64h1M288.5 65h1M288.5 65.5h1M288.5 66h1M288.5 66.5h1M288.5 67h1M288.5 68h1M288.5 68.5h1M288.5 70h1M288.5 71.5h1M288.5 72h1M288.5 72.5h1M288.5 73.5h1M288.5 74h1M288.5 75h1M288.5 76h1M288.5 79h1M288.5 79.5h1M288.5 81h1M288.5 83h1M288.5 114.5h1M288.5 117h1M288.5 160h1M288.5 161.5h1M288.5 163.5h1M288.5 166.5h1M288.5 167.5h1M288.5 168h1M288.5 170h1M288.5 175.5h1M288.5 176h1M288.5 176.5h1M288.5 190h1M289 56h1M289 60.5h1M289 61h1M289 61.5h1M289 64h1M289 64.5h1M289 65.5h1M289 66h1M289 67h1M289 68h1M289 69h1M289 70.5h1M289 71h1M289 72h1M289 73.5h1M289 74h1M289 75.5h1M289 76.5h1M289 77h1M289 80h1M289 85h1M289 99h1M289 105h1M289 157.5h1M289 158h1M289 163.5h1M289 168.5h1M289 172.5h1M289 174.5h1M289 176.5h1M289 180.5h1M289 183h1M289 184h1M289.5 53h1M289.5 54h1M289.5 59.5h1M289.5 61h1M289.5 62.5h1M289.5 63.5h1M289.5 64.5h1M289.5 65.5h1M289.5 66h1M289.5 67h1M289.5 67.5h1M289.5 69h1M289.5 69.5h1M289.5 71h1M289.5 71.5h1M289.5 72h1M289.5 73.5h1M289.5 74.5h1M289.5 76.5h1M289.5 77h1M289.5 78.5h1M289.5 82h1M289.5 89.5h1M289.5 107h1M289.5 167h1M289.5 167.5h1M289.5 170h1M289.5 170.5h1M289.5 171h1M289.5 172h1M289.5 172.5h1M289.5 182h1M289.5 185h1M290 49.5h1M290 53h1M290 53.5h1M290 56h1M290 57h1M290 58.5h1M290 63.5h1M290 64.5h1M290 65h1M290 65.5h1M290 66h1M290 67.5h1M290 68.5h1M290 69h1M290 69.5h1M290 70h1M290 70.5h1M290 72h1M290 72.5h1M290 73.5h1M290 76.5h1M290 77h1M290 77.5h1M290 79.5h1M290 81.5h1M290 91h1M290 106.5h1M290 139h1M290 145.5h1M290 162h1M290 166.5h1M290 167h1M290 167.5h1M290 173h1M290 173.5h1M290 175h1M290 176h1M290 177.5h1M290.5 56.5h1M290.5 59.5h1M290.5 64h1M290.5 64.5h1M290.5 65h1M290.5 66.5h1M290.5 67h1M290.5 68h1M290.5 68.5h1M290.5 69h1M290.5 69.5h1M290.5 70.5h1M290.5 71.5h1M290.5 72h1M290.5 74.5h1M290.5 75.5h1M290.5 76.5h1M290.5 79h1M290.5 79.5h1M290.5 80.5h1M290.5 81h1M290.5 89.5h1M290.5 125.5h1M290.5 133.5h1M290.5 154h1M290.5 161h1M290.5 163.5h1M290.5 167h1M290.5 171.5h1M290.5 172h1M290.5 176.5h1M291 62.5h1M291 63h1M291 63.5h1M291 65h1M291 66.5h1M291 67.5h1M291 68h1M291 70h1M291 74h1M291 77h1M291 78.5h1M291 82h1M291 83.5h1M291 84h1M291 84.5h1M291 104.5h1M291 162.5h1M291 165h1M291 166.5h1M291 167.5h1M291 169h1M291 171h1M291 176.5h1M291 186.5h1M291.5 59h1M291.5 60h1M291.5 61.5h1M291.5 63h1M291.5 64.5h1M291.5 65.5h1M291.5 68h1M291.5 69h1M291.5 69.5h1M291.5 72.5h1M291.5 73h1M291.5 75h1M291.5 76.5h1M291.5 79h1M291.5 79.5h1M291.5 102h1M291.5 112.5h1M291.5 167.5h1M291.5 175.5h1M292 56h1M292 60.5h1M292 63.5h1M292 64h1M292 64.5h1M292 67.5h1M292 68.5h1M292 69.5h1M292 70.5h1M292 72.5h1M292 75.5h1M292 80h1M292 83h1M292 86h1M292 88h1M292 99.5h1M292 109.5h1M292 158.5h1M292 178.5h1M292.5 60h1M292.5 60.5h1M292.5 64h1M292.5 65h1M292.5 65.5h1M292.5 67.5h1M292.5 68h1M292.5 68.5h1M292.5 69h1M292.5 69.5h1M292.5 71.5h1M292.5 75.5h1M292.5 81h1M292.5 83.5h1M292.5 103h1M292.5 152h1M292.5 163h1M292.5 164.5h1M293 53h1M293 59h1M293 60h1M293 63h1M293 65h1M293 68h1M293 69h1M293 76.5h1M293 166.5h1M293 168h1M293.5 57h1M293.5 61h1M293.5 63.5h1M293.5 65.5h1M293.5 66h1M293.5 68.5h1M293.5 69.5h1M293.5 70h1M293.5 71.5h1M293.5 72.5h1M293.5 73h1M293.5 76h1M293.5 137.5h1M293.5 168h1M293.5 170.5h1M293.5 172h1M293.5 174h1M293.5 175.5h1M293.5 187h1M294 46.5h1M294 56.5h1M294 59h1M294 60.5h1M294 61.5h1M294 62.5h1M294 67h1M294 74.5h1M294 75.5h1M294 76.5h1M294 80h1M294 148.5h1M294 150.5h1M294 151h1M294 163.5h1M294 177.5h1M294 179.5h1M294 182.5h1M294.5 52h1M294.5 57h1M294.5 61.5h1M294.5 70.5h1M294.5 71h1M294.5 71.5h1M294.5 72.5h1M294.5 74h1M294.5 79.5h1M294.5 80.5h1M294.5 90.5h1M294.5 156.5h1M294.5 161.5h1M294.5 167.5h1M294.5 168.5h1M294.5 177.5h1M295 56.5h1M295 61h1M295 61.5h1M295 62.5h1M295 63h1M295 66.5h1M295 67h1M295 67.5h1M295 68h1M295 69.5h1M295 70h1M295 72h1M295 72.5h1M295 74h1M295 78h1M295 79h1M295 80h1M295 105h1M295 156h1M295 166h1M295.5 59.5h1M295.5 62.5h1M295.5 64.5h1M295.5 66.5h1M295.5 71.5h1M295.5 75.5h1M295.5 80h1M295.5 166.5h1M295.5 167.5h1M295.5 170.5h1M295.5 177.5h1M295.5 180h1M295.5 187.5h1M296 61.5h1M296 63h1M296 68.5h1M296 70.5h1M296 72h1M296 80h1M296 113.5h1M296 164h1M296 170h1M296 171h1M296.5 55.5h1M296.5 61h1M296.5 75h1M296.5 76h1M296.5 79h1M296.5 153h1M296.5 165.5h1M296.5 166.5h1M296.5 171.5h1M297 50.5h1M297 54h1M297 63h1M297 73h1M297 73.5h1M297 78h1M297 80.5h1M297 84.5h1M297 90.5h1M297 105h1M297 143.5h1M297 158.5h1M297 165h1M297 179h1M297.5 62h1M297.5 62.5h1M297.5 64h1M297.5 66.5h1M297.5 67.5h1M297.5 68h1M297.5 69h1M297.5 70.5h1M297.5 72h1M297.5 73.5h1M297.5 76.5h1M297.5 78.5h1M297.5 82h1M297.5 90h1M297.5 93h1M297.5 106.5h1M297.5 154.5h1M297.5 159h1M297.5 163h1M297.5 164h1M297.5 174.5h1M298 59.5h1M298 61.5h1M298 65.5h1M298 70h1M298 71.5h1M298 72h1M298 75.5h1M298 82.5h1M298 95.5h1M298 116h1M298.5 63.5h1M298.5 66h1M298.5 67.5h1M298.5 68h1M298.5 88.5h1M298.5 107h1M299 57h1M299 62h1M299 64.5h1M299 71h1M299 73h1M299 84h1M299 87.5h1M299 89h1M299 142.5h1M299 146h1M299 168.5h1M299 186.5h1M299 190.5h1M299.5 46.5h1M299.5 61.5h1M299.5 62h1M299.5 70.5h1M299.5 73.5h1M299.5 76.5h1M299.5 90.5h1M299.5 108.5h1M300 57h1M300 73h1M300 91.5h1M300 159.5h1M300 161.5h1M300 184.5h1M300.5 70h1M300.5 71h1M300.5 72.5h1M300.5 78h1M301 61.5h1M301 73.5h1M301 150.5h1M301 172h1M301.5 73.5h1M301.5 162.5h1M302 69.5h1M302 78h1M302.5 53h1M302.5 165h1M302.5 187.5h1M303 65.5h1M303 69h1M303 161.5h1M303 168h1M303 176h1M303 191.5h1M303.5 101.5h1M304 154.5h1M304.5 68.5h1M304.5 95h1M304.5 165.5h1M304.5 175.5h1M304.5 190.5h1M305 72.5h1M305 157h1M305.5 66h1M305.5 110h1M305.5 114.5h1M305.5 115h1M306 61.5h1M306 63.5h1M306 66h1M306 92h1M306 102.5h1M306 149.5h1M306 170h1M306.5 63h1M306.5 80.5h1M306.5 141.5h1M306.5 175.5h1M306.5 186h1M307 92h1M307 116.5h1M308 62.5h1M308 80.5h1M308 168.5h1M309.5 52.5h1M309.5 67h1M309.5 184.5h1M310 113.5h1M310 156.5h1M310 158.5h1M310 160.5h1M310 192h1M310.5 156h1M311 112.5h1M311.5 86h1M311.5 175h1M312 62h1M312 180h1M312.5 105h1M316.5 71.5h1M324.5 53.5h1M325.5 57.5h1M356 53.5h1M372.5 67.5h1M380 61h1M385.5 46.5h1" stroke="#000" stroke-width="1" fill="none" opacity=".85"/>
<rect x="252.5" y="35.3" width="162.5" height="160.2" fill="none" stroke="#666" stroke-width="1.15"/>
<rect x="252.5" y="43.2" width="61.10000000000002" height="152.3" fill="none" stroke="#666" stroke-width="1.15"/>
<line x1="252.5" y1="136.2" x2="313.6" y2="136.2" stroke="#666" stroke-width="1.15"/>
<text x="248.6" y="204.5" font-size="7.6" fill="#222">10</text>
<text x="256.1" y="202.1" font-size="5.4" fill="#222">0</text>
<text x="249.9" y="199.5" font-size="7.6" transform="rotate(-90 249.9 199.5)" fill="#222">10</text>
<text x="247.5" y="191.9" font-size="5.4" transform="rotate(-90 247.5 191.9)" fill="#222">0</text>
<text x="289.2" y="204.5" font-size="7.6" fill="#222">10</text>
<text x="296.7" y="202.1" font-size="5.4" fill="#222">1</text>
<text x="249.9" y="159.4" font-size="7.6" transform="rotate(-90 249.9 159.4)" fill="#222">10</text>
<text x="247.5" y="151.8" font-size="5.4" transform="rotate(-90 247.5 151.8)" fill="#222">1</text>
<text x="329.9" y="204.5" font-size="7.6" fill="#222">10</text>
<text x="337.4" y="202.1" font-size="5.4" fill="#222">2</text>
<text x="249.9" y="119.4" font-size="7.6" transform="rotate(-90 249.9 119.4)" fill="#222">10</text>
<text x="247.5" y="111.8" font-size="5.4" transform="rotate(-90 247.5 111.8)" fill="#222">2</text>
<text x="370.5" y="204.5" font-size="7.6" fill="#222">10</text>
<text x="378.0" y="202.1" font-size="5.4" fill="#222">3</text>
<text x="249.9" y="79.4" font-size="7.6" transform="rotate(-90 249.9 79.4)" fill="#222">10</text>
<text x="247.5" y="71.8" font-size="5.4" transform="rotate(-90 247.5 71.8)" fill="#222">3</text>
<text x="411.1" y="204.5" font-size="7.6" fill="#222">10</text>
<text x="418.6" y="202.1" font-size="5.4" fill="#222">4</text>
<text x="249.9" y="39.3" font-size="7.6" transform="rotate(-90 249.9 39.3)" fill="#222">10</text>
<text x="247.5" y="31.7" font-size="5.4" transform="rotate(-90 247.5 31.7)" fill="#222">4</text>
<line x1="264.7" y1="195.5" x2="264.7" y2="193.9" stroke="#777" stroke-width="0.6"/>
<line x1="264.7" y1="35.3" x2="264.7" y2="36.9" stroke="#777" stroke-width="0.6"/>
<line x1="252.5" y1="183.4" x2="254.1" y2="183.4" stroke="#777" stroke-width="0.6"/>
<line x1="415.0" y1="183.4" x2="413.4" y2="183.4" stroke="#777" stroke-width="0.6"/>
<line x1="271.9" y1="195.5" x2="271.9" y2="193.9" stroke="#777" stroke-width="0.6"/>
<line x1="271.9" y1="35.3" x2="271.9" y2="36.9" stroke="#777" stroke-width="0.6"/>
<line x1="252.5" y1="176.4" x2="254.1" y2="176.4" stroke="#777" stroke-width="0.6"/>
<line x1="415.0" y1="176.4" x2="413.4" y2="176.4" stroke="#777" stroke-width="0.6"/>
<line x1="277.0" y1="195.5" x2="277.0" y2="193.9" stroke="#777" stroke-width="0.6"/>
<line x1="277.0" y1="35.3" x2="277.0" y2="36.9" stroke="#777" stroke-width="0.6"/>
<line x1="252.5" y1="171.4" x2="254.1" y2="171.4" stroke="#777" stroke-width="0.6"/>
<line x1="415.0" y1="171.4" x2="413.4" y2="171.4" stroke="#777" stroke-width="0.6"/>
<line x1="280.9" y1="195.5" x2="280.9" y2="193.9" stroke="#777" stroke-width="0.6"/>
<line x1="280.9" y1="35.3" x2="280.9" y2="36.9" stroke="#777" stroke-width="0.6"/>
<line x1="252.5" y1="167.5" x2="254.1" y2="167.5" stroke="#777" stroke-width="0.6"/>
<line x1="415.0" y1="167.5" x2="413.4" y2="167.5" stroke="#777" stroke-width="0.6"/>
<line x1="284.1" y1="195.5" x2="284.1" y2="193.9" stroke="#777" stroke-width="0.6"/>
<line x1="284.1" y1="35.3" x2="284.1" y2="36.9" stroke="#777" stroke-width="0.6"/>
<line x1="252.5" y1="164.3" x2="254.1" y2="164.3" stroke="#777" stroke-width="0.6"/>
<line x1="415.0" y1="164.3" x2="413.4" y2="164.3" stroke="#777" stroke-width="0.6"/>
<line x1="286.8" y1="195.5" x2="286.8" y2="193.9" stroke="#777" stroke-width="0.6"/>
<line x1="286.8" y1="35.3" x2="286.8" y2="36.9" stroke="#777" stroke-width="0.6"/>
<line x1="252.5" y1="161.7" x2="254.1" y2="161.7" stroke="#777" stroke-width="0.6"/>
<line x1="415.0" y1="161.7" x2="413.4" y2="161.7" stroke="#777" stroke-width="0.6"/>
<line x1="289.2" y1="195.5" x2="289.2" y2="193.9" stroke="#777" stroke-width="0.6"/>
<line x1="289.2" y1="35.3" x2="289.2" y2="36.9" stroke="#777" stroke-width="0.6"/>
<line x1="252.5" y1="159.3" x2="254.1" y2="159.3" stroke="#777" stroke-width="0.6"/>
<line x1="415.0" y1="159.3" x2="413.4" y2="159.3" stroke="#777" stroke-width="0.6"/>
<line x1="291.3" y1="195.5" x2="291.3" y2="193.9" stroke="#777" stroke-width="0.6"/>
<line x1="291.3" y1="35.3" x2="291.3" y2="36.9" stroke="#777" stroke-width="0.6"/>
<line x1="252.5" y1="157.3" x2="254.1" y2="157.3" stroke="#777" stroke-width="0.6"/>
<line x1="415.0" y1="157.3" x2="413.4" y2="157.3" stroke="#777" stroke-width="0.6"/>
<line x1="305.4" y1="195.5" x2="305.4" y2="193.9" stroke="#777" stroke-width="0.6"/>
<line x1="305.4" y1="35.3" x2="305.4" y2="36.9" stroke="#777" stroke-width="0.6"/>
<line x1="252.5" y1="143.4" x2="254.1" y2="143.4" stroke="#777" stroke-width="0.6"/>
<line x1="415.0" y1="143.4" x2="413.4" y2="143.4" stroke="#777" stroke-width="0.6"/>
<line x1="312.5" y1="195.5" x2="312.5" y2="193.9" stroke="#777" stroke-width="0.6"/>
<line x1="312.5" y1="35.3" x2="312.5" y2="36.9" stroke="#777" stroke-width="0.6"/>
<line x1="252.5" y1="136.3" x2="254.1" y2="136.3" stroke="#777" stroke-width="0.6"/>
<line x1="415.0" y1="136.3" x2="413.4" y2="136.3" stroke="#777" stroke-width="0.6"/>
<line x1="317.6" y1="195.5" x2="317.6" y2="193.9" stroke="#777" stroke-width="0.6"/>
<line x1="317.6" y1="35.3" x2="317.6" y2="36.9" stroke="#777" stroke-width="0.6"/>
<line x1="252.5" y1="131.3" x2="254.1" y2="131.3" stroke="#777" stroke-width="0.6"/>
<line x1="415.0" y1="131.3" x2="413.4" y2="131.3" stroke="#777" stroke-width="0.6"/>
<line x1="321.5" y1="195.5" x2="321.5" y2="193.9" stroke="#777" stroke-width="0.6"/>
<line x1="321.5" y1="35.3" x2="321.5" y2="36.9" stroke="#777" stroke-width="0.6"/>
<line x1="252.5" y1="127.5" x2="254.1" y2="127.5" stroke="#777" stroke-width="0.6"/>
<line x1="415.0" y1="127.5" x2="413.4" y2="127.5" stroke="#777" stroke-width="0.6"/>
<line x1="324.7" y1="195.5" x2="324.7" y2="193.9" stroke="#777" stroke-width="0.6"/>
<line x1="324.7" y1="35.3" x2="324.7" y2="36.9" stroke="#777" stroke-width="0.6"/>
<line x1="252.5" y1="124.3" x2="254.1" y2="124.3" stroke="#777" stroke-width="0.6"/>
<line x1="415.0" y1="124.3" x2="413.4" y2="124.3" stroke="#777" stroke-width="0.6"/>
<line x1="327.5" y1="195.5" x2="327.5" y2="193.9" stroke="#777" stroke-width="0.6"/>
<line x1="327.5" y1="35.3" x2="327.5" y2="36.9" stroke="#777" stroke-width="0.6"/>
<line x1="252.5" y1="121.6" x2="254.1" y2="121.6" stroke="#777" stroke-width="0.6"/>
<line x1="415.0" y1="121.6" x2="413.4" y2="121.6" stroke="#777" stroke-width="0.6"/>
<line x1="329.8" y1="195.5" x2="329.8" y2="193.9" stroke="#777" stroke-width="0.6"/>
<line x1="329.8" y1="35.3" x2="329.8" y2="36.9" stroke="#777" stroke-width="0.6"/>
<line x1="252.5" y1="119.3" x2="254.1" y2="119.3" stroke="#777" stroke-width="0.6"/>
<line x1="415.0" y1="119.3" x2="413.4" y2="119.3" stroke="#777" stroke-width="0.6"/>
<line x1="331.9" y1="195.5" x2="331.9" y2="193.9" stroke="#777" stroke-width="0.6"/>
<line x1="331.9" y1="35.3" x2="331.9" y2="36.9" stroke="#777" stroke-width="0.6"/>
<line x1="252.5" y1="117.2" x2="254.1" y2="117.2" stroke="#777" stroke-width="0.6"/>
<line x1="415.0" y1="117.2" x2="413.4" y2="117.2" stroke="#777" stroke-width="0.6"/>
<line x1="346.0" y1="195.5" x2="346.0" y2="193.9" stroke="#777" stroke-width="0.6"/>
<line x1="346.0" y1="35.3" x2="346.0" y2="36.9" stroke="#777" stroke-width="0.6"/>
<line x1="252.5" y1="103.3" x2="254.1" y2="103.3" stroke="#777" stroke-width="0.6"/>
<line x1="415.0" y1="103.3" x2="413.4" y2="103.3" stroke="#777" stroke-width="0.6"/>
<line x1="353.1" y1="195.5" x2="353.1" y2="193.9" stroke="#777" stroke-width="0.6"/>
<line x1="353.1" y1="35.3" x2="353.1" y2="36.9" stroke="#777" stroke-width="0.6"/>
<line x1="252.5" y1="96.3" x2="254.1" y2="96.3" stroke="#777" stroke-width="0.6"/>
<line x1="415.0" y1="96.3" x2="413.4" y2="96.3" stroke="#777" stroke-width="0.6"/>
<line x1="358.2" y1="195.5" x2="358.2" y2="193.9" stroke="#777" stroke-width="0.6"/>
<line x1="358.2" y1="35.3" x2="358.2" y2="36.9" stroke="#777" stroke-width="0.6"/>
<line x1="252.5" y1="91.3" x2="254.1" y2="91.3" stroke="#777" stroke-width="0.6"/>
<line x1="415.0" y1="91.3" x2="413.4" y2="91.3" stroke="#777" stroke-width="0.6"/>
<line x1="362.1" y1="195.5" x2="362.1" y2="193.9" stroke="#777" stroke-width="0.6"/>
<line x1="362.1" y1="35.3" x2="362.1" y2="36.9" stroke="#777" stroke-width="0.6"/>
<line x1="252.5" y1="87.4" x2="254.1" y2="87.4" stroke="#777" stroke-width="0.6"/>
<line x1="415.0" y1="87.4" x2="413.4" y2="87.4" stroke="#777" stroke-width="0.6"/>
<line x1="365.4" y1="195.5" x2="365.4" y2="193.9" stroke="#777" stroke-width="0.6"/>
<line x1="365.4" y1="35.3" x2="365.4" y2="36.9" stroke="#777" stroke-width="0.6"/>
<line x1="252.5" y1="84.2" x2="254.1" y2="84.2" stroke="#777" stroke-width="0.6"/>
<line x1="415.0" y1="84.2" x2="413.4" y2="84.2" stroke="#777" stroke-width="0.6"/>
<line x1="368.1" y1="195.5" x2="368.1" y2="193.9" stroke="#777" stroke-width="0.6"/>
<line x1="368.1" y1="35.3" x2="368.1" y2="36.9" stroke="#777" stroke-width="0.6"/>
<line x1="252.5" y1="81.6" x2="254.1" y2="81.6" stroke="#777" stroke-width="0.6"/>
<line x1="415.0" y1="81.6" x2="413.4" y2="81.6" stroke="#777" stroke-width="0.6"/>
<line x1="370.4" y1="195.5" x2="370.4" y2="193.9" stroke="#777" stroke-width="0.6"/>
<line x1="370.4" y1="35.3" x2="370.4" y2="36.9" stroke="#777" stroke-width="0.6"/>
<line x1="252.5" y1="79.2" x2="254.1" y2="79.2" stroke="#777" stroke-width="0.6"/>
<line x1="415.0" y1="79.2" x2="413.4" y2="79.2" stroke="#777" stroke-width="0.6"/>
<line x1="372.5" y1="195.5" x2="372.5" y2="193.9" stroke="#777" stroke-width="0.6"/>
<line x1="372.5" y1="35.3" x2="372.5" y2="36.9" stroke="#777" stroke-width="0.6"/>
<line x1="252.5" y1="77.2" x2="254.1" y2="77.2" stroke="#777" stroke-width="0.6"/>
<line x1="415.0" y1="77.2" x2="413.4" y2="77.2" stroke="#777" stroke-width="0.6"/>
<line x1="386.6" y1="195.5" x2="386.6" y2="193.9" stroke="#777" stroke-width="0.6"/>
<line x1="386.6" y1="35.3" x2="386.6" y2="36.9" stroke="#777" stroke-width="0.6"/>
<line x1="252.5" y1="63.3" x2="254.1" y2="63.3" stroke="#777" stroke-width="0.6"/>
<line x1="415.0" y1="63.3" x2="413.4" y2="63.3" stroke="#777" stroke-width="0.6"/>
<line x1="393.8" y1="195.5" x2="393.8" y2="193.9" stroke="#777" stroke-width="0.6"/>
<line x1="393.8" y1="35.3" x2="393.8" y2="36.9" stroke="#777" stroke-width="0.6"/>
<line x1="252.5" y1="56.2" x2="254.1" y2="56.2" stroke="#777" stroke-width="0.6"/>
<line x1="415.0" y1="56.2" x2="413.4" y2="56.2" stroke="#777" stroke-width="0.6"/>
<line x1="398.8" y1="195.5" x2="398.8" y2="193.9" stroke="#777" stroke-width="0.6"/>
<line x1="398.8" y1="35.3" x2="398.8" y2="36.9" stroke="#777" stroke-width="0.6"/>
<line x1="252.5" y1="51.2" x2="254.1" y2="51.2" stroke="#777" stroke-width="0.6"/>
<line x1="415.0" y1="51.2" x2="413.4" y2="51.2" stroke="#777" stroke-width="0.6"/>
<line x1="402.8" y1="195.5" x2="402.8" y2="193.9" stroke="#777" stroke-width="0.6"/>
<line x1="402.8" y1="35.3" x2="402.8" y2="36.9" stroke="#777" stroke-width="0.6"/>
<line x1="252.5" y1="47.4" x2="254.1" y2="47.4" stroke="#777" stroke-width="0.6"/>
<line x1="415.0" y1="47.4" x2="413.4" y2="47.4" stroke="#777" stroke-width="0.6"/>
<line x1="406.0" y1="195.5" x2="406.0" y2="193.9" stroke="#777" stroke-width="0.6"/>
<line x1="406.0" y1="35.3" x2="406.0" y2="36.9" stroke="#777" stroke-width="0.6"/>
<line x1="252.5" y1="44.2" x2="254.1" y2="44.2" stroke="#777" stroke-width="0.6"/>
<line x1="415.0" y1="44.2" x2="413.4" y2="44.2" stroke="#777" stroke-width="0.6"/>
<line x1="408.7" y1="195.5" x2="408.7" y2="193.9" stroke="#777" stroke-width="0.6"/>
<line x1="408.7" y1="35.3" x2="408.7" y2="36.9" stroke="#777" stroke-width="0.6"/>
<line x1="252.5" y1="41.5" x2="254.1" y2="41.5" stroke="#777" stroke-width="0.6"/>
<line x1="415.0" y1="41.5" x2="413.4" y2="41.5" stroke="#777" stroke-width="0.6"/>
<line x1="411.1" y1="195.5" x2="411.1" y2="193.9" stroke="#777" stroke-width="0.6"/>
<line x1="411.1" y1="35.3" x2="411.1" y2="36.9" stroke="#777" stroke-width="0.6"/>
<line x1="252.5" y1="39.2" x2="254.1" y2="39.2" stroke="#777" stroke-width="0.6"/>
<line x1="415.0" y1="39.2" x2="413.4" y2="39.2" stroke="#777" stroke-width="0.6"/>
<line x1="413.1" y1="195.5" x2="413.1" y2="193.9" stroke="#777" stroke-width="0.6"/>
<line x1="413.1" y1="35.3" x2="413.1" y2="36.9" stroke="#777" stroke-width="0.6"/>
<line x1="252.5" y1="37.1" x2="254.1" y2="37.1" stroke="#777" stroke-width="0.6"/>
<line x1="415.0" y1="37.1" x2="413.4" y2="37.1" stroke="#777" stroke-width="0.6"/>
<text x="81.3" y="26.7" font-size="18" textLength="56.0" lengthAdjust="spacingAndGlyphs">Lgals3</text>
<text x="142.7" y="20.6" font-size="9.5" textLength="15.5" lengthAdjust="spacingAndGlyphs">+/+</text>
<text x="70.8" y="132.4" font-size="14.5" textLength="18.2" lengthAdjust="spacingAndGlyphs">R2</text>
<text x="70.8" y="192.7" font-size="14.5" textLength="18.2" lengthAdjust="spacingAndGlyphs">R3</text>
<text x="103.2" y="177.0" font-size="16" textLength="47.5" lengthAdjust="spacingAndGlyphs">11.7%</text>
<text x="76.3" y="223.8" font-size="16.5" textLength="70.0" lengthAdjust="spacingAndGlyphs">Ig control</text>
<text x="15.9" y="137.2" font-size="18" textLength="49.0" lengthAdjust="spacingAndGlyphs" transform="rotate(-90 15.9 137.2)">CD45</text>
<text x="306.6" y="26.7" font-size="18" textLength="56.0" lengthAdjust="spacingAndGlyphs">Lgals3</text>
<text x="367.6" y="20.8" font-size="9.5" textLength="10.5" lengthAdjust="spacingAndGlyphs">-/-</text>
<text x="292.0" y="132.8" font-size="14.5" textLength="17.8" lengthAdjust="spacingAndGlyphs">R2</text>
<text x="292.0" y="192.1" font-size="14.5" textLength="17.8" lengthAdjust="spacingAndGlyphs">R3</text>
<text x="326.8" y="176.9" font-size="16" textLength="49.5" lengthAdjust="spacingAndGlyphs">23.6%</text>
<text x="302.1" y="223.5" font-size="16.5" textLength="70.2" lengthAdjust="spacingAndGlyphs">Ig control</text>
<text x="235.4" y="137.6" font-size="18" textLength="49.4" lengthAdjust="spacingAndGlyphs" transform="rotate(-90 235.4 137.6)">CD45</text>
<line x1="514.6" y1="50.3" x2="514.6" y2="198.2" stroke="#808080" stroke-width="1.4"/>
<line x1="511.4" y1="195.0" x2="683.4" y2="195.0" stroke="#808080" stroke-width="1.4"/>
<line x1="511.4" y1="195.0" x2="514.6" y2="195.0" stroke="#808080" stroke-width="1.2"/>
<text x="501.3" y="200.5" font-size="13.3" text-anchor="end">0</text>
<line x1="511.4" y1="166.1" x2="514.6" y2="166.1" stroke="#808080" stroke-width="1.2"/>
<text x="501.3" y="171.6" font-size="13.3" text-anchor="end">20</text>
<line x1="511.4" y1="137.1" x2="514.6" y2="137.1" stroke="#808080" stroke-width="1.2"/>
<text x="501.3" y="142.6" font-size="13.3" text-anchor="end">40</text>
<line x1="511.4" y1="108.2" x2="514.6" y2="108.2" stroke="#808080" stroke-width="1.2"/>
<text x="501.3" y="113.7" font-size="13.3" text-anchor="end">60</text>
<line x1="511.4" y1="79.2" x2="514.6" y2="79.2" stroke="#808080" stroke-width="1.2"/>
<text x="501.3" y="84.7" font-size="13.3" text-anchor="end">80</text>
<line x1="511.4" y1="50.3" x2="514.6" y2="50.3" stroke="#808080" stroke-width="1.2"/>
<text x="501.3" y="55.8" font-size="13.3" text-anchor="end">100</text>
<line x1="514.6" y1="195.0" x2="514.6" y2="198.2" stroke="#808080" stroke-width="1.2"/>
<line x1="542.4" y1="195.0" x2="542.4" y2="198.2" stroke="#808080" stroke-width="1.2"/>
<line x1="570.2" y1="195.0" x2="570.2" y2="198.2" stroke="#808080" stroke-width="1.2"/>
<line x1="598.0" y1="195.0" x2="598.0" y2="198.2" stroke="#808080" stroke-width="1.2"/>
<line x1="625.8" y1="195.0" x2="625.8" y2="198.2" stroke="#808080" stroke-width="1.2"/>
<line x1="653.6" y1="195.0" x2="653.6" y2="198.2" stroke="#808080" stroke-width="1.2"/>
<line x1="681.4" y1="195.0" x2="681.4" y2="198.2" stroke="#808080" stroke-width="1.2"/>
<rect x="522.8" y="192.3" width="11.4" height="2.7" fill="#000" stroke="none" stroke-width="1"/>
<text x="531.5" y="214.5" font-size="14.4" text-anchor="end" transform="rotate(-45 531.5 214.5)">GM-CSF</text>
<rect x="550.6" y="190.7" width="11.4" height="4.3" fill="#000" stroke="none" stroke-width="1"/>
<text x="559.3" y="214.5" font-size="14.4" text-anchor="end" transform="rotate(-45 559.3 214.5)">M-CSF</text>
<rect x="578.4" y="187.3" width="11.4" height="7.7" fill="#000" stroke="none" stroke-width="1"/>
<text x="587.1" y="214.5" font-size="14.4" text-anchor="end" transform="rotate(-45 587.1 214.5)">IL-4</text>
<rect x="606.2" y="192.1" width="11.4" height="2.9" fill="#000" stroke="none" stroke-width="1"/>
<text x="614.9" y="214.5" font-size="14.4" text-anchor="end" transform="rotate(-45 614.9 214.5)">IL-5</text>
<rect x="634.0" y="77.1" width="11.4" height="117.9" fill="#000" stroke="none" stroke-width="1"/>
<text x="642.7" y="214.5" font-size="14.4" text-anchor="end" transform="rotate(-45 642.7 214.5)">IL-7</text>
<rect x="661.8" y="192.1" width="11.4" height="2.9" fill="#000" stroke="none" stroke-width="1"/>
<text x="670.5" y="214.5" font-size="14.4" text-anchor="end" transform="rotate(-45 670.5 214.5)">BLIMP-1</text>
<line x1="639.9" y1="77.0" x2="639.9" y2="62.5" stroke="#000" stroke-width="1.8"/>
<line x1="634.2" y1="63.3" x2="645.2" y2="63.3" stroke="#000" stroke-width="1.8"/>
<line x1="584.3" y1="187.4" x2="584.3" y2="186.6" stroke="#000" stroke-width="1.4"/>
<line x1="580.0" y1="186.9" x2="588.6" y2="186.9" stroke="#000" stroke-width="1.2"/>
<path d="M639.90 51.88L639.90 47.89M639.90 51.88L643.70 50.65M639.90 51.88L642.25 55.11M639.90 51.88L637.55 55.11M639.90 51.88L636.10 50.65" fill="none" stroke="#000" stroke-width="1.8" stroke-linecap="butt"/>
<path d="M585.20 176.18L585.20 172.19M585.20 176.18L589.00 174.95M585.20 176.18L587.55 179.41M585.20 176.18L582.85 179.41M585.20 176.18L581.40 174.95" fill="none" stroke="#000" stroke-width="1.8" stroke-linecap="butt"/>
<text x="564.6" y="41.9" font-size="14.5" textLength="42.4" lengthAdjust="spacingAndGlyphs">CD45</text>
<text x="607.8" y="36.4" font-size="9" textLength="2.6" lengthAdjust="spacingAndGlyphs">-</text>
<text x="473.0" y="211.0" font-size="14" textLength="175.2" lengthAdjust="spacingAndGlyphs" transform="rotate(-90 473.0 211.0)">mRNA relative expression</text>
<line x1="58.0" y1="288.5" x2="58.0" y2="471.0" stroke="#222" stroke-width="1.3"/>
<line x1="57.4" y1="471.0" x2="208.5" y2="471.0" stroke="#222" stroke-width="1.3"/>
<line x1="137.0" y1="471.0" x2="137.0" y2="474.0" stroke="#222" stroke-width="1.2"/>
<line x1="55.0" y1="471.0" x2="58.0" y2="471.0" stroke="#222" stroke-width="1.2"/>
<text x="47.6" y="476.0" font-size="15" class="r" text-anchor="end">0</text>
<line x1="55.0" y1="434.5" x2="58.0" y2="434.5" stroke="#222" stroke-width="1.2"/>
<text x="47.6" y="439.5" font-size="15" class="r" text-anchor="end">10</text>
<line x1="55.0" y1="398.0" x2="58.0" y2="398.0" stroke="#222" stroke-width="1.2"/>
<text x="47.6" y="403.0" font-size="15" class="r" text-anchor="end">20</text>
<line x1="55.0" y1="361.5" x2="58.0" y2="361.5" stroke="#222" stroke-width="1.2"/>
<text x="47.6" y="366.5" font-size="15" class="r" text-anchor="end">30</text>
<line x1="55.0" y1="325.0" x2="58.0" y2="325.0" stroke="#222" stroke-width="1.2"/>
<text x="47.6" y="330.0" font-size="15" class="r" text-anchor="end">40</text>
<line x1="55.0" y1="288.5" x2="58.0" y2="288.5" stroke="#222" stroke-width="1.2"/>
<text x="47.6" y="293.5" font-size="15" class="r" text-anchor="end">50</text>
<line x1="86.2" y1="440.3" x2="86.2" y2="429.9" stroke="#9a9a9a" stroke-width="1.9"/>
<line x1="83.9" y1="429.4" x2="88.5" y2="429.4" stroke="#555" stroke-width="1.5"/>
<rect x="74.9" y="440.3" width="22.6" height="30.7" fill="#000" stroke="#000" stroke-width="1.2"/>
<line x1="108.6" y1="384.5" x2="108.6" y2="356.2" stroke="#9a9a9a" stroke-width="1.9"/>
<line x1="106.3" y1="355.7" x2="110.9" y2="355.7" stroke="#555" stroke-width="1.5"/>
<rect x="97.5" y="384.5" width="22.2" height="86.5" fill="#fff" stroke="#000" stroke-width="1.2"/>
<line x1="164.4" y1="446.4" x2="164.4" y2="442.3" stroke="#9a9a9a" stroke-width="1.9"/>
<line x1="162.1" y1="441.8" x2="166.8" y2="441.8" stroke="#555" stroke-width="1.5"/>
<rect x="153.1" y="446.4" width="22.7" height="24.6" fill="#000" stroke="#000" stroke-width="1.2"/>
<line x1="187.0" y1="426.5" x2="187.0" y2="413.1" stroke="#9a9a9a" stroke-width="1.9"/>
<line x1="184.7" y1="412.6" x2="189.3" y2="412.6" stroke="#555" stroke-width="1.5"/>
<rect x="175.8" y="426.5" width="22.4" height="44.5" fill="#fff" stroke="#000" stroke-width="1.2"/>
<path d="M108.70 340.88L108.70 336.89M108.70 340.88L112.50 339.65M108.70 340.88L111.05 344.11M108.70 340.88L106.35 344.11M108.70 340.88L104.90 339.65" fill="none" stroke="#000" stroke-width="1.8" stroke-linecap="butt"/>
<path d="M187.70 399.28L187.70 395.29M187.70 399.28L191.50 398.05M187.70 399.28L190.05 402.51M187.70 399.28L185.35 402.51M187.70 399.28L183.90 398.05" fill="none" stroke="#000" stroke-width="1.8" stroke-linecap="butt"/>
<rect x="65.2" y="288.8" width="11.7" height="14.3" fill="#000" stroke="none" stroke-width="1"/>
<rect x="66.1" y="310.0" width="10.4" height="11.3" fill="#fff" stroke="#000" stroke-width="1.3"/>
<text x="81.3" y="301.4" font-size="16.5" textLength="49.0" lengthAdjust="spacingAndGlyphs">Lgals3</text>
<text x="136.0" y="295.6" font-size="8.5" textLength="13.6" lengthAdjust="spacingAndGlyphs">+/+</text>
<text x="82.2" y="320.6" font-size="16.5" textLength="49.0" lengthAdjust="spacingAndGlyphs">Lgals3</text>
<text x="137.3" y="315.5" font-size="8.5" textLength="8.7" lengthAdjust="spacingAndGlyphs">-/-</text>
<text x="66.5" y="490.0" font-size="16.5" textLength="64.5" lengthAdjust="spacingAndGlyphs">Colonies</text>
<text x="147.0" y="490.0" font-size="16.5" textLength="61.0" lengthAdjust="spacingAndGlyphs">Clusters</text>
<text x="24.1" y="447.6" font-size="20.3" textLength="143.0" lengthAdjust="spacingAndGlyphs" transform="rotate(-90 24.1 447.6)">Absolute number</text>
<line x1="290.0" y1="301.4" x2="290.0" y2="471.0" stroke="#000" stroke-width="1.6"/>
<line x1="289.2" y1="470.3" x2="443.4" y2="470.3" stroke="#000" stroke-width="1.6"/>
<line x1="284.8" y1="470.3" x2="290.0" y2="470.3" stroke="#000" stroke-width="1.4"/>
<text x="272.2" y="476.3" font-size="14.3" text-anchor="end">0</text>
<line x1="284.8" y1="428.0" x2="290.0" y2="428.0" stroke="#000" stroke-width="1.4"/>
<text x="272.2" y="434.0" font-size="14.3" text-anchor="end">2</text>
<line x1="284.8" y1="385.8" x2="290.0" y2="385.8" stroke="#000" stroke-width="1.4"/>
<text x="272.2" y="391.8" font-size="14.3" text-anchor="end">4</text>
<line x1="284.8" y1="343.5" x2="290.0" y2="343.5" stroke="#000" stroke-width="1.4"/>
<text x="272.2" y="349.5" font-size="14.3" text-anchor="end">6</text>
<line x1="284.8" y1="301.3" x2="290.0" y2="301.3" stroke="#000" stroke-width="1.4"/>
<text x="272.2" y="307.3" font-size="14.3" text-anchor="end">8</text>
<line x1="308.8" y1="427.4" x2="308.8" y2="424.4" stroke="#000" stroke-width="1.6"/>
<line x1="303.6" y1="424.4" x2="313.9" y2="424.4" stroke="#000" stroke-width="1.6"/>
<rect x="301.4" y="427.4" width="16.0" height="42.9" fill="#000" stroke="#000" stroke-width="1.4"/>
<line x1="349.6" y1="364.4" x2="349.6" y2="347.7" stroke="#000" stroke-width="1.6"/>
<line x1="344.4" y1="347.7" x2="354.9" y2="347.7" stroke="#000" stroke-width="1.6"/>
<rect x="341.4" y="364.4" width="15.1" height="105.9" fill="#666" stroke="#000" stroke-width="1.4"/>
<line x1="388.2" y1="410.3" x2="388.2" y2="403.7" stroke="#000" stroke-width="1.6"/>
<line x1="383.0" y1="403.7" x2="393.5" y2="403.7" stroke="#000" stroke-width="1.6"/>
<rect x="380.2" y="410.3" width="16.8" height="60.0" fill="#ccc" stroke="#000" stroke-width="1.4"/>
<line x1="428.0" y1="391.9" x2="428.0" y2="376.3" stroke="#000" stroke-width="1.6"/>
<line x1="423.2" y1="376.3" x2="432.9" y2="376.3" stroke="#000" stroke-width="1.6"/>
<rect x="421.0" y="391.9" width="15.8" height="78.4" fill="#fff" stroke="#000" stroke-width="1.4"/>
<line x1="303.1" y1="327.9" x2="430.3" y2="327.9" stroke="#000" stroke-width="2.0"/>
<line x1="303.1" y1="342.8" x2="345.7" y2="342.8" stroke="#000" stroke-width="2.0"/>
<line x1="351.7" y1="342.8" x2="389.8" y2="342.8" stroke="#000" stroke-width="2.0"/>
<path d="M362.40 319.78L362.40 315.79M362.40 319.78L366.20 318.55M362.40 319.78L364.75 323.01M362.40 319.78L360.05 323.01M362.40 319.78L358.60 318.55" fill="none" stroke="#000" stroke-width="1.8" stroke-linecap="butt"/>
<path d="M323.60 336.38L323.60 332.39M323.60 336.38L327.40 335.15M323.60 336.38L325.95 339.61M323.60 336.38L321.25 339.61M323.60 336.38L319.80 335.15" fill="none" stroke="#000" stroke-width="1.8" stroke-linecap="butt"/>
<path d="M369.80 336.38L369.80 332.39M369.80 336.38L373.60 335.15M369.80 336.38L372.15 339.61M369.80 336.38L367.45 339.61M369.80 336.38L366.00 335.15" fill="none" stroke="#000" stroke-width="1.8" stroke-linecap="butt"/>
<text x="312.2" y="287.9" font-size="14" textLength="121.5" lengthAdjust="spacingAndGlyphs"><tspan dy="-0.00">B220</tspan><tspan dy="-5.32" font-size="8.4">+</tspan><tspan dy="5.32">CD19</tspan><tspan dy="-5.32" font-size="8.4">+</tspan><tspan dy="5.32"> cells</tspan></text>
<text x="340.2" y="305.6" font-size="14" textLength="69.0" lengthAdjust="spacingAndGlyphs">in BMSCs</text>
<text x="254.3" y="421.8" font-size="17" textLength="79.5" lengthAdjust="spacingAndGlyphs" transform="rotate(-90 254.3 421.8)"><tspan dy="-0.00">x10</tspan><tspan dy="-5.60" font-size="10.5">5</tspan><tspan dy="5.60"> cells</tspan></text>
<text x="314.9" y="565.3" font-size="14.8" textLength="70.3" lengthAdjust="spacingAndGlyphs" transform="rotate(-90 314.9 565.3)">BM Lgals3</text>
<text x="309.5" y="492.8" font-size="8.0" textLength="16.2" lengthAdjust="spacingAndGlyphs" transform="rotate(-90 309.5 492.8)">+/+</text>
<text x="344.4" y="566.0" font-size="14.8" textLength="71.0" lengthAdjust="spacingAndGlyphs" transform="rotate(-90 344.4 566.0)">BM Lgals3</text>
<text x="339.0" y="491.6" font-size="8.0" textLength="14.3" lengthAdjust="spacingAndGlyphs" transform="rotate(-90 339.0 491.6)">+/+</text>
<text x="362.9" y="551.8" font-size="14.8" textLength="52.3" lengthAdjust="spacingAndGlyphs" transform="rotate(-90 362.9 551.8)">in Lgals</text>
<text x="357.5" y="499.2" font-size="8.0" textLength="11.6" lengthAdjust="spacingAndGlyphs" transform="rotate(-90 357.5 499.2)">-/-</text>
<text x="384.9" y="563.4" font-size="14.8" textLength="70.3" lengthAdjust="spacingAndGlyphs" transform="rotate(-90 384.9 563.4)">BM Lgals3</text>
<text x="379.5" y="491.6" font-size="8.0" textLength="12.4" lengthAdjust="spacingAndGlyphs" transform="rotate(-90 379.5 491.6)">-/-</text>
<text x="403.5" y="554.3" font-size="14.8" textLength="53.5" lengthAdjust="spacingAndGlyphs" transform="rotate(-90 403.5 554.3)">in Lgals</text>
<text x="398.1" y="501.2" font-size="8.0" textLength="14.3" lengthAdjust="spacingAndGlyphs" transform="rotate(-90 398.1 501.2)">+/+</text>
<text x="434.2" y="564.1" font-size="14.8" textLength="71.0" lengthAdjust="spacingAndGlyphs" transform="rotate(-90 434.2 564.1)">BM Lgals3</text>
<text x="428.8" y="491.6" font-size="8.0" textLength="11.1" lengthAdjust="spacingAndGlyphs" transform="rotate(-90 428.8 491.6)">-/-</text>
<line x1="532.9" y1="299.3" x2="532.9" y2="476.0" stroke="#808080" stroke-width="1.4"/>
<line x1="528.7" y1="470.8" x2="634.4" y2="470.8" stroke="#808080" stroke-width="1.4"/>
<line x1="582.7" y1="470.8" x2="582.7" y2="476.0" stroke="#808080" stroke-width="1.2"/>
<line x1="634.4" y1="470.8" x2="634.4" y2="476.0" stroke="#808080" stroke-width="1.2"/>
<line x1="528.7" y1="470.8" x2="532.9" y2="470.8" stroke="#808080" stroke-width="1.2"/>
<text x="517.6" y="476.8" font-size="14.3" text-anchor="end">0</text>
<line x1="528.7" y1="427.9" x2="532.9" y2="427.9" stroke="#808080" stroke-width="1.2"/>
<text x="517.6" y="433.9" font-size="14.3" text-anchor="end">2</text>
<line x1="528.7" y1="385.0" x2="532.9" y2="385.0" stroke="#808080" stroke-width="1.2"/>
<text x="517.6" y="391.0" font-size="14.3" text-anchor="end">4</text>
<line x1="528.7" y1="342.2" x2="532.9" y2="342.2" stroke="#808080" stroke-width="1.2"/>
<text x="517.6" y="348.2" font-size="14.3" text-anchor="end">6</text>
<line x1="528.7" y1="299.3" x2="532.9" y2="299.3" stroke="#808080" stroke-width="1.2"/>
<text x="517.6" y="305.3" font-size="14.3" text-anchor="end">8</text>
<line x1="558.7" y1="448.5" x2="558.7" y2="441.4" stroke="#000" stroke-width="1.8"/>
<line x1="553.6" y1="441.4" x2="563.8" y2="441.4" stroke="#000" stroke-width="1.8"/>
<rect x="548.3" y="448.5" width="21.3" height="22.3" fill="#000" stroke="#000" stroke-width="1.3"/>
<line x1="608.1" y1="407.6" x2="608.1" y2="399.8" stroke="#000" stroke-width="1.8"/>
<line x1="602.3" y1="399.8" x2="614.0" y2="399.8" stroke="#000" stroke-width="1.8"/>
<rect x="598.2" y="407.6" width="20.8" height="63.2" fill="#666" stroke="#000" stroke-width="1.3"/>
<path d="M608.40 388.78L608.40 384.79M608.40 388.78L612.20 387.55M608.40 388.78L610.75 392.01M608.40 388.78L606.05 392.01M608.40 388.78L604.60 387.55" fill="none" stroke="#000" stroke-width="1.8" stroke-linecap="butt"/>
<text x="536.6" y="298.0" font-size="14" textLength="128.3" lengthAdjust="spacingAndGlyphs"><tspan dy="-0.00">B220</tspan><tspan dy="-4.50" font-size="8.5">Low</tspan><tspan dy="4.50">IL-7R</tspan><tspan dy="-4.50" font-size="8.5">+</tspan><tspan dy="4.50"> cells</tspan></text>
<text x="499.9" y="421.1" font-size="17" textLength="80.0" lengthAdjust="spacingAndGlyphs" transform="rotate(-90 499.9 421.1)"><tspan dy="-0.00">x10</tspan><tspan dy="-5.60" font-size="10.5">5</tspan><tspan dy="5.60"> cells</tspan></text>
<text x="566.0" y="565.1" font-size="14.8" textLength="72.0" lengthAdjust="spacingAndGlyphs" transform="rotate(-90 566.0 565.1)">BM Lgals3</text>
<text x="560.6" y="492.1" font-size="8.0" textLength="15.3" lengthAdjust="spacingAndGlyphs" transform="rotate(-90 560.6 492.1)">+/+</text>
<text x="604.8" y="566.4" font-size="14.8" textLength="72.4" lengthAdjust="spacingAndGlyphs" transform="rotate(-90 604.8 566.4)">BM Lgals3</text>
<text x="599.4" y="492.6" font-size="8.0" textLength="15.1" lengthAdjust="spacingAndGlyphs" transform="rotate(-90 599.4 492.6)">+/+</text>
<text x="623.2" y="551.8" font-size="14.8" textLength="50.9" lengthAdjust="spacingAndGlyphs" transform="rotate(-90 623.2 551.8)">in Lgals</text>
<text x="617.8" y="499.6" font-size="8.0" textLength="11.6" lengthAdjust="spacingAndGlyphs" transform="rotate(-90 617.8 499.6)">-/-</text>
<line x1="39.5" y1="627.3" x2="39.5" y2="749.0" stroke="#222" stroke-width="1.1"/>
<line x1="39.5" y1="749.0" x2="208.0" y2="749.0" stroke="#222" stroke-width="1.1"/>
<line x1="37.9" y1="718.6" x2="39.5" y2="718.6" stroke="#333" stroke-width="0.8"/>
<line x1="37.9" y1="688.1" x2="39.5" y2="688.1" stroke="#333" stroke-width="0.8"/>
<line x1="37.9" y1="657.7" x2="39.5" y2="657.7" stroke="#333" stroke-width="0.8"/>
<line x1="37.9" y1="627.3" x2="39.5" y2="627.3" stroke="#333" stroke-width="0.8"/>
<line x1="39.5" y1="749.0" x2="39.5" y2="751.0" stroke="#333" stroke-width="0.8"/>
<text x="37.2" y="757.4" font-size="6.6" fill="#333">10</text>
<text x="44.1" y="755.0" font-size="4.8" fill="#333">0</text>
<line x1="52.2" y1="749.0" x2="52.2" y2="750.2" stroke="#555" stroke-width="0.6"/>
<line x1="59.6" y1="749.0" x2="59.6" y2="750.2" stroke="#555" stroke-width="0.6"/>
<line x1="64.9" y1="749.0" x2="64.9" y2="750.2" stroke="#555" stroke-width="0.6"/>
<line x1="68.9" y1="749.0" x2="68.9" y2="750.2" stroke="#555" stroke-width="0.6"/>
<line x1="72.3" y1="749.0" x2="72.3" y2="750.2" stroke="#555" stroke-width="0.6"/>
<line x1="75.1" y1="749.0" x2="75.1" y2="750.2" stroke="#555" stroke-width="0.6"/>
<line x1="77.5" y1="749.0" x2="77.5" y2="750.2" stroke="#555" stroke-width="0.6"/>
<line x1="79.7" y1="749.0" x2="79.7" y2="750.2" stroke="#555" stroke-width="0.6"/>
<line x1="81.6" y1="749.0" x2="81.6" y2="751.0" stroke="#333" stroke-width="0.8"/>
<text x="79.3" y="757.4" font-size="6.6" fill="#333">10</text>
<text x="86.2" y="755.0" font-size="4.8" fill="#333">1</text>
<line x1="94.3" y1="749.0" x2="94.3" y2="750.2" stroke="#555" stroke-width="0.6"/>
<line x1="101.7" y1="749.0" x2="101.7" y2="750.2" stroke="#555" stroke-width="0.6"/>
<line x1="107.0" y1="749.0" x2="107.0" y2="750.2" stroke="#555" stroke-width="0.6"/>
<line x1="111.1" y1="749.0" x2="111.1" y2="750.2" stroke="#555" stroke-width="0.6"/>
<line x1="114.4" y1="749.0" x2="114.4" y2="750.2" stroke="#555" stroke-width="0.6"/>
<line x1="117.2" y1="749.0" x2="117.2" y2="750.2" stroke="#555" stroke-width="0.6"/>
<line x1="119.7" y1="749.0" x2="119.7" y2="750.2" stroke="#555" stroke-width="0.6"/>
<line x1="121.8" y1="749.0" x2="121.8" y2="750.2" stroke="#555" stroke-width="0.6"/>
<line x1="123.8" y1="749.0" x2="123.8" y2="751.0" stroke="#333" stroke-width="0.8"/>
<text x="121.5" y="757.4" font-size="6.6" fill="#333">10</text>
<text x="128.3" y="755.0" font-size="4.8" fill="#333">2</text>
<line x1="136.4" y1="749.0" x2="136.4" y2="750.2" stroke="#555" stroke-width="0.6"/>
<line x1="143.8" y1="749.0" x2="143.8" y2="750.2" stroke="#555" stroke-width="0.6"/>
<line x1="149.1" y1="749.0" x2="149.1" y2="750.2" stroke="#555" stroke-width="0.6"/>
<line x1="153.2" y1="749.0" x2="153.2" y2="750.2" stroke="#555" stroke-width="0.6"/>
<line x1="156.5" y1="749.0" x2="156.5" y2="750.2" stroke="#555" stroke-width="0.6"/>
<line x1="159.3" y1="749.0" x2="159.3" y2="750.2" stroke="#555" stroke-width="0.6"/>
<line x1="161.8" y1="749.0" x2="161.8" y2="750.2" stroke="#555" stroke-width="0.6"/>
<line x1="163.9" y1="749.0" x2="163.9" y2="750.2" stroke="#555" stroke-width="0.6"/>
<line x1="165.9" y1="749.0" x2="165.9" y2="751.0" stroke="#333" stroke-width="0.8"/>
<text x="163.6" y="757.4" font-size="6.6" fill="#333">10</text>
<text x="170.5" y="755.0" font-size="4.8" fill="#333">3</text>
<line x1="178.6" y1="749.0" x2="178.6" y2="750.2" stroke="#555" stroke-width="0.6"/>
<line x1="186.0" y1="749.0" x2="186.0" y2="750.2" stroke="#555" stroke-width="0.6"/>
<line x1="191.2" y1="749.0" x2="191.2" y2="750.2" stroke="#555" stroke-width="0.6"/>
<line x1="195.3" y1="749.0" x2="195.3" y2="750.2" stroke="#555" stroke-width="0.6"/>
<line x1="198.7" y1="749.0" x2="198.7" y2="750.2" stroke="#555" stroke-width="0.6"/>
<line x1="201.5" y1="749.0" x2="201.5" y2="750.2" stroke="#555" stroke-width="0.6"/>
<line x1="203.9" y1="749.0" x2="203.9" y2="750.2" stroke="#555" stroke-width="0.6"/>
<line x1="206.1" y1="749.0" x2="206.1" y2="750.2" stroke="#555" stroke-width="0.6"/>
<line x1="208.0" y1="749.0" x2="208.0" y2="751.0" stroke="#333" stroke-width="0.8"/>
<text x="205.7" y="757.4" font-size="6.6" fill="#333">10</text>
<text x="212.6" y="755.0" font-size="4.8" fill="#333">4</text>
<text x="36.7" y="635.1" font-size="7" textLength="15.0" lengthAdjust="spacingAndGlyphs" transform="rotate(-90 36.7 635.1)" fill="#333">1024</text>
<text x="36.5" y="750.8" font-size="7" transform="rotate(-90 36.5 750.8)" fill="#333">0</text>
<text x="31.6" y="689.3" font-size="18.5" text-anchor="middle" textLength="56.0" lengthAdjust="spacingAndGlyphs" transform="rotate(-90 31.6 689.3)">Events</text>
<line x1="94.2" y1="627.5" x2="161.9" y2="627.5" stroke="#444" stroke-width="1.3"/>
<line x1="94.2" y1="625.1" x2="94.2" y2="629.9" stroke="#444" stroke-width="1.1"/>
<line x1="161.9" y1="625.1" x2="161.9" y2="629.9" stroke="#444" stroke-width="1.1"/>
<text x="110.6" y="644.6" font-size="14.8" textLength="36.8" lengthAdjust="spacingAndGlyphs">In R3</text>
<text x="135.3" y="722.7" font-size="7.0" textLength="66.8" lengthAdjust="spacingAndGlyphs" fill="#333" style="stroke:none">Lgals3+/+: 15.0% ± 2.4</text>
<text x="135.3" y="730.1" font-size="7.0" textLength="63.3" lengthAdjust="spacingAndGlyphs" fill="#333" style="stroke:none">Lgals3-/-: 15.2% ± 3.8</text>
<text x="104.4" y="776.0" font-size="16.3" textLength="40.2" lengthAdjust="spacingAndGlyphs">DLL1</text>
<line x1="268.1" y1="622.0" x2="268.1" y2="749.0" stroke="#999" stroke-width="1.1"/>
<line x1="268.1" y1="749.0" x2="438.0" y2="749.0" stroke="#222" stroke-width="1.1"/>
<line x1="266.5" y1="717.2" x2="268.1" y2="717.2" stroke="#333" stroke-width="0.8"/>
<line x1="266.5" y1="685.5" x2="268.1" y2="685.5" stroke="#333" stroke-width="0.8"/>
<line x1="266.5" y1="653.8" x2="268.1" y2="653.8" stroke="#333" stroke-width="0.8"/>
<line x1="266.5" y1="622.0" x2="268.1" y2="622.0" stroke="#333" stroke-width="0.8"/>
<line x1="268.1" y1="749.0" x2="268.1" y2="751.0" stroke="#333" stroke-width="0.8"/>
<text x="265.8" y="757.4" font-size="6.6" fill="#333">10</text>
<text x="272.7" y="755.0" font-size="4.8" fill="#333">0</text>
<line x1="280.9" y1="749.0" x2="280.9" y2="750.2" stroke="#555" stroke-width="0.6"/>
<line x1="288.4" y1="749.0" x2="288.4" y2="750.2" stroke="#555" stroke-width="0.6"/>
<line x1="293.7" y1="749.0" x2="293.7" y2="750.2" stroke="#555" stroke-width="0.6"/>
<line x1="297.8" y1="749.0" x2="297.8" y2="750.2" stroke="#555" stroke-width="0.6"/>
<line x1="301.2" y1="749.0" x2="301.2" y2="750.2" stroke="#555" stroke-width="0.6"/>
<line x1="304.0" y1="749.0" x2="304.0" y2="750.2" stroke="#555" stroke-width="0.6"/>
<line x1="306.5" y1="749.0" x2="306.5" y2="750.2" stroke="#555" stroke-width="0.6"/>
<line x1="308.6" y1="749.0" x2="308.6" y2="750.2" stroke="#555" stroke-width="0.6"/>
<line x1="310.6" y1="749.0" x2="310.6" y2="751.0" stroke="#333" stroke-width="0.8"/>
<text x="308.3" y="757.4" font-size="6.6" fill="#333">10</text>
<text x="315.2" y="755.0" font-size="4.8" fill="#333">1</text>
<line x1="323.4" y1="749.0" x2="323.4" y2="750.2" stroke="#555" stroke-width="0.6"/>
<line x1="330.8" y1="749.0" x2="330.8" y2="750.2" stroke="#555" stroke-width="0.6"/>
<line x1="336.1" y1="749.0" x2="336.1" y2="750.2" stroke="#555" stroke-width="0.6"/>
<line x1="340.3" y1="749.0" x2="340.3" y2="750.2" stroke="#555" stroke-width="0.6"/>
<line x1="343.6" y1="749.0" x2="343.6" y2="750.2" stroke="#555" stroke-width="0.6"/>
<line x1="346.5" y1="749.0" x2="346.5" y2="750.2" stroke="#555" stroke-width="0.6"/>
<line x1="348.9" y1="749.0" x2="348.9" y2="750.2" stroke="#555" stroke-width="0.6"/>
<line x1="351.1" y1="749.0" x2="351.1" y2="750.2" stroke="#555" stroke-width="0.6"/>
<line x1="353.1" y1="749.0" x2="353.1" y2="751.0" stroke="#333" stroke-width="0.8"/>
<text x="350.8" y="757.4" font-size="6.6" fill="#333">10</text>
<text x="357.7" y="755.0" font-size="4.8" fill="#333">2</text>
<line x1="365.8" y1="749.0" x2="365.8" y2="750.2" stroke="#555" stroke-width="0.6"/>
<line x1="373.3" y1="749.0" x2="373.3" y2="750.2" stroke="#555" stroke-width="0.6"/>
<line x1="378.6" y1="749.0" x2="378.6" y2="750.2" stroke="#555" stroke-width="0.6"/>
<line x1="382.7" y1="749.0" x2="382.7" y2="750.2" stroke="#555" stroke-width="0.6"/>
<line x1="386.1" y1="749.0" x2="386.1" y2="750.2" stroke="#555" stroke-width="0.6"/>
<line x1="388.9" y1="749.0" x2="388.9" y2="750.2" stroke="#555" stroke-width="0.6"/>
<line x1="391.4" y1="749.0" x2="391.4" y2="750.2" stroke="#555" stroke-width="0.6"/>
<line x1="393.6" y1="749.0" x2="393.6" y2="750.2" stroke="#555" stroke-width="0.6"/>
<line x1="395.5" y1="749.0" x2="395.5" y2="751.0" stroke="#333" stroke-width="0.8"/>
<text x="393.2" y="757.4" font-size="6.6" fill="#333">10</text>
<text x="400.1" y="755.0" font-size="4.8" fill="#333">3</text>
<line x1="408.3" y1="749.0" x2="408.3" y2="750.2" stroke="#555" stroke-width="0.6"/>
<line x1="415.8" y1="749.0" x2="415.8" y2="750.2" stroke="#555" stroke-width="0.6"/>
<line x1="421.1" y1="749.0" x2="421.1" y2="750.2" stroke="#555" stroke-width="0.6"/>
<line x1="425.2" y1="749.0" x2="425.2" y2="750.2" stroke="#555" stroke-width="0.6"/>
<line x1="428.6" y1="749.0" x2="428.6" y2="750.2" stroke="#555" stroke-width="0.6"/>
<line x1="431.4" y1="749.0" x2="431.4" y2="750.2" stroke="#555" stroke-width="0.6"/>
<line x1="433.9" y1="749.0" x2="433.9" y2="750.2" stroke="#555" stroke-width="0.6"/>
<line x1="436.1" y1="749.0" x2="436.1" y2="750.2" stroke="#555" stroke-width="0.6"/>
<line x1="438.0" y1="749.0" x2="438.0" y2="751.0" stroke="#333" stroke-width="0.8"/>
<text x="435.7" y="757.4" font-size="6.6" fill="#333">10</text>
<text x="442.6" y="755.0" font-size="4.8" fill="#333">4</text>
<text x="265.3" y="628.6" font-size="7" textLength="12.6" lengthAdjust="spacingAndGlyphs" transform="rotate(-90 265.3 628.6)" fill="#333">512</text>
<text x="265.1" y="750.8" font-size="7" transform="rotate(-90 265.1 750.8)" fill="#333">0</text>
<text x="261.3" y="690.3" font-size="18.5" text-anchor="middle" textLength="56.0" lengthAdjust="spacingAndGlyphs" transform="rotate(-90 261.3 690.3)">Events</text>
<line x1="322.2" y1="622.2" x2="390.5" y2="622.2" stroke="#444" stroke-width="1.3"/>
<line x1="322.2" y1="619.8" x2="322.2" y2="624.6" stroke="#444" stroke-width="1.1"/>
<line x1="390.5" y1="619.8" x2="390.5" y2="624.6" stroke="#444" stroke-width="1.1"/>
<text x="339.3" y="639.9" font-size="14.8" textLength="37.4" lengthAdjust="spacingAndGlyphs">In R3</text>
<text x="362.4" y="724.3" font-size="7.0" textLength="66.6" lengthAdjust="spacingAndGlyphs" fill="#333" style="stroke:none">Lgals3+/+: 28.7% ± 2.9</text>
<text x="362.4" y="731.9" font-size="7.0" textLength="67.8" lengthAdjust="spacingAndGlyphs" fill="#333" style="stroke:none">Lgals3-/-: 39.1% ± 3.7 *</text>
<text x="331.5" y="777.7" font-size="16.3" textLength="40.5" lengthAdjust="spacingAndGlyphs">DLL4</text>
<line x1="496.5" y1="621.9" x2="496.5" y2="748.8" stroke="#555" stroke-width="1.1"/>
<line x1="496.5" y1="748.8" x2="666.0" y2="748.8" stroke="#222" stroke-width="1.1"/>
<line x1="494.9" y1="717.1" x2="496.5" y2="717.1" stroke="#333" stroke-width="0.8"/>
<line x1="494.9" y1="685.3" x2="496.5" y2="685.3" stroke="#333" stroke-width="0.8"/>
<line x1="494.9" y1="653.6" x2="496.5" y2="653.6" stroke="#333" stroke-width="0.8"/>
<line x1="494.9" y1="621.9" x2="496.5" y2="621.9" stroke="#333" stroke-width="0.8"/>
<line x1="496.5" y1="748.8" x2="496.5" y2="750.8" stroke="#333" stroke-width="0.8"/>
<text x="494.2" y="757.2" font-size="6.6" fill="#333">10</text>
<text x="501.1" y="754.8" font-size="4.8" fill="#333">0</text>
<line x1="509.3" y1="748.8" x2="509.3" y2="750.0" stroke="#555" stroke-width="0.6"/>
<line x1="516.7" y1="748.8" x2="516.7" y2="750.0" stroke="#555" stroke-width="0.6"/>
<line x1="522.0" y1="748.8" x2="522.0" y2="750.0" stroke="#555" stroke-width="0.6"/>
<line x1="526.1" y1="748.8" x2="526.1" y2="750.0" stroke="#555" stroke-width="0.6"/>
<line x1="529.5" y1="748.8" x2="529.5" y2="750.0" stroke="#555" stroke-width="0.6"/>
<line x1="532.3" y1="748.8" x2="532.3" y2="750.0" stroke="#555" stroke-width="0.6"/>
<line x1="534.8" y1="748.8" x2="534.8" y2="750.0" stroke="#555" stroke-width="0.6"/>
<line x1="536.9" y1="748.8" x2="536.9" y2="750.0" stroke="#555" stroke-width="0.6"/>
<line x1="538.9" y1="748.8" x2="538.9" y2="750.8" stroke="#333" stroke-width="0.8"/>
<text x="536.6" y="757.2" font-size="6.6" fill="#333">10</text>
<text x="543.5" y="754.8" font-size="4.8" fill="#333">1</text>
<line x1="551.6" y1="748.8" x2="551.6" y2="750.0" stroke="#555" stroke-width="0.6"/>
<line x1="559.1" y1="748.8" x2="559.1" y2="750.0" stroke="#555" stroke-width="0.6"/>
<line x1="564.4" y1="748.8" x2="564.4" y2="750.0" stroke="#555" stroke-width="0.6"/>
<line x1="568.5" y1="748.8" x2="568.5" y2="750.0" stroke="#555" stroke-width="0.6"/>
<line x1="571.8" y1="748.8" x2="571.8" y2="750.0" stroke="#555" stroke-width="0.6"/>
<line x1="574.7" y1="748.8" x2="574.7" y2="750.0" stroke="#555" stroke-width="0.6"/>
<line x1="577.1" y1="748.8" x2="577.1" y2="750.0" stroke="#555" stroke-width="0.6"/>
<line x1="579.3" y1="748.8" x2="579.3" y2="750.0" stroke="#555" stroke-width="0.6"/>
<line x1="581.2" y1="748.8" x2="581.2" y2="750.8" stroke="#333" stroke-width="0.8"/>
<text x="579.0" y="757.2" font-size="6.6" fill="#333">10</text>
<text x="585.9" y="754.8" font-size="4.8" fill="#333">2</text>
<line x1="594.0" y1="748.8" x2="594.0" y2="750.0" stroke="#555" stroke-width="0.6"/>
<line x1="601.5" y1="748.8" x2="601.5" y2="750.0" stroke="#555" stroke-width="0.6"/>
<line x1="606.8" y1="748.8" x2="606.8" y2="750.0" stroke="#555" stroke-width="0.6"/>
<line x1="610.9" y1="748.8" x2="610.9" y2="750.0" stroke="#555" stroke-width="0.6"/>
<line x1="614.2" y1="748.8" x2="614.2" y2="750.0" stroke="#555" stroke-width="0.6"/>
<line x1="617.1" y1="748.8" x2="617.1" y2="750.0" stroke="#555" stroke-width="0.6"/>
<line x1="619.5" y1="748.8" x2="619.5" y2="750.0" stroke="#555" stroke-width="0.6"/>
<line x1="621.7" y1="748.8" x2="621.7" y2="750.0" stroke="#555" stroke-width="0.6"/>
<line x1="623.6" y1="748.8" x2="623.6" y2="750.8" stroke="#333" stroke-width="0.8"/>
<text x="621.3" y="757.2" font-size="6.6" fill="#333">10</text>
<text x="628.2" y="754.8" font-size="4.8" fill="#333">3</text>
<line x1="636.4" y1="748.8" x2="636.4" y2="750.0" stroke="#555" stroke-width="0.6"/>
<line x1="643.8" y1="748.8" x2="643.8" y2="750.0" stroke="#555" stroke-width="0.6"/>
<line x1="649.1" y1="748.8" x2="649.1" y2="750.0" stroke="#555" stroke-width="0.6"/>
<line x1="653.2" y1="748.8" x2="653.2" y2="750.0" stroke="#555" stroke-width="0.6"/>
<line x1="656.6" y1="748.8" x2="656.6" y2="750.0" stroke="#555" stroke-width="0.6"/>
<line x1="659.4" y1="748.8" x2="659.4" y2="750.0" stroke="#555" stroke-width="0.6"/>
<line x1="661.9" y1="748.8" x2="661.9" y2="750.0" stroke="#555" stroke-width="0.6"/>
<line x1="664.1" y1="748.8" x2="664.1" y2="750.0" stroke="#555" stroke-width="0.6"/>
<line x1="666.0" y1="748.8" x2="666.0" y2="750.8" stroke="#333" stroke-width="0.8"/>
<text x="663.7" y="757.2" font-size="6.6" fill="#333">10</text>
<text x="670.6" y="754.8" font-size="4.8" fill="#333">4</text>
<text x="493.7" y="628.5" font-size="7" textLength="12.6" lengthAdjust="spacingAndGlyphs" transform="rotate(-90 493.7 628.5)" fill="#333">512</text>
<text x="493.5" y="750.6" font-size="7" transform="rotate(-90 493.5 750.6)" fill="#333">0</text>
<text x="489.8" y="690.3" font-size="18.5" text-anchor="middle" textLength="56.0" lengthAdjust="spacingAndGlyphs" transform="rotate(-90 489.8 690.3)">Events</text>
<line x1="551.3" y1="622.9" x2="619.2" y2="622.9" stroke="#444" stroke-width="1.3"/>
<line x1="551.3" y1="620.5" x2="551.3" y2="625.3" stroke="#444" stroke-width="1.1"/>
<line x1="619.2" y1="620.5" x2="619.2" y2="625.3" stroke="#444" stroke-width="1.1"/>
<text x="568.0" y="640.0" font-size="14.8" textLength="37.0" lengthAdjust="spacingAndGlyphs">In R3</text>
<text x="594.4" y="724.0" font-size="7.0" textLength="66.6" lengthAdjust="spacingAndGlyphs" fill="#333" style="stroke:none">Lgals3+/+: 49.7% ± 2.6</text>
<text x="594.4" y="731.6" font-size="7.0" textLength="67.8" lengthAdjust="spacingAndGlyphs" fill="#333" style="stroke:none">Lgals3-/-: 64.2% ± 6.4 *</text>
<text x="559.7" y="777.7" font-size="16.3" textLength="42.5" lengthAdjust="spacingAndGlyphs">JAG1</text>
<path d="M44.0 749.0L44.0 748.7L44.7 748.7L45.4 748.6L46.1 748.6L46.8 748.5L47.5 748.4L48.2 748.3L48.9 748.1L49.6 748.0L50.3 747.8L51.0 747.6L51.7 747.3L52.4 747.0L53.1 746.7L53.8 746.3L54.5 745.9L55.2 745.4L55.9 744.8L56.6 744.2L57.3 743.5L58.0 742.7L58.7 741.8L59.4 740.8L60.1 739.8L60.8 738.6L61.5 737.3L62.2 735.8L62.9 734.2L63.6 732.4L64.3 730.8L65.0 728.6L65.7 726.4L66.4 724.2L67.1 721.9L67.8 719.3L68.5 716.7L69.2 713.4L69.9 710.8L70.6 707.7L71.3 704.3L72.0 701.5L72.7 698.4L73.4 694.9L74.1 691.4L74.8 688.7L75.5 685.2L76.2 682.1L76.9 679.4L77.6 676.0L78.3 674.1L79.0 671.7L79.7 669.7L80.4 667.3L81.1 666.7L81.8 665.1L82.5 665.0L83.2 667.0L83.9 669.1L84.6 671.9L85.3 674.4L86.0 677.3L86.7 680.1L87.4 683.9L88.1 687.1L88.8 690.3L89.5 692.9L90.2 695.9L90.9 699.1L91.6 702.0L92.3 704.8L93.0 707.0L93.7 709.7L94.4 712.3L95.1 714.3L95.8 716.6L96.5 718.5L97.2 720.7L97.9 722.7L98.6 724.4L99.3 726.1L100.0 727.6L100.7 729.0L101.4 730.5L102.1 731.7L102.8 733.1L103.5 734.1L104.2 735.3L104.9 736.2L105.6 737.2L106.3 738.1L107.0 739.0L107.7 739.7L108.4 740.4L109.1 741.0L109.8 741.7L110.5 742.3L111.2 742.8L111.9 743.3L112.6 743.8L113.3 744.2L114.0 744.6L114.7 744.9L115.4 745.3L116.1 745.6L116.8 745.9L117.5 746.1L118.2 746.4L118.9 746.6L119.6 746.8L120.3 747.0L121.0 747.2L121.7 747.3L122.4 747.5L123.1 747.6L123.8 747.7L124.5 747.8L125.2 747.9L125.9 748.0L126.6 748.1L127.3 748.2L128.0 748.3L128.7 748.3L129.4 748.4L130.1 748.5L130.8 748.5L131.5 748.6L132.2 748.6L132.9 748.6L133.6 748.7L134.3 748.7L135.0 748.7L135.7 748.8L136.4 748.8L137.1 748.8L137.8 748.8L138.5 748.8L139.2 748.9L139.9 748.9L140.6 748.9L141.3 748.9L142.0 748.9L142.7 748.9L143.4 748.9L144.1 748.9L144.8 748.9L145.5 748.9L146.2 748.9L146.9 749.0L147.6 749.0L148.3 749.0L149.0 749.0L149.7 749.0L149.7 749.0Z" fill="#a6a6a6" stroke="#3a3a3a" stroke-width="1.0"/>
<path d="M42.0 749.0L42.0 748.7L42.7 748.6L43.4 748.6L44.1 748.5L44.8 748.4L45.5 748.3L46.2 748.1L46.9 748.0L47.6 747.8L48.3 747.6L49.0 747.4L49.7 747.1L50.4 746.9L51.1 746.5L51.8 746.2L52.5 745.7L53.2 745.3L53.9 744.8L54.6 744.1L55.3 743.5L56.0 742.7L56.7 741.9L57.4 741.1L58.1 740.1L58.8 738.9L59.5 737.8L60.2 736.4L60.9 735.1L61.6 733.4L62.3 731.7L63.0 730.0L63.7 728.3L64.4 726.2L65.1 724.2L65.8 721.8L66.5 719.3L67.2 716.9L67.9 714.3L68.6 711.8L69.3 708.7L70.0 706.2L70.7 703.1L71.4 700.3L72.1 697.0L72.8 694.2L73.5 690.9L74.2 688.1L74.9 684.9L75.6 682.0L76.3 679.2L77.0 677.4L77.7 674.8L78.4 673.1L79.1 671.2L79.8 669.1L80.5 668.5L81.2 667.2L81.9 667.2L82.6 667.4L83.3 668.8L84.0 671.1L84.7 673.7L85.4 676.9L86.1 679.2L86.8 682.0L87.5 685.6L88.2 687.8L88.9 690.9L89.6 693.7L90.3 696.5L91.0 699.1L91.7 701.9L92.4 704.3L93.1 706.6L93.8 708.9L94.5 711.1L95.2 713.5L95.9 715.2L96.6 717.4L97.3 719.2L98.0 720.8L98.7 722.6L99.4 724.4L100.1 725.9L100.8 727.1L101.5 728.6L102.2 729.8L102.9 731.3L103.6 732.3L104.3 733.4L105.0 734.6L105.7 735.5L106.4 736.4L107.1 737.2L107.8 738.1L108.5 738.8L109.2 739.6L109.9 740.2L110.6 740.8L111.3 741.4L112.0 742.0L112.7 742.5L113.4 743.0L114.1 743.4L114.8 743.9L115.5 744.3L116.2 744.6L116.9 744.9L117.6 745.2L118.3 745.5L119.0 745.8L119.7 746.0L120.4 746.3L121.1 746.5L121.8 746.7L122.5 746.9L123.2 747.0L123.9 747.2L124.6 747.4L125.3 747.5L126.0 747.6L126.7 747.7L127.4 747.8L128.1 747.9L128.8 748.0L129.5 748.1L130.2 748.2L130.9 748.2L131.6 748.3L132.3 748.4L133.0 748.4L133.7 748.5L134.4 748.5L135.1 748.5L135.8 748.6L136.5 748.6L137.2 748.7L137.9 748.7L138.6 748.7L139.3 748.7L140.0 748.8L140.7 748.8L141.4 748.8L142.1 748.8L142.8 748.8L143.5 748.8L144.2 748.9L144.9 748.9L145.6 748.9L146.3 748.9L147.0 748.9L147.7 748.9L148.4 748.9L149.1 748.9L149.8 748.9L150.5 748.9L151.2 748.9L151.9 749.0L152.6 749.0L153.3 749.0L154.0 749.0L154.7 749.0L155.4 749.0L156.1 749.0L156.8 749.0L157.5 749.0L158.2 749.0L158.9 749.0L159.6 749.0" fill="none" stroke="#111" stroke-width="1.1"/>
<path d="M268.8 749.0L268.8 742.5L269.5 742.3L270.2 742.2L270.9 741.6L271.6 740.8L272.3 740.6L273.0 740.2L273.7 739.5L274.4 739.6L275.1 738.5L275.8 738.2L276.5 737.7L277.2 737.0L277.9 736.5L278.6 736.1L279.3 735.7L280.0 734.2L280.7 734.1L281.4 733.6L282.1 732.2L282.8 730.8L283.5 731.1L284.2 728.6L284.9 727.2L285.6 727.0L286.3 725.0L287.0 723.3L287.7 723.0L288.4 720.4L289.1 721.7L289.8 720.5L290.5 719.4L291.2 720.5L291.9 720.9L292.6 718.6L293.3 719.4L294.0 718.1L294.7 719.0L295.4 718.6L296.1 716.7L296.8 718.0L297.5 717.1L298.2 716.8L298.9 716.8L299.6 715.1L300.3 715.7L301.0 715.7L301.7 712.7L302.4 714.5L303.1 712.3L303.8 711.9L304.5 710.1L305.2 711.3L305.9 708.6L306.6 708.7L307.3 703.3L308.0 701.1L308.7 697.1L309.4 695.1L310.1 690.2L310.8 687.4L311.5 688.8L312.2 687.8L312.9 686.2L313.6 687.9L314.3 683.2L315.0 686.7L315.7 682.5L316.4 687.1L317.1 685.0L317.8 684.9L318.5 687.0L319.2 685.8L319.9 685.8L320.6 681.4L321.3 683.3L322.0 681.7L322.7 682.4L323.4 682.6L324.1 686.5L324.8 682.2L325.5 683.2L326.2 684.4L326.9 686.5L327.6 687.1L328.3 685.5L329.0 682.5L329.7 684.9L330.4 686.8L331.1 684.5L331.8 689.6L332.5 689.4L333.2 692.1L333.9 694.0L334.6 695.7L335.3 697.0L336.0 699.7L336.7 701.0L337.4 705.0L338.1 706.4L338.8 710.6L339.5 713.5L340.2 717.0L340.9 718.7L341.6 720.5L342.3 724.6L343.0 726.7L343.7 730.5L344.4 732.7L345.1 735.3L345.8 737.8L346.5 738.5L347.2 739.3L347.9 740.1L348.6 741.0L349.3 741.5L350.0 742.6L350.7 743.6L351.4 744.2L352.1 745.0L352.8 745.6L353.5 745.9L354.2 746.1L354.9 746.4L355.6 746.6L356.3 746.7L357.0 747.0L357.7 747.2L358.4 747.4L359.1 747.7L359.8 747.9L360.5 748.0L361.2 748.1L361.9 748.2L362.6 748.3L363.3 748.3L364.0 748.4L364.7 748.4L365.4 748.5L366.1 748.6L366.8 748.7L367.5 748.8L368.2 748.8L368.9 748.9L369.6 748.9L369.6 749.0Z" fill="#a6a6a6" stroke="#3a3a3a" stroke-width="1.0"/>
<path d="M282.5 749.0L282.5 748.9L283.2 748.7L283.9 748.3L284.6 747.9L285.3 747.6L286.0 747.2L286.7 747.0L287.4 746.5L288.1 746.3L288.8 745.9L289.5 745.6L290.2 745.1L290.9 744.6L291.6 743.9L292.3 742.8L293.0 741.1L293.7 740.1L294.4 738.8L295.1 736.7L295.8 735.7L296.5 734.4L297.2 733.4L297.9 731.5L298.6 728.9L299.3 727.4L300.0 725.2L300.7 723.0L301.4 721.8L302.1 718.2L302.8 715.6L303.5 714.2L304.2 712.2L304.9 710.7L305.6 706.8L306.3 702.9L307.0 702.7L307.7 698.2L308.4 696.2L309.1 692.6L309.8 688.9L310.5 688.8L311.2 687.2L311.9 682.1L312.6 681.4L313.3 679.3L314.0 677.1L314.7 676.7L315.4 680.3L316.1 679.1L316.8 675.5L317.5 676.9L318.2 672.1L318.9 676.8L319.6 674.5L320.3 676.6L321.0 674.1L321.7 675.4L322.4 675.9L323.1 680.2L323.8 677.8L324.5 678.9L325.2 682.1L325.9 682.4L326.6 680.2L327.3 680.3L328.0 683.6L328.7 680.4L329.4 682.6L330.1 685.7L330.8 686.8L331.5 684.6L332.2 685.3L332.9 690.3L333.6 691.0L334.3 690.7L335.0 693.5L335.7 693.1L336.4 697.5L337.1 699.0L337.8 702.4L338.5 703.1L339.2 708.1L339.9 710.2L340.6 713.6L341.3 716.1L342.0 719.7L342.7 722.1L343.4 724.6L344.1 726.0L344.8 728.7L345.5 730.9L346.2 733.7L346.9 736.0L347.6 737.2L348.3 738.7L349.0 739.3L349.7 740.0L350.4 740.8L351.1 741.7L351.8 742.1L352.5 742.6L353.2 743.3L353.9 744.3L354.6 744.8L355.3 745.7L356.0 746.1L356.7 746.5L357.4 746.8L358.1 746.8L358.8 747.0L359.5 747.2L360.2 747.4L360.9 747.6L361.6 747.7L362.3 747.9L363.0 748.0L363.7 748.2L364.4 748.3L365.1 748.5L365.8 748.6L366.5 748.6L367.2 748.7L367.9 748.7L368.6 748.8L369.3 748.8L370.0 748.9L370.7 748.9L371.4 748.9" fill="none" stroke="#111" stroke-width="1.1"/>
<line x1="268.7" y1="678.0" x2="268.7" y2="749.0" stroke="#111" stroke-width="1.5"/>
<path d="M505.0 748.8L505.0 748.4L505.7 748.2L506.4 747.8L507.1 747.4L507.8 747.0L508.5 746.7L509.2 746.4L509.9 746.0L510.6 745.6L511.3 745.5L512.0 744.8L512.7 743.8L513.4 742.8L514.1 742.0L514.8 740.9L515.5 739.8L516.2 738.5L516.9 737.5L517.6 736.5L518.3 734.7L519.0 733.9L519.7 732.0L520.4 731.2L521.1 728.5L521.8 727.9L522.5 726.6L523.2 723.9L523.9 723.6L524.6 722.1L525.3 718.7L526.0 718.2L526.7 713.9L527.4 711.9L528.1 708.4L528.8 704.2L529.5 701.2L530.2 699.6L530.9 695.0L531.6 692.4L532.3 693.6L533.0 691.5L533.7 692.0L534.4 688.8L535.1 688.9L535.8 691.2L536.5 690.5L537.2 691.0L537.9 690.3L538.6 689.9L539.3 694.6L540.0 692.4L540.7 697.3L541.4 697.5L542.1 701.7L542.8 701.8L543.5 705.4L544.2 705.8L544.9 706.3L545.6 709.3L546.3 709.9L547.0 710.1L547.7 709.1L548.4 707.9L549.1 708.8L549.8 706.7L550.5 708.1L551.2 707.5L551.9 706.3L552.6 706.8L553.3 703.1L554.0 701.2L554.7 699.6L555.4 695.0L556.1 693.9L556.8 691.7L557.5 691.8L558.2 690.8L558.9 688.3L559.6 687.4L560.3 683.0L561.0 684.4L561.7 683.8L562.4 680.8L563.1 681.8L563.8 682.6L564.5 686.5L565.2 685.3L565.9 687.9L566.6 688.8L567.3 693.4L568.0 697.1L568.7 701.0L569.4 703.6L570.1 704.6L570.8 709.8L571.5 710.9L572.2 716.1L572.9 718.1L573.6 722.1L574.3 724.5L575.0 728.3L575.7 730.3L576.4 731.5L577.1 734.1L577.8 735.9L578.5 738.2L579.2 740.3L579.9 741.8L580.6 743.3L581.3 743.7L582.0 744.4L582.7 744.9L583.4 745.5L584.1 746.2L584.8 746.8L585.5 747.5L586.2 747.9L586.2 748.8Z" fill="#a6a6a6" stroke="#3a3a3a" stroke-width="1.0"/>
<path d="M510.0 748.8L510.0 748.8L510.7 748.7L511.4 748.7L512.1 748.6L512.8 748.5L513.5 748.5L514.2 748.4L514.9 748.3L515.6 748.2L516.3 748.2L517.0 748.1L517.7 748.0L518.4 747.9L519.1 747.9L519.8 747.8L520.5 747.6L521.2 747.3L521.9 747.0L522.6 746.8L523.3 746.5L524.0 746.2L524.7 745.9L525.4 745.6L526.1 745.4L526.8 745.1L527.5 744.7L528.2 744.0L528.9 743.3L529.6 742.1L530.3 741.2L531.0 740.2L531.7 739.0L532.4 738.0L533.1 737.2L533.8 735.9L534.5 735.0L535.2 734.1L535.9 732.2L536.6 730.8L537.3 728.1L538.0 725.8L538.7 724.2L539.4 721.0L540.1 719.9L540.8 718.0L541.5 716.7L542.2 714.2L542.9 713.2L543.6 712.8L544.3 711.5L545.0 710.3L545.7 711.5L546.4 711.7L547.1 712.1L547.8 710.8L548.5 711.1L549.2 712.1L549.9 711.0L550.6 711.4L551.3 711.7L552.0 711.8L552.7 712.1L553.4 712.8L554.1 712.7L554.8 713.1L555.5 713.3L556.2 713.1L556.9 713.8L557.6 714.9L558.3 715.0L559.0 714.3L559.7 712.9L560.4 711.9L561.1 709.9L561.8 708.0L562.5 706.0L563.2 702.0L563.9 698.5L564.6 693.3L565.3 689.8L566.0 685.3L566.7 681.1L567.4 675.7L568.1 668.0L568.8 665.4L569.5 662.0L570.2 659.8L570.9 656.9L571.6 655.8L572.3 656.2L573.0 656.1L573.7 661.2L574.4 663.3L575.1 663.2L575.8 668.9L576.5 670.1L577.2 673.7L577.9 679.7L578.6 683.8L579.3 686.1L580.0 691.9L580.7 694.5L581.4 698.0L582.1 702.2L582.8 705.8L583.5 710.9L584.2 713.9L584.9 717.8L585.6 720.3L586.3 722.2L587.0 725.1L587.7 727.7L588.4 729.4L589.1 732.3L589.8 734.0L590.5 736.2L591.2 737.4L591.9 738.6L592.6 739.3L593.3 740.2L594.0 741.0L594.7 741.7L595.4 742.5L596.1 743.4L596.8 744.3L597.5 745.0L598.2 745.9L598.9 746.5L599.6 747.0L600.3 747.2L601.0 747.3L601.7 747.5L602.4 747.7L603.1 747.8L603.8 747.9L604.5 748.1L605.2 748.2L605.9 748.4L606.6 748.5L607.3 748.7L608.0 748.8" fill="none" stroke="#111" stroke-width="1.1"/>
</svg>
</body></html>
